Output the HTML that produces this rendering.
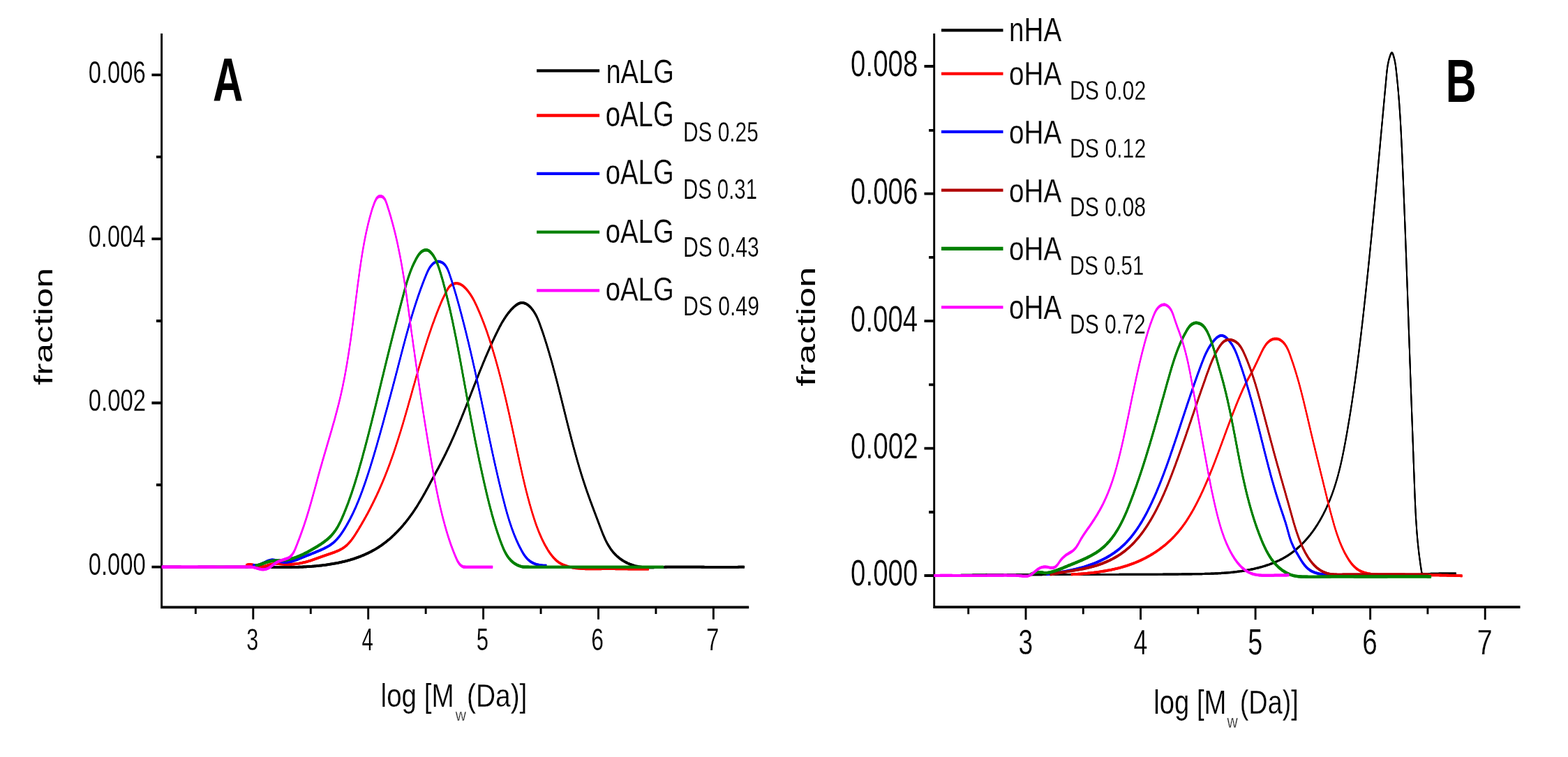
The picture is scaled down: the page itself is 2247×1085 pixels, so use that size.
<!DOCTYPE html>
<html lang="en">
<head>
<meta charset="utf-8">
<title>Molecular weight distributions</title>
<style>
html,body{margin:0;padding:0;background:#fff;}
body{width:2247px;height:1085px;overflow:hidden;font-family:"Liberation Sans",Arial,sans-serif;}
svg{display:block;}
</style>
</head>
<body>
<svg xmlns="http://www.w3.org/2000/svg" width="2247" height="1085" viewBox="0 0 2247 1085">
<rect width="2247" height="1085" fill="#ffffff"/>
<g id="fig">
<path d="M230.15 48.00h2.90v824.20h-2.90zM230.15 868.40h843.05v3.80h-843.05zM217.40 105.50h14.20v3.80h-14.20zM217.40 340.50h14.20v3.80h-14.20zM217.40 575.60h14.20v3.80h-14.20zM217.40 810.70h14.20v3.80h-14.20zM224.00 223.00h7.60v3.80h-7.60zM224.00 458.10h7.60v3.80h-7.60zM224.00 693.10h7.60v3.80h-7.60zM361.35 870.30h2.90v17.50h-2.90zM526.25 870.30h2.90v17.50h-2.90zM691.15 870.30h2.90v17.50h-2.90zM856.05 870.30h2.90v17.50h-2.90zM1020.95 870.30h2.90v17.50h-2.90zM278.90 870.30h2.90v9.60h-2.90zM443.80 870.30h2.90v9.60h-2.90zM608.70 870.30h2.90v9.60h-2.90zM773.60 870.30h2.90v9.60h-2.90zM938.50 870.30h2.90v9.60h-2.90z" fill="#000"/>
<path d="M1337.25 48.00h2.90v824.10h-2.90zM1337.25 868.30h841.25v3.80h-841.25zM1324.50 93.10h14.20v3.80h-14.20zM1324.50 275.70h14.20v3.80h-14.20zM1324.50 458.30h14.20v3.80h-14.20zM1324.50 640.70h14.20v3.80h-14.20zM1324.50 823.10h14.20v3.80h-14.20zM1331.10 184.90h7.60v3.80h-7.60zM1331.10 367.00h7.60v3.80h-7.60zM1331.10 549.50h7.60v3.80h-7.60zM1331.10 732.10h7.60v3.80h-7.60zM1468.55 870.20h2.90v18.00h-2.90zM1633.10 870.20h2.90v18.00h-2.90zM1797.65 870.20h2.90v18.00h-2.90zM1962.20 870.20h2.90v18.00h-2.90zM2126.75 870.20h2.90v18.00h-2.90zM1386.27 870.20h2.90v10.00h-2.90zM1550.82 870.20h2.90v10.00h-2.90zM1715.37 870.20h2.90v10.00h-2.90zM1879.92 870.20h2.90v10.00h-2.90zM2044.47 870.20h2.90v10.00h-2.90z" fill="#000"/>
<g fill="none" stroke="#000000" stroke-width="1.30" stroke-linejoin="round" stroke-linecap="butt">
<path id="c1" transform="translate(-0.40 -1.25)" d="M231.9 812.65 L233.5 812.51 L235.0 812.53 L236.5 812.56 L238.0 812.58 L239.4 812.60 L240.9 812.62 L242.4 812.64 L243.9 812.66 L245.4 812.67 L246.9 812.69 L248.4 812.70 L249.9 812.72 L251.4 812.73 L252.9 812.74 L254.3 812.75 L255.8 812.76 L257.3 812.76 L258.8 812.77 L260.3 812.78 L261.8 812.78 L263.3 812.79 L264.8 812.79 L266.3 812.79 L267.8 812.80 L269.3 812.80 L270.8 812.80 L272.3 812.80 L273.8 812.80 L275.3 812.79 L276.8 812.79 L278.3 812.79 L279.8 812.79 L281.3 812.78 L282.8 812.78 L284.3 812.77 L285.8 812.77 L287.3 812.76 L288.8 812.76 L290.4 812.75 L291.9 812.75 L293.4 812.74 L294.9 812.73 L296.4 812.73 L297.9 812.72 L299.4 812.71 L300.9 812.70 L302.4 812.70 L303.9 812.69 L305.4 812.68 L306.9 812.67 L308.4 812.67 L309.9 812.66 L311.4 812.65 L312.9 812.64 L314.4 812.64 L315.9 812.63 L317.5 812.62 L319.0 812.62 L320.5 812.61 L322.0 812.60 L323.5 812.60 L325.0 812.59 L326.5 812.59 L328.0 812.58 L329.5 812.58 L331.0 812.57 L332.5 812.57 L334.0 812.57 L335.5 812.56 L337.0 812.56 L338.5 812.56 L340.0 812.56 L341.5 812.56 L343.0 812.56 L344.5 812.56 L346.0 812.56 L347.5 812.57 L349.0 812.57 L350.5 812.57 L352.0 812.58 L353.5 812.58 L355.0 812.59 L356.5 812.60 L358.0 812.61 L359.5 812.62 L361.0 812.63 L362.5 812.64 L364.0 812.65 L365.5 812.67 L367.0 812.68 L368.5 812.70 L370.0 812.71 L371.5 812.73 L373.0 812.75 L374.5 812.77 L375.9 812.79 L377.4 812.81 L378.9 812.83 L380.4 812.85 L381.9 812.87 L383.4 812.89 L384.9 812.91 L386.4 812.93 L387.9 812.95 L389.4 812.97 L390.8 812.98 L392.3 813.00 L393.8 813.02 L395.3 813.03 L396.8 813.04 L398.3 813.05 L399.8 813.06 L401.3 813.07 L402.8 813.07 L404.2 813.08 L405.7 813.08 L407.2 813.08 L408.7 813.07 L410.2 813.07 L411.7 813.06 L413.2 813.05 L414.7 813.03 L416.2 813.01 L417.7 812.99 L419.2 812.97 L420.7 812.94 L422.2 812.91 L423.7 812.87 L425.2 812.83 L426.7 812.79 L428.2 812.74 L429.7 812.69 L431.2 812.63 L432.7 812.57 L434.2 812.51 L435.7 812.44 L437.2 812.36 L438.7 812.28 L440.2 812.20 L441.7 812.10 L443.2 812.01 L444.7 811.91 L446.2 811.80 L447.8 811.68 L449.3 811.56 L450.8 811.44 L452.3 811.30 L453.8 811.17 L455.3 811.02 L456.8 810.87 L458.3 810.71 L459.8 810.54 L461.4 810.37 L462.9 810.19 L464.4 810.00 L465.9 809.81 L467.4 809.61 L468.9 809.40 L470.4 809.18 L471.9 808.95 L473.4 808.72 L474.9 808.48 L476.4 808.23 L477.9 807.97 L479.4 807.70 L480.9 807.42 L482.3 807.14 L483.8 806.85 L485.3 806.54 L486.8 806.23 L488.3 805.91 L489.7 805.58 L491.2 805.24 L492.7 804.88 L494.1 804.52 L495.6 804.15 L497.0 803.77 L498.5 803.38 L499.9 802.98 L501.4 802.57 L502.8 802.15 L504.2 801.71 L505.7 801.27 L507.1 800.81 L508.5 800.34 L509.9 799.87 L511.3 799.38 L512.7 798.88 L514.1 798.36 L515.5 797.84 L516.9 797.30 L518.3 796.75 L519.6 796.19 L521.0 795.62 L522.4 795.03 L523.7 794.43 L525.1 793.82 L526.4 793.20 L527.7 792.56 L529.1 791.91 L530.4 791.25 L531.7 790.57 L533.0 789.88 L534.3 789.18 L535.6 788.46 L536.9 787.73 L538.2 786.98 L539.4 786.22 L540.7 785.45 L542.0 784.66 L543.2 783.85 L544.4 783.03 L545.7 782.20 L546.9 781.36 L548.1 780.50 L549.3 779.62 L550.5 778.73 L551.7 777.83 L552.9 776.92 L554.0 775.99 L555.2 775.05 L556.3 774.10 L557.5 773.14 L558.6 772.16 L559.8 771.17 L560.9 770.17 L562.0 769.16 L563.1 768.14 L564.2 767.11 L565.3 766.07 L566.3 765.02 L567.4 763.95 L568.5 762.88 L569.5 761.80 L570.6 760.71 L571.6 759.61 L572.6 758.50 L573.7 757.38 L574.7 756.25 L575.7 755.12 L576.7 753.98 L577.7 752.83 L578.6 751.67 L579.6 750.50 L580.6 749.33 L581.5 748.15 L582.5 746.97 L583.4 745.78 L584.3 744.58 L585.3 743.38 L586.2 742.17 L587.1 740.95 L588.0 739.74 L588.8 738.51 L589.7 737.28 L590.6 736.05 L591.5 734.81 L592.3 733.57 L593.2 732.32 L594.0 731.08 L594.8 729.82 L595.6 728.57 L596.5 727.31 L597.3 726.05 L598.1 724.78 L598.9 723.51 L599.6 722.24 L600.4 720.97 L601.2 719.69 L602.0 718.41 L602.7 717.13 L603.5 715.84 L604.2 714.56 L605.0 713.27 L605.7 711.98 L606.5 710.68 L607.2 709.39 L607.9 708.09 L608.7 706.79 L609.4 705.49 L610.1 704.18 L610.8 702.88 L611.5 701.57 L612.3 700.26 L613.0 698.95 L613.7 697.64 L614.4 696.33 L615.1 695.02 L615.8 693.70 L616.5 692.39 L617.2 691.07 L617.9 689.75 L618.6 688.44 L619.3 687.12 L620.1 685.80 L620.8 684.48 L621.5 683.16 L622.2 681.84 L622.9 680.52 L623.6 679.19 L624.3 677.87 L625.0 676.55 L625.7 675.22 L626.4 673.89 L627.2 672.57 L627.9 671.24 L628.6 669.91 L629.3 668.58 L630.0 667.25 L630.7 665.92 L631.4 664.58 L632.1 663.25 L632.8 661.91 L633.4 660.58 L634.1 659.24 L634.8 657.90 L635.5 656.56 L636.2 655.21 L636.8 653.87 L637.5 652.52 L638.2 651.18 L638.8 649.83 L639.5 648.48 L640.1 647.13 L640.8 645.77 L641.4 644.42 L642.1 643.06 L642.7 641.71 L643.4 640.35 L644.0 638.99 L644.6 637.63 L645.3 636.27 L645.9 634.90 L646.5 633.54 L647.1 632.17 L647.7 630.81 L648.3 629.44 L649.0 628.07 L649.6 626.70 L650.2 625.33 L650.8 623.95 L651.4 622.58 L652.0 621.21 L652.6 619.83 L653.1 618.46 L653.7 617.08 L654.3 615.70 L654.9 614.32 L655.5 612.94 L656.1 611.56 L656.7 610.18 L657.2 608.80 L657.8 607.41 L658.4 606.03 L658.9 604.65 L659.5 603.26 L660.1 601.88 L660.7 600.49 L661.2 599.10 L661.8 597.71 L662.3 596.33 L662.9 594.94 L663.5 593.55 L664.0 592.16 L664.6 590.77 L665.1 589.38 L665.7 587.98 L666.2 586.59 L666.8 585.20 L667.3 583.81 L667.9 582.41 L668.4 581.02 L669.0 579.63 L669.5 578.23 L670.1 576.84 L670.6 575.45 L671.2 574.05 L671.7 572.66 L672.3 571.26 L672.8 569.86 L673.4 568.47 L673.9 567.07 L674.5 565.68 L675.0 564.28 L675.5 562.89 L676.1 561.49 L676.6 560.10 L677.2 558.70 L677.7 557.30 L678.3 555.91 L678.8 554.51 L679.4 553.12 L679.9 551.72 L680.5 550.33 L681.0 548.93 L681.6 547.54 L682.1 546.14 L682.6 544.75 L683.2 543.35 L683.8 541.96 L684.3 540.57 L684.9 539.17 L685.4 537.78 L686.0 536.39 L686.5 535.00 L687.1 533.60 L687.6 532.21 L688.2 530.82 L688.8 529.43 L689.3 528.04 L689.9 526.65 L690.5 525.26 L691.0 523.88 L691.6 522.49 L692.2 521.10 L692.7 519.72 L693.3 518.33 L693.9 516.95 L694.5 515.56 L695.0 514.18 L695.6 512.79 L696.2 511.41 L696.8 510.03 L697.4 508.65 L698.0 507.27 L698.6 505.89 L699.2 504.52 L699.8 503.14 L700.4 501.76 L701.0 500.39 L701.6 499.01 L702.2 497.64 L702.8 496.27 L703.4 494.90 L704.0 493.53 L704.7 492.16 L705.3 490.79 L705.9 489.43 L706.5 488.06 L707.2 486.70 L707.8 485.34 L708.4 483.97 L709.1 482.61 L709.7 481.25 L710.4 479.90 L711.0 478.54 L711.7 477.19 L712.4 475.83 L713.0 474.48 L713.7 473.13 L714.4 471.78 L715.1 470.44 L715.7 469.10 L716.4 467.77 L717.2 466.44 L717.9 465.11 L718.6 463.80 L719.3 462.49 L720.1 461.18 L720.9 459.89 L721.7 458.60 L722.4 457.32 L723.3 456.05 L724.1 454.80 L724.9 453.55 L725.8 452.31 L726.7 451.09 L727.6 449.87 L728.5 448.68 L729.5 447.49 L730.4 446.32 L731.4 445.16 L732.4 444.02 L733.5 442.89 L734.6 441.78 L735.7 440.69 L736.8 439.64 L737.9 438.64 L739.1 437.71 L740.3 436.85 L741.5 436.08 L742.7 435.42 L743.9 434.88 L745.2 434.47 L746.5 434.19 L747.7 434.06 L749.0 434.07 L750.3 434.22 L751.6 434.52 L752.8 434.96 L754.0 435.53 L755.2 436.22 L756.4 437.03 L757.6 437.93 L758.7 438.93 L759.8 440.00 L760.9 441.15 L761.9 442.36 L762.9 443.62 L763.9 444.92 L764.8 446.26 L765.7 447.61 L766.5 448.98 L767.3 450.35 L768.1 451.73 L768.8 453.12 L769.5 454.51 L770.1 455.90 L770.7 457.30 L771.3 458.71 L771.9 460.12 L772.4 461.53 L773.0 462.94 L773.5 464.35 L774.0 465.77 L774.5 467.18 L775.0 468.60 L775.5 470.01 L776.0 471.43 L776.5 472.84 L777.0 474.26 L777.5 475.68 L778.0 477.10 L778.5 478.52 L778.9 479.94 L779.4 481.36 L779.9 482.78 L780.3 484.20 L780.8 485.62 L781.2 487.04 L781.7 488.46 L782.1 489.89 L782.6 491.31 L783.0 492.74 L783.5 494.16 L783.9 495.59 L784.3 497.02 L784.8 498.45 L785.2 499.87 L785.6 501.30 L786.0 502.74 L786.5 504.17 L786.9 505.60 L787.3 507.03 L787.7 508.47 L788.1 509.90 L788.5 511.34 L789.0 512.78 L789.4 514.22 L789.8 515.66 L790.2 517.10 L790.6 518.54 L791.0 519.98 L791.4 521.42 L791.8 522.86 L792.2 524.31 L792.6 525.75 L793.0 527.20 L793.3 528.64 L793.7 530.09 L794.1 531.53 L794.5 532.98 L794.9 534.43 L795.3 535.88 L795.7 537.33 L796.0 538.78 L796.4 540.23 L796.8 541.68 L797.2 543.13 L797.6 544.58 L797.9 546.04 L798.3 547.49 L798.7 548.94 L799.1 550.40 L799.4 551.85 L799.8 553.30 L800.2 554.76 L800.5 556.22 L800.9 557.67 L801.3 559.13 L801.6 560.58 L802.0 562.04 L802.4 563.50 L802.7 564.95 L803.1 566.41 L803.5 567.87 L803.8 569.33 L804.2 570.79 L804.6 572.24 L804.9 573.70 L805.3 575.16 L805.6 576.62 L806.0 578.08 L806.4 579.54 L806.7 581.00 L807.1 582.45 L807.5 583.91 L807.8 585.37 L808.2 586.83 L808.5 588.29 L808.9 589.75 L809.3 591.21 L809.6 592.67 L810.0 594.13 L810.4 595.59 L810.7 597.05 L811.1 598.50 L811.4 599.96 L811.8 601.42 L812.2 602.88 L812.5 604.34 L812.9 605.80 L813.3 607.25 L813.6 608.71 L814.0 610.17 L814.4 611.62 L814.7 613.08 L815.1 614.54 L815.5 615.99 L815.8 617.45 L816.2 618.90 L816.6 620.36 L817.0 621.81 L817.3 623.27 L817.7 624.72 L818.1 626.18 L818.5 627.63 L818.8 629.08 L819.2 630.53 L819.6 631.98 L820.0 633.44 L820.4 634.89 L820.7 636.34 L821.1 637.79 L821.5 639.23 L821.9 640.68 L822.3 642.13 L822.7 643.58 L823.1 645.02 L823.5 646.47 L823.9 647.91 L824.3 649.36 L824.7 650.80 L825.1 652.25 L825.5 653.69 L825.9 655.13 L826.3 656.57 L826.7 658.01 L827.1 659.45 L827.5 660.89 L827.9 662.32 L828.3 663.76 L828.8 665.20 L829.2 666.63 L829.6 668.07 L830.0 669.50 L830.4 670.93 L830.9 672.36 L831.3 673.79 L831.7 675.22 L832.2 676.65 L832.6 678.08 L833.0 679.50 L833.5 680.93 L833.9 682.35 L834.4 683.77 L834.8 685.20 L835.3 686.62 L835.7 688.04 L836.2 689.45 L836.7 690.87 L837.1 692.29 L837.6 693.70 L838.1 695.12 L838.5 696.53 L839.0 697.94 L839.5 699.35 L840.0 700.76 L840.4 702.17 L840.9 703.57 L841.4 704.98 L841.9 706.38 L842.4 707.78 L842.9 709.19 L843.4 710.59 L843.9 711.99 L844.4 713.39 L844.9 714.79 L845.4 716.19 L845.9 717.59 L846.4 718.99 L847.0 720.39 L847.5 721.79 L848.0 723.19 L848.5 724.59 L849.0 725.99 L849.6 727.40 L850.1 728.80 L850.6 730.20 L851.1 731.60 L851.7 733.01 L852.2 734.41 L852.7 735.82 L853.3 737.23 L853.8 738.64 L854.3 740.05 L854.9 741.46 L855.4 742.88 L855.9 744.29 L856.5 745.71 L857.0 747.13 L857.5 748.55 L858.1 749.97 L858.6 751.40 L859.1 752.83 L859.7 754.26 L860.2 755.69 L860.8 757.12 L861.3 758.55 L861.9 759.98 L862.4 761.41 L863.0 762.83 L863.5 764.25 L864.1 765.66 L864.7 767.07 L865.3 768.47 L865.9 769.87 L866.5 771.25 L867.1 772.63 L867.8 774.00 L868.4 775.35 L869.1 776.70 L869.8 778.03 L870.5 779.34 L871.3 780.65 L872.0 781.93 L872.8 783.20 L873.6 784.46 L874.4 785.69 L875.2 786.91 L876.1 788.11 L877.0 789.28 L877.9 790.44 L878.8 791.57 L879.8 792.68 L880.8 793.76 L881.8 794.83 L882.9 795.86 L883.9 796.87 L885.0 797.86 L886.2 798.81 L887.3 799.75 L888.5 800.65 L889.7 801.53 L890.9 802.37 L892.2 803.19 L893.4 803.98 L894.7 804.74 L896.0 805.47 L897.3 806.17 L898.7 806.84 L900.0 807.48 L901.4 808.09 L902.7 808.66 L904.1 809.20 L905.5 809.70 L906.9 810.18 L908.4 810.61 L909.8 811.02 L911.2 811.39 L912.7 811.72 L914.1 812.01 L915.6 812.27 L917.1 812.50 L918.6 812.69 L920.0 812.86 L921.5 813.00 L923.0 813.11 L924.5 813.20 L926.0 813.26 L927.5 813.31 L929.0 813.33 L930.5 813.34 L932.0 813.34 L933.5 813.32 L935.0 813.29 L936.6 813.26 L938.1 813.22 L939.6 813.17 L941.1 813.12 L942.6 813.06 L944.1 813.01 L945.7 812.96 L947.2 812.92 L948.7 812.87 L950.2 812.83 L951.7 812.80 L953.2 812.76 L954.7 812.73 L956.2 812.70 L957.7 812.67 L959.2 812.65 L960.8 812.63 L962.3 812.61 L963.8 812.59 L965.3 812.58 L966.8 812.57 L968.3 812.55 L969.8 812.55 L971.3 812.54 L972.8 812.53 L974.3 812.53 L975.8 812.53 L977.3 812.53 L978.8 812.53 L980.3 812.53 L981.8 812.54 L983.3 812.54 L984.8 812.55 L986.3 812.56 L987.8 812.57 L989.3 812.58 L990.8 812.59 L992.3 812.60 L993.8 812.61 L995.2 812.63 L996.7 812.64 L998.2 812.65 L999.7 812.67 L1001.2 812.68 L1002.7 812.70 L1004.2 812.71 L1005.7 812.73 L1007.2 812.74 L1008.7 812.76 L1010.2 812.78 L1011.7 812.79 L1013.2 812.81 L1014.7 812.82 L1016.2 812.83 L1017.7 812.85 L1019.2 812.86 L1020.7 812.87 L1022.2 812.89 L1023.7 812.90 L1025.2 812.91 L1026.7 812.92 L1028.2 812.92 L1029.6 812.93 L1031.1 812.94 L1032.6 812.94 L1034.1 812.95 L1035.6 812.95 L1037.1 812.95 L1038.6 812.95 L1040.1 812.94 L1041.6 812.94 L1043.2 812.93 L1044.7 812.92 L1046.2 812.91 L1047.7 812.90 L1049.2 812.89 L1050.7 812.87 L1052.2 812.85 L1053.7 812.83 L1055.2 812.81 L1056.7 812.78 L1058.2 812.75 L1059.7 812.72 L1061.2 812.69 L1062.7 812.65 L1064.3 812.61 L1065.8 812.57 L1066.7 812.77"/>
<use href="#c1" x="0.00" y="0.83"/>
<use href="#c1" x="0.00" y="1.67"/>
<use href="#c1" x="0.00" y="2.50"/>
<use href="#c1" x="0.80" y="0.00"/>
<use href="#c1" x="0.80" y="0.83"/>
<use href="#c1" x="0.80" y="1.67"/>
<use href="#c1" x="0.80" y="2.50"/>
</g>
<g fill="none" stroke="#ff0000" stroke-width="1.30" stroke-linejoin="round" stroke-linecap="butt">
<path id="c2" transform="translate(-0.30 -1.25)" d="M352.5 810.25 L354.0 809.62 L355.4 809.22 L356.9 809.02 L358.4 808.99 L359.9 809.10 L361.4 809.32 L362.9 809.64 L364.5 810.02 L366.0 810.44 L367.5 810.86 L369.0 811.26 L370.5 811.62 L372.0 811.90 L373.5 812.09 L375.0 812.14 L376.5 812.05 L377.9 811.83 L379.4 811.51 L380.8 811.11 L382.3 810.66 L383.7 810.18 L385.1 809.70 L386.6 809.25 L388.0 808.86 L389.5 808.54 L390.9 808.30 L392.4 808.15 L393.8 808.06 L395.3 808.02 L396.8 808.04 L398.3 808.10 L399.8 808.18 L401.3 808.29 L402.7 808.41 L404.2 808.53 L405.7 808.64 L407.2 808.74 L408.7 808.81 L410.2 808.86 L411.7 808.89 L413.2 808.89 L414.7 808.86 L416.2 808.81 L417.7 808.74 L419.2 808.65 L420.7 808.53 L422.2 808.39 L423.7 808.22 L425.2 808.04 L426.7 807.83 L428.2 807.60 L429.6 807.35 L431.1 807.08 L432.6 806.79 L434.0 806.48 L435.5 806.15 L436.9 805.81 L438.4 805.44 L439.8 805.05 L441.3 804.65 L442.7 804.23 L444.1 803.79 L445.5 803.34 L446.9 802.87 L448.3 802.39 L449.7 801.90 L451.1 801.40 L452.5 800.89 L453.9 800.38 L455.3 799.86 L456.7 799.35 L458.1 798.83 L459.5 798.31 L460.9 797.79 L462.3 797.28 L463.7 796.78 L465.2 796.28 L466.6 795.79 L468.1 795.31 L469.5 794.83 L471.0 794.34 L472.5 793.86 L473.9 793.37 L475.4 792.87 L476.8 792.37 L478.3 791.85 L479.7 791.31 L481.1 790.76 L482.5 790.19 L483.9 789.60 L485.3 788.98 L486.6 788.33 L487.9 787.66 L489.2 786.95 L490.5 786.21 L491.8 785.43 L493.0 784.61 L494.1 783.75 L495.3 782.85 L496.4 781.90 L497.5 780.92 L498.5 779.91 L499.5 778.86 L500.5 777.78 L501.5 776.67 L502.4 775.53 L503.4 774.37 L504.3 773.18 L505.2 771.98 L506.0 770.76 L506.9 769.52 L507.7 768.26 L508.6 767.00 L509.4 765.72 L510.2 764.44 L511.0 763.15 L511.8 761.86 L512.6 760.57 L513.4 759.27 L514.2 757.97 L514.9 756.67 L515.7 755.37 L516.5 754.07 L517.3 752.77 L518.0 751.46 L518.8 750.16 L519.5 748.85 L520.3 747.54 L521.0 746.23 L521.8 744.91 L522.5 743.60 L523.3 742.28 L524.0 740.97 L524.7 739.65 L525.4 738.32 L526.2 737.00 L526.9 735.68 L527.6 734.35 L528.3 733.02 L529.0 731.69 L529.7 730.36 L530.4 729.03 L531.1 727.69 L531.7 726.36 L532.4 725.02 L533.1 723.68 L533.8 722.34 L534.4 721.00 L535.1 719.65 L535.8 718.31 L536.4 716.96 L537.1 715.61 L537.7 714.26 L538.4 712.91 L539.0 711.55 L539.7 710.20 L540.3 708.84 L540.9 707.48 L541.5 706.12 L542.2 704.76 L542.8 703.40 L543.4 702.03 L544.0 700.67 L544.6 699.30 L545.2 697.93 L545.8 696.56 L546.4 695.19 L547.0 693.81 L547.6 692.44 L548.2 691.06 L548.7 689.68 L549.3 688.30 L549.9 686.92 L550.5 685.54 L551.0 684.15 L551.6 682.77 L552.1 681.38 L552.7 679.99 L553.2 678.60 L553.8 677.21 L554.3 675.81 L554.9 674.42 L555.4 673.02 L555.9 671.63 L556.5 670.23 L557.0 668.83 L557.5 667.43 L558.1 666.03 L558.6 664.62 L559.1 663.22 L559.6 661.81 L560.1 660.40 L560.6 659.00 L561.1 657.59 L561.6 656.18 L562.1 654.76 L562.6 653.35 L563.1 651.94 L563.6 650.52 L564.1 649.11 L564.6 647.69 L565.0 646.27 L565.5 644.85 L566.0 643.43 L566.5 642.01 L566.9 640.59 L567.4 639.17 L567.9 637.75 L568.3 636.32 L568.8 634.90 L569.3 633.47 L569.7 632.04 L570.2 630.62 L570.6 629.19 L571.1 627.76 L571.5 626.33 L572.0 624.90 L572.4 623.47 L572.9 622.03 L573.3 620.60 L573.8 619.17 L574.2 617.73 L574.7 616.30 L575.1 614.86 L575.5 613.43 L576.0 611.99 L576.4 610.55 L576.8 609.12 L577.3 607.68 L577.7 606.24 L578.1 604.80 L578.5 603.36 L579.0 601.92 L579.4 600.48 L579.8 599.04 L580.2 597.60 L580.6 596.15 L581.1 594.71 L581.5 593.27 L581.9 591.83 L582.3 590.38 L582.7 588.94 L583.1 587.50 L583.6 586.05 L584.0 584.61 L584.4 583.16 L584.8 581.72 L585.2 580.27 L585.6 578.83 L586.0 577.38 L586.4 575.94 L586.8 574.49 L587.3 573.05 L587.7 571.60 L588.1 570.15 L588.5 568.71 L588.9 567.26 L589.3 565.82 L589.7 564.37 L590.1 562.93 L590.5 561.48 L590.9 560.03 L591.3 558.59 L591.7 557.14 L592.1 555.70 L592.5 554.25 L593.0 552.81 L593.4 551.36 L593.8 549.92 L594.2 548.47 L594.6 547.03 L595.0 545.58 L595.4 544.14 L595.8 542.69 L596.2 541.25 L596.6 539.81 L597.0 538.36 L597.5 536.92 L597.9 535.48 L598.3 534.04 L598.7 532.59 L599.1 531.15 L599.5 529.71 L599.9 528.27 L600.4 526.83 L600.8 525.39 L601.2 523.95 L601.6 522.52 L602.0 521.08 L602.5 519.64 L602.9 518.20 L603.3 516.77 L603.7 515.33 L604.2 513.89 L604.6 512.46 L605.0 511.03 L605.5 509.59 L605.9 508.16 L606.3 506.73 L606.8 505.29 L607.2 503.86 L607.6 502.43 L608.1 501.00 L608.5 499.57 L609.0 498.14 L609.4 496.71 L609.9 495.29 L610.3 493.86 L610.8 492.43 L611.2 491.01 L611.7 489.58 L612.1 488.16 L612.6 486.73 L613.1 485.31 L613.5 483.89 L614.0 482.47 L614.5 481.05 L614.9 479.63 L615.4 478.21 L615.9 476.79 L616.4 475.37 L616.9 473.96 L617.4 472.54 L617.8 471.13 L618.3 469.71 L618.8 468.30 L619.3 466.88 L619.8 465.47 L620.3 464.06 L620.8 462.65 L621.4 461.24 L621.9 459.83 L622.4 458.43 L622.9 457.02 L623.4 455.62 L623.9 454.21 L624.5 452.81 L625.0 451.40 L625.5 450.00 L626.1 448.60 L626.6 447.20 L627.2 445.80 L627.7 444.40 L628.3 443.01 L628.8 441.61 L629.4 440.22 L630.0 438.83 L630.6 437.44 L631.1 436.05 L631.7 434.67 L632.3 433.29 L632.9 431.91 L633.5 430.54 L634.1 429.16 L634.8 427.80 L635.4 426.43 L636.1 425.07 L636.7 423.72 L637.4 422.36 L638.0 421.02 L638.7 419.67 L639.4 418.34 L640.1 417.01 L640.8 415.68 L641.6 414.37 L642.4 413.09 L643.2 411.86 L644.1 410.71 L645.1 409.64 L646.3 408.68 L647.5 407.85 L649.0 407.15 L650.4 406.62 L652.0 406.27 L653.5 406.11 L654.9 406.13 L656.3 406.32 L657.7 406.67 L659.0 407.15 L660.3 407.77 L661.6 408.50 L662.8 409.33 L664.0 410.25 L665.1 411.25 L666.2 412.30 L667.3 413.41 L668.4 414.55 L669.4 415.72 L670.4 416.90 L671.3 418.09 L672.2 419.31 L673.1 420.54 L674.0 421.78 L674.8 423.04 L675.6 424.31 L676.4 425.59 L677.1 426.88 L677.9 428.19 L678.6 429.50 L679.3 430.82 L680.0 432.15 L680.6 433.49 L681.3 434.83 L681.9 436.19 L682.6 437.54 L683.2 438.90 L683.8 440.27 L684.4 441.63 L685.0 443.00 L685.6 444.38 L686.2 445.75 L686.8 447.13 L687.4 448.51 L688.0 449.89 L688.5 451.27 L689.1 452.66 L689.7 454.05 L690.2 455.44 L690.8 456.83 L691.3 458.22 L691.9 459.62 L692.4 461.02 L693.0 462.42 L693.5 463.82 L694.0 465.22 L694.5 466.63 L695.1 468.03 L695.6 469.44 L696.1 470.85 L696.6 472.27 L697.1 473.68 L697.6 475.09 L698.1 476.51 L698.6 477.93 L699.0 479.35 L699.5 480.77 L700.0 482.19 L700.5 483.61 L701.0 485.04 L701.4 486.46 L701.9 487.89 L702.4 489.32 L702.8 490.75 L703.3 492.18 L703.7 493.61 L704.2 495.04 L704.6 496.47 L705.1 497.91 L705.5 499.34 L705.9 500.78 L706.4 502.21 L706.8 503.65 L707.2 505.09 L707.7 506.52 L708.1 507.96 L708.5 509.40 L708.9 510.84 L709.4 512.28 L709.8 513.73 L710.2 515.17 L710.6 516.61 L711.0 518.05 L711.4 519.50 L711.8 520.94 L712.2 522.39 L712.6 523.83 L713.0 525.28 L713.4 526.72 L713.8 528.17 L714.2 529.62 L714.6 531.07 L715.0 532.52 L715.3 533.97 L715.7 535.42 L716.1 536.87 L716.5 538.32 L716.9 539.77 L717.2 541.22 L717.6 542.67 L718.0 544.13 L718.3 545.58 L718.7 547.03 L719.1 548.49 L719.4 549.94 L719.8 551.40 L720.2 552.85 L720.5 554.31 L720.9 555.76 L721.2 557.22 L721.6 558.68 L721.9 560.13 L722.3 561.59 L722.6 563.05 L723.0 564.51 L723.3 565.97 L723.7 567.43 L724.0 568.89 L724.4 570.35 L724.7 571.81 L725.1 573.27 L725.4 574.73 L725.7 576.19 L726.1 577.65 L726.4 579.11 L726.7 580.57 L727.1 582.04 L727.4 583.50 L727.7 584.96 L728.1 586.42 L728.4 587.89 L728.7 589.35 L729.1 590.81 L729.4 592.28 L729.7 593.74 L730.0 595.20 L730.4 596.67 L730.7 598.13 L731.0 599.60 L731.3 601.06 L731.6 602.53 L732.0 603.99 L732.3 605.46 L732.6 606.92 L732.9 608.39 L733.3 609.85 L733.6 611.32 L733.9 612.78 L734.2 614.25 L734.5 615.71 L734.8 617.18 L735.2 618.64 L735.5 620.11 L735.8 621.58 L736.1 623.04 L736.4 624.51 L736.7 625.97 L737.1 627.44 L737.4 628.91 L737.7 630.37 L738.0 631.84 L738.3 633.30 L738.6 634.77 L738.9 636.23 L739.3 637.70 L739.6 639.17 L739.9 640.63 L740.2 642.10 L740.5 643.56 L740.8 645.03 L741.1 646.49 L741.5 647.96 L741.8 649.42 L742.1 650.89 L742.4 652.35 L742.7 653.82 L743.0 655.28 L743.4 656.74 L743.7 658.21 L744.0 659.67 L744.3 661.13 L744.6 662.60 L745.0 664.06 L745.3 665.52 L745.6 666.99 L745.9 668.45 L746.3 669.91 L746.6 671.37 L746.9 672.84 L747.2 674.30 L747.6 675.76 L747.9 677.22 L748.2 678.68 L748.5 680.14 L748.9 681.60 L749.2 683.06 L749.5 684.52 L749.9 685.97 L750.2 687.43 L750.6 688.89 L750.9 690.35 L751.3 691.80 L751.6 693.26 L751.9 694.71 L752.3 696.17 L752.6 697.62 L753.0 699.08 L753.4 700.53 L753.7 701.98 L754.1 703.43 L754.4 704.88 L754.8 706.33 L755.2 707.78 L755.6 709.23 L755.9 710.68 L756.3 712.13 L756.7 713.57 L757.1 715.02 L757.5 716.46 L757.9 717.91 L758.3 719.35 L758.6 720.79 L759.0 722.24 L759.5 723.68 L759.9 725.12 L760.3 726.56 L760.7 727.99 L761.1 729.43 L761.5 730.87 L762.0 732.30 L762.4 733.74 L762.8 735.17 L763.3 736.60 L763.7 738.03 L764.2 739.46 L764.6 740.89 L765.1 742.32 L765.5 743.74 L766.0 745.17 L766.5 746.59 L766.9 748.01 L767.4 749.43 L767.9 750.85 L768.4 752.26 L768.9 753.68 L769.4 755.09 L770.0 756.49 L770.5 757.90 L771.0 759.30 L771.6 760.70 L772.1 762.09 L772.7 763.48 L773.3 764.87 L773.9 766.25 L774.5 767.63 L775.1 769.01 L775.7 770.38 L776.3 771.75 L776.9 773.11 L777.6 774.47 L778.3 775.82 L778.9 777.17 L779.6 778.51 L780.3 779.85 L781.0 781.18 L781.8 782.50 L782.5 783.82 L783.3 785.14 L784.1 786.45 L784.8 787.75 L785.6 789.04 L786.5 790.32 L787.3 791.58 L788.2 792.83 L789.1 794.06 L790.0 795.27 L790.9 796.45 L791.8 797.61 L792.8 798.74 L793.8 799.84 L794.8 800.91 L795.9 801.94 L796.9 802.94 L798.0 803.90 L799.2 804.81 L800.3 805.68 L801.5 806.51 L802.8 807.28 L804.0 808.01 L805.3 808.69 L806.6 809.32 L808.0 809.92 L809.4 810.47 L810.7 810.98 L812.2 811.45 L813.6 811.88 L815.0 812.28 L816.5 812.65 L818.0 812.98 L819.5 813.28 L821.0 813.56 L822.5 813.81 L824.0 814.04 L825.5 814.24 L827.0 814.42 L828.5 814.58 L830.0 814.72 L831.5 814.85 L833.0 814.96 L834.5 815.06 L836.1 815.14 L837.5 815.21 L839.0 815.27 L840.5 815.31 L842.0 815.35 L843.5 815.37 L845.0 815.39 L846.5 815.40 L848.0 815.40 L849.5 815.39 L851.0 815.38 L852.5 815.37 L853.9 815.35 L855.4 815.33 L856.9 815.31 L858.4 815.29 L859.9 815.27 L861.4 815.24 L862.9 815.22 L864.4 815.20 L865.8 815.19 L867.3 815.18 L868.8 815.17 L870.3 815.17 L871.8 815.17 L873.3 815.17 L874.8 815.17 L876.3 815.18 L877.8 815.19 L879.3 815.20 L880.8 815.21 L882.3 815.23 L883.8 815.24 L885.3 815.26 L886.8 815.28 L888.3 815.30 L889.8 815.32 L891.3 815.34 L892.8 815.37 L894.3 815.39 L895.8 815.41 L897.3 815.44 L898.8 815.46 L900.3 815.48 L901.8 815.51 L903.4 815.53 L904.9 815.55 L906.4 815.57 L907.9 815.59 L909.4 815.61 L910.9 815.63 L912.4 815.64 L913.9 815.65 L915.4 815.67 L916.9 815.67 L918.4 815.68 L919.9 815.69 L921.3 815.69 L922.8 815.69 L924.3 815.68 L925.8 815.67 L927.3 815.66 L928.8 815.65 L929.7 815.64"/>
<use href="#c2" x="0.00" y="0.83"/>
<use href="#c2" x="0.00" y="1.67"/>
<use href="#c2" x="0.00" y="2.50"/>
<use href="#c2" x="0.60" y="0.00"/>
<use href="#c2" x="0.60" y="0.83"/>
<use href="#c2" x="0.60" y="1.67"/>
<use href="#c2" x="0.60" y="2.50"/>
</g>
<g fill="none" stroke="#0000ff" stroke-width="1.30" stroke-linejoin="round" stroke-linecap="butt">
<path id="c3" transform="translate(-0.35 -1.25)" d="M362.5 809.88 L364.0 810.22 L365.6 810.31 L367.1 810.25 L368.6 810.06 L370.1 809.75 L371.5 809.34 L372.9 808.85 L374.3 808.29 L375.7 807.68 L377.1 807.04 L378.5 806.38 L379.8 805.72 L381.2 805.08 L382.6 804.47 L383.9 803.91 L385.3 803.42 L386.6 803.02 L388.0 802.71 L389.3 802.52 L390.7 802.46 L392.1 802.55 L393.5 802.76 L394.9 803.08 L396.3 803.46 L397.8 803.89 L399.2 804.33 L400.7 804.76 L402.1 805.14 L403.6 805.45 L405.1 805.69 L406.5 805.84 L408.0 805.92 L409.5 805.92 L411.0 805.84 L412.4 805.69 L413.9 805.48 L415.4 805.21 L416.9 804.89 L418.3 804.51 L419.8 804.09 L421.2 803.64 L422.7 803.15 L424.1 802.63 L425.6 802.09 L427.0 801.53 L428.4 800.96 L429.8 800.38 L431.3 799.81 L432.7 799.23 L434.1 798.67 L435.5 798.10 L436.8 797.55 L438.2 797.00 L439.6 796.45 L441.0 795.91 L442.3 795.36 L443.7 794.82 L445.1 794.28 L446.5 793.73 L447.8 793.19 L449.2 792.64 L450.6 792.09 L451.9 791.53 L453.3 790.97 L454.7 790.40 L456.1 789.82 L457.5 789.23 L458.9 788.64 L460.3 788.03 L461.7 787.40 L463.1 786.76 L464.5 786.10 L465.8 785.42 L467.2 784.72 L468.5 784.00 L469.8 783.25 L471.2 782.48 L472.4 781.68 L473.7 780.85 L474.9 779.99 L476.1 779.10 L477.3 778.17 L478.4 777.21 L479.5 776.22 L480.6 775.20 L481.6 774.15 L482.6 773.07 L483.6 771.97 L484.6 770.85 L485.6 769.70 L486.5 768.53 L487.4 767.35 L488.3 766.15 L489.2 764.93 L490.0 763.69 L490.9 762.45 L491.7 761.19 L492.5 759.92 L493.3 758.65 L494.1 757.37 L494.9 756.08 L495.6 754.79 L496.4 753.49 L497.1 752.19 L497.9 750.88 L498.6 749.57 L499.3 748.26 L500.0 746.94 L500.8 745.62 L501.5 744.29 L502.1 742.96 L502.8 741.62 L503.5 740.28 L504.2 738.94 L504.8 737.60 L505.5 736.25 L506.1 734.89 L506.8 733.54 L507.4 732.18 L508.0 730.81 L508.6 729.45 L509.3 728.08 L509.9 726.71 L510.5 725.33 L511.0 723.95 L511.6 722.57 L512.2 721.19 L512.8 719.80 L513.4 718.41 L513.9 717.02 L514.5 715.63 L515.0 714.23 L515.6 712.84 L516.1 711.44 L516.7 710.03 L517.2 708.63 L517.7 707.22 L518.2 705.82 L518.8 704.41 L519.3 703.00 L519.8 701.59 L520.3 700.17 L520.8 698.76 L521.3 697.34 L521.8 695.93 L522.3 694.51 L522.8 693.09 L523.3 691.67 L523.8 690.25 L524.3 688.83 L524.7 687.41 L525.2 685.98 L525.7 684.56 L526.2 683.14 L526.6 681.71 L527.1 680.29 L527.6 678.86 L528.0 677.43 L528.5 676.01 L528.9 674.58 L529.4 673.15 L529.9 671.72 L530.3 670.29 L530.8 668.86 L531.2 667.43 L531.6 666.00 L532.1 664.57 L532.5 663.13 L533.0 661.70 L533.4 660.27 L533.8 658.83 L534.3 657.40 L534.7 655.96 L535.1 654.53 L535.6 653.09 L536.0 651.66 L536.4 650.22 L536.8 648.78 L537.3 647.34 L537.7 645.91 L538.1 644.47 L538.5 643.03 L538.9 641.59 L539.4 640.15 L539.8 638.71 L540.2 637.27 L540.6 635.83 L541.0 634.39 L541.4 632.95 L541.8 631.51 L542.2 630.06 L542.6 628.62 L543.0 627.18 L543.5 625.74 L543.9 624.29 L544.3 622.85 L544.7 621.41 L545.1 619.96 L545.5 618.52 L545.9 617.07 L546.3 615.63 L546.7 614.19 L547.1 612.74 L547.5 611.30 L547.9 609.85 L548.3 608.41 L548.7 606.96 L549.1 605.52 L549.5 604.07 L549.9 602.62 L550.3 601.18 L550.6 599.73 L551.0 598.29 L551.4 596.84 L551.8 595.39 L552.2 593.95 L552.6 592.50 L553.0 591.05 L553.4 589.61 L553.8 588.16 L554.2 586.71 L554.6 585.27 L555.0 583.82 L555.4 582.37 L555.8 580.92 L556.2 579.48 L556.6 578.03 L556.9 576.58 L557.3 575.13 L557.7 573.68 L558.1 572.24 L558.5 570.79 L558.9 569.34 L559.3 567.89 L559.7 566.44 L560.1 564.99 L560.4 563.54 L560.8 562.09 L561.2 560.64 L561.6 559.19 L562.0 557.75 L562.4 556.30 L562.8 554.85 L563.1 553.40 L563.5 551.95 L563.9 550.50 L564.3 549.04 L564.7 547.59 L565.1 546.14 L565.4 544.69 L565.8 543.24 L566.2 541.79 L566.6 540.34 L567.0 538.89 L567.3 537.44 L567.7 535.99 L568.1 534.53 L568.5 533.08 L568.9 531.63 L569.2 530.18 L569.6 528.73 L570.0 527.27 L570.4 525.82 L570.7 524.37 L571.1 522.92 L571.5 521.46 L571.9 520.01 L572.2 518.56 L572.6 517.11 L573.0 515.65 L573.4 514.20 L573.8 512.75 L574.1 511.30 L574.5 509.85 L574.9 508.40 L575.3 506.94 L575.6 505.49 L576.0 504.04 L576.4 502.59 L576.8 501.14 L577.2 499.69 L577.5 498.24 L577.9 496.79 L578.3 495.34 L578.7 493.89 L579.1 492.44 L579.5 490.99 L579.9 489.54 L580.2 488.09 L580.6 486.64 L581.0 485.20 L581.4 483.75 L581.8 482.30 L582.2 480.86 L582.6 479.41 L583.0 477.96 L583.4 476.52 L583.8 475.07 L584.2 473.63 L584.6 472.19 L585.0 470.74 L585.4 469.30 L585.8 467.86 L586.2 466.42 L586.6 464.97 L587.0 463.53 L587.5 462.09 L587.9 460.65 L588.3 459.22 L588.7 457.78 L589.1 456.34 L589.6 454.90 L590.0 453.47 L590.4 452.03 L590.9 450.60 L591.3 449.16 L591.7 447.73 L592.2 446.30 L592.6 444.87 L593.1 443.44 L593.5 442.01 L594.0 440.58 L594.4 439.15 L594.9 437.72 L595.3 436.30 L595.8 434.87 L596.3 433.45 L596.7 432.02 L597.2 430.60 L597.7 429.18 L598.2 427.76 L598.6 426.34 L599.1 424.92 L599.6 423.50 L600.1 422.08 L600.6 420.67 L601.1 419.25 L601.6 417.84 L602.1 416.42 L602.6 415.01 L603.1 413.60 L603.6 412.19 L604.2 410.78 L604.7 409.38 L605.2 407.97 L605.7 406.57 L606.3 405.16 L606.8 403.76 L607.3 402.36 L607.9 400.96 L608.4 399.56 L609.0 398.16 L609.6 396.77 L610.1 395.37 L610.7 393.98 L611.3 392.59 L611.9 391.20 L612.5 389.83 L613.1 388.46 L613.8 387.11 L614.5 385.78 L615.3 384.46 L616.1 383.17 L617.0 381.90 L618.0 380.66 L619.0 379.47 L620.2 378.35 L621.3 377.34 L622.5 376.45 L623.8 375.72 L625.1 375.17 L626.5 374.83 L627.9 374.72 L629.2 374.81 L630.6 375.08 L631.9 375.52 L633.2 376.10 L634.4 376.80 L635.5 377.62 L636.5 378.54 L637.5 379.56 L638.4 380.66 L639.2 381.84 L640.0 383.09 L640.7 384.40 L641.4 385.77 L642.0 387.18 L642.6 388.63 L643.2 390.10 L643.7 391.60 L644.2 393.10 L644.7 394.61 L645.2 396.12 L645.7 397.62 L646.2 399.11 L646.7 400.59 L647.2 402.07 L647.7 403.55 L648.1 405.01 L648.6 406.48 L649.1 407.94 L649.5 409.39 L649.9 410.85 L650.4 412.29 L650.8 413.74 L651.3 415.18 L651.7 416.62 L652.1 418.06 L652.5 419.49 L653.0 420.92 L653.4 422.35 L653.8 423.78 L654.2 425.21 L654.6 426.64 L655.0 428.07 L655.4 429.50 L655.8 430.93 L656.2 432.35 L656.6 433.78 L657.0 435.21 L657.4 436.65 L657.8 438.08 L658.2 439.51 L658.6 440.94 L659.0 442.38 L659.3 443.81 L659.7 445.25 L660.1 446.69 L660.5 448.13 L660.9 449.56 L661.3 451.00 L661.6 452.44 L662.0 453.89 L662.4 455.33 L662.8 456.77 L663.1 458.21 L663.5 459.66 L663.9 461.10 L664.3 462.55 L664.6 463.99 L665.0 465.44 L665.4 466.89 L665.7 468.34 L666.1 469.78 L666.5 471.23 L666.8 472.68 L667.2 474.13 L667.6 475.59 L667.9 477.04 L668.3 478.49 L668.6 479.94 L669.0 481.40 L669.3 482.85 L669.7 484.30 L670.0 485.76 L670.4 487.22 L670.8 488.67 L671.1 490.13 L671.5 491.59 L671.8 493.04 L672.1 494.50 L672.5 495.96 L672.8 497.42 L673.2 498.88 L673.5 500.34 L673.9 501.80 L674.2 503.26 L674.6 504.72 L674.9 506.18 L675.2 507.65 L675.6 509.11 L675.9 510.57 L676.2 512.03 L676.6 513.50 L676.9 514.96 L677.3 516.43 L677.6 517.89 L677.9 519.35 L678.2 520.82 L678.6 522.29 L678.9 523.75 L679.2 525.22 L679.6 526.68 L679.9 528.15 L680.2 529.62 L680.6 531.08 L680.9 532.55 L681.2 534.02 L681.5 535.49 L681.9 536.95 L682.2 538.42 L682.5 539.89 L682.8 541.36 L683.1 542.83 L683.5 544.29 L683.8 545.76 L684.1 547.23 L684.4 548.70 L684.7 550.17 L685.1 551.64 L685.4 553.11 L685.7 554.58 L686.0 556.05 L686.3 557.52 L686.6 558.99 L687.0 560.45 L687.3 561.92 L687.6 563.39 L687.9 564.86 L688.2 566.33 L688.5 567.80 L688.8 569.27 L689.2 570.74 L689.5 572.21 L689.8 573.68 L690.1 575.15 L690.4 576.62 L690.7 578.09 L691.0 579.56 L691.3 581.02 L691.6 582.49 L691.9 583.96 L692.3 585.43 L692.6 586.90 L692.9 588.37 L693.2 589.83 L693.5 591.30 L693.8 592.77 L694.1 594.24 L694.4 595.71 L694.7 597.17 L695.0 598.64 L695.3 600.11 L695.6 601.58 L696.0 603.04 L696.3 604.51 L696.6 605.98 L696.9 607.44 L697.2 608.91 L697.5 610.38 L697.8 611.84 L698.1 613.31 L698.4 614.78 L698.7 616.24 L699.0 617.71 L699.3 619.17 L699.7 620.64 L700.0 622.10 L700.3 623.57 L700.6 625.03 L700.9 626.50 L701.2 627.96 L701.5 629.43 L701.8 630.89 L702.1 632.36 L702.4 633.82 L702.8 635.29 L703.1 636.75 L703.4 638.22 L703.7 639.68 L704.0 641.14 L704.3 642.61 L704.6 644.07 L705.0 645.53 L705.3 647.00 L705.6 648.46 L705.9 649.92 L706.2 651.39 L706.6 652.85 L706.9 654.31 L707.2 655.77 L707.5 657.24 L707.8 658.70 L708.2 660.16 L708.5 661.62 L708.8 663.08 L709.1 664.54 L709.5 666.01 L709.8 667.47 L710.1 668.93 L710.5 670.39 L710.8 671.85 L711.1 673.31 L711.5 674.77 L711.8 676.23 L712.1 677.69 L712.5 679.15 L712.8 680.61 L713.1 682.07 L713.5 683.53 L713.8 684.99 L714.2 686.45 L714.5 687.91 L714.8 689.37 L715.2 690.82 L715.5 692.28 L715.9 693.74 L716.2 695.20 L716.6 696.66 L716.9 698.12 L717.3 699.57 L717.6 701.03 L718.0 702.49 L718.4 703.95 L718.7 705.40 L719.1 706.86 L719.4 708.32 L719.8 709.77 L720.2 711.23 L720.5 712.69 L720.9 714.14 L721.3 715.60 L721.7 717.05 L722.0 718.51 L722.4 719.96 L722.8 721.42 L723.2 722.87 L723.5 724.33 L723.9 725.78 L724.3 727.23 L724.7 728.68 L725.1 730.13 L725.5 731.58 L725.9 733.03 L726.3 734.47 L726.7 735.92 L727.1 737.36 L727.6 738.80 L728.0 740.24 L728.4 741.68 L728.9 743.12 L729.3 744.56 L729.7 745.99 L730.2 747.42 L730.7 748.85 L731.1 750.28 L731.6 751.70 L732.1 753.12 L732.6 754.54 L733.0 755.96 L733.5 757.37 L734.0 758.79 L734.6 760.20 L735.1 761.60 L735.6 763.00 L736.1 764.40 L736.7 765.80 L737.2 767.19 L737.8 768.58 L738.4 769.97 L739.0 771.36 L739.5 772.73 L740.1 774.11 L740.7 775.48 L741.4 776.85 L742.0 778.22 L742.6 779.58 L743.3 780.93 L743.9 782.28 L744.6 783.63 L745.3 784.98 L746.0 786.32 L746.7 787.65 L747.4 788.98 L748.1 790.30 L748.9 791.60 L749.6 792.89 L750.4 794.16 L751.2 795.40 L752.1 796.61 L753.0 797.80 L753.9 798.95 L754.8 800.06 L755.8 801.13 L756.9 802.15 L758.0 803.12 L759.1 804.04 L760.3 804.91 L761.6 805.71 L762.9 806.45 L764.2 807.12 L765.6 807.73 L767.1 808.27 L768.6 808.76 L770.1 809.18 L771.7 809.54 L773.2 809.85 L774.8 810.10 L776.3 810.31 L777.8 810.46 L779.3 810.56 L780.7 810.62 L782.1 810.63 L783.2 810.62"/>
<use href="#c3" x="0.00" y="0.83"/>
<use href="#c3" x="0.00" y="1.67"/>
<use href="#c3" x="0.00" y="2.50"/>
<use href="#c3" x="0.70" y="0.00"/>
<use href="#c3" x="0.70" y="0.83"/>
<use href="#c3" x="0.70" y="1.67"/>
<use href="#c3" x="0.70" y="2.50"/>
</g>
<g fill="none" stroke="#008000" stroke-width="1.30" stroke-linejoin="round" stroke-linecap="butt">
<path id="c4" transform="translate(-0.50 -1.45)" d="M366.2 810.25 L367.7 810.25 L369.2 809.98 L370.7 809.64 L372.1 809.25 L373.5 808.82 L374.9 808.36 L376.3 807.87 L377.7 807.38 L379.1 806.88 L380.5 806.39 L381.9 805.92 L383.3 805.47 L384.7 805.06 L386.1 804.70 L387.5 804.38 L389.0 804.13 L390.4 803.94 L391.9 803.79 L393.4 803.68 L394.9 803.59 L396.4 803.53 L397.9 803.48 L399.4 803.44 L400.9 803.38 L402.4 803.32 L403.9 803.23 L405.4 803.11 L406.9 802.96 L408.4 802.78 L409.9 802.56 L411.4 802.30 L412.8 802.02 L414.3 801.71 L415.7 801.36 L417.2 800.99 L418.6 800.59 L420.0 800.17 L421.4 799.71 L422.8 799.24 L424.2 798.74 L425.6 798.22 L427.0 797.67 L428.4 797.11 L429.8 796.52 L431.2 795.92 L432.6 795.30 L433.9 794.66 L435.3 794.00 L436.6 793.33 L438.0 792.65 L439.3 791.95 L440.7 791.24 L442.0 790.52 L443.3 789.79 L444.7 789.05 L446.0 788.31 L447.3 787.55 L448.6 786.79 L449.9 786.02 L451.2 785.25 L452.5 784.47 L453.8 783.69 L455.1 782.90 L456.4 782.10 L457.7 781.29 L458.9 780.47 L460.2 779.64 L461.4 778.80 L462.7 777.95 L463.9 777.08 L465.1 776.20 L466.2 775.30 L467.4 774.38 L468.5 773.45 L469.7 772.49 L470.8 771.52 L471.9 770.53 L472.9 769.52 L474.0 768.48 L475.0 767.42 L475.9 766.34 L476.9 765.23 L477.8 764.10 L478.7 762.94 L479.6 761.76 L480.5 760.55 L481.3 759.32 L482.1 758.08 L482.9 756.81 L483.7 755.52 L484.4 754.22 L485.1 752.91 L485.8 751.58 L486.5 750.23 L487.2 748.88 L487.9 747.51 L488.5 746.14 L489.2 744.76 L489.8 743.37 L490.4 741.97 L491.0 740.58 L491.6 739.18 L492.2 737.77 L492.8 736.37 L493.4 734.97 L493.9 733.56 L494.5 732.16 L495.1 730.75 L495.6 729.34 L496.2 727.93 L496.7 726.53 L497.3 725.12 L497.8 723.70 L498.4 722.29 L498.9 720.88 L499.4 719.47 L499.9 718.05 L500.4 716.64 L500.9 715.22 L501.4 713.80 L501.9 712.39 L502.4 710.97 L502.9 709.55 L503.4 708.13 L503.9 706.71 L504.4 705.29 L504.8 703.86 L505.3 702.44 L505.8 701.02 L506.2 699.59 L506.7 698.17 L507.2 696.74 L507.6 695.32 L508.1 693.89 L508.5 692.46 L509.0 691.03 L509.4 689.60 L509.8 688.17 L510.3 686.74 L510.7 685.31 L511.1 683.88 L511.6 682.45 L512.0 681.02 L512.4 679.58 L512.8 678.15 L513.3 676.71 L513.7 675.28 L514.1 673.84 L514.5 672.41 L514.9 670.97 L515.3 669.53 L515.7 668.10 L516.1 666.66 L516.5 665.22 L517.0 663.78 L517.4 662.34 L517.8 660.90 L518.2 659.46 L518.6 658.02 L519.0 656.58 L519.4 655.13 L519.8 653.69 L520.1 652.25 L520.5 650.81 L520.9 649.36 L521.3 647.92 L521.7 646.47 L522.1 645.03 L522.5 643.58 L522.9 642.14 L523.3 640.69 L523.6 639.24 L524.0 637.80 L524.4 636.35 L524.8 634.90 L525.2 633.45 L525.6 632.00 L525.9 630.55 L526.3 629.10 L526.7 627.65 L527.1 626.20 L527.4 624.75 L527.8 623.30 L528.2 621.85 L528.6 620.40 L528.9 618.95 L529.3 617.50 L529.7 616.04 L530.0 614.59 L530.4 613.14 L530.8 611.69 L531.1 610.23 L531.5 608.78 L531.9 607.32 L532.2 605.87 L532.6 604.42 L533.0 602.96 L533.3 601.51 L533.7 600.05 L534.0 598.60 L534.4 597.14 L534.8 595.68 L535.1 594.23 L535.5 592.77 L535.8 591.31 L536.2 589.86 L536.6 588.40 L536.9 586.94 L537.3 585.49 L537.6 584.03 L538.0 582.57 L538.3 581.11 L538.7 579.65 L539.1 578.20 L539.4 576.74 L539.8 575.28 L540.1 573.82 L540.5 572.36 L540.8 570.90 L541.2 569.44 L541.5 567.99 L541.9 566.53 L542.2 565.07 L542.6 563.61 L543.0 562.15 L543.3 560.69 L543.7 559.23 L544.0 557.77 L544.4 556.31 L544.7 554.85 L545.1 553.39 L545.4 551.93 L545.8 550.47 L546.1 549.01 L546.5 547.55 L546.8 546.09 L547.2 544.63 L547.5 543.17 L547.9 541.71 L548.2 540.25 L548.6 538.79 L549.0 537.33 L549.3 535.87 L549.7 534.41 L550.0 532.95 L550.4 531.49 L550.7 530.03 L551.1 528.57 L551.4 527.11 L551.8 525.65 L552.1 524.19 L552.5 522.73 L552.9 521.27 L553.2 519.81 L553.6 518.35 L553.9 516.89 L554.3 515.43 L554.6 513.97 L555.0 512.51 L555.4 511.06 L555.7 509.60 L556.1 508.14 L556.5 506.68 L556.8 505.22 L557.2 503.76 L557.5 502.30 L557.9 500.85 L558.3 499.39 L558.6 497.93 L559.0 496.47 L559.4 495.02 L559.7 493.56 L560.1 492.10 L560.5 490.65 L560.8 489.19 L561.2 487.73 L561.6 486.28 L561.9 484.82 L562.3 483.37 L562.7 481.91 L563.0 480.46 L563.4 479.00 L563.8 477.55 L564.1 476.09 L564.5 474.64 L564.9 473.18 L565.3 471.73 L565.6 470.28 L566.0 468.83 L566.4 467.37 L566.8 465.92 L567.1 464.47 L567.5 463.02 L567.9 461.57 L568.2 460.11 L568.6 458.66 L569.0 457.21 L569.4 455.76 L569.7 454.31 L570.1 452.86 L570.5 451.42 L570.9 449.97 L571.3 448.52 L571.6 447.07 L572.0 445.62 L572.4 444.18 L572.8 442.73 L573.1 441.28 L573.5 439.84 L573.9 438.39 L574.3 436.95 L574.7 435.50 L575.0 434.06 L575.4 432.62 L575.8 431.17 L576.2 429.73 L576.6 428.29 L576.9 426.85 L577.3 425.41 L577.7 423.96 L578.1 422.52 L578.5 421.08 L578.8 419.65 L579.2 418.21 L579.6 416.77 L580.0 415.33 L580.4 413.90 L580.8 412.46 L581.2 411.02 L581.6 409.59 L582.0 408.16 L582.4 406.72 L582.8 405.29 L583.2 403.86 L583.7 402.43 L584.1 401.01 L584.6 399.58 L585.0 398.15 L585.5 396.73 L586.0 395.30 L586.5 393.88 L587.0 392.46 L587.5 391.04 L588.0 389.63 L588.5 388.21 L589.1 386.79 L589.7 385.38 L590.2 383.97 L590.8 382.56 L591.4 381.15 L592.1 379.75 L592.7 378.34 L593.4 376.94 L594.1 375.54 L594.8 374.14 L595.5 372.74 L596.2 371.35 L597.0 369.96 L597.8 368.59 L598.6 367.25 L599.4 365.96 L600.3 364.72 L601.3 363.54 L602.3 362.44 L603.3 361.44 L604.4 360.53 L605.6 359.74 L606.9 359.09 L608.1 358.61 L609.4 358.31 L610.7 358.23 L611.9 358.40 L613.1 358.78 L614.3 359.36 L615.4 360.11 L616.5 361.01 L617.5 362.04 L618.5 363.17 L619.5 364.37 L620.4 365.62 L621.3 366.90 L622.1 368.20 L622.8 369.53 L623.6 370.87 L624.3 372.23 L624.9 373.61 L625.6 375.00 L626.2 376.41 L626.7 377.82 L627.3 379.25 L627.8 380.68 L628.3 382.12 L628.8 383.56 L629.3 385.01 L629.8 386.45 L630.2 387.90 L630.7 389.35 L631.1 390.79 L631.6 392.23 L632.0 393.68 L632.4 395.12 L632.8 396.56 L633.3 398.00 L633.7 399.45 L634.1 400.89 L634.5 402.33 L634.9 403.77 L635.3 405.21 L635.7 406.65 L636.0 408.10 L636.4 409.54 L636.8 410.98 L637.2 412.43 L637.6 413.87 L637.9 415.32 L638.3 416.76 L638.7 418.21 L639.0 419.66 L639.4 421.11 L639.8 422.56 L640.1 424.01 L640.5 425.46 L640.8 426.91 L641.2 428.36 L641.6 429.81 L641.9 431.27 L642.2 432.72 L642.6 434.17 L642.9 435.63 L643.3 437.08 L643.6 438.54 L644.0 440.00 L644.3 441.45 L644.6 442.91 L645.0 444.37 L645.3 445.83 L645.6 447.29 L645.9 448.75 L646.3 450.21 L646.6 451.67 L646.9 453.13 L647.2 454.60 L647.5 456.06 L647.9 457.52 L648.2 458.99 L648.5 460.45 L648.8 461.92 L649.1 463.38 L649.4 464.85 L649.7 466.31 L650.0 467.78 L650.3 469.25 L650.6 470.71 L650.9 472.18 L651.2 473.65 L651.5 475.12 L651.8 476.59 L652.1 478.06 L652.4 479.53 L652.7 481.00 L653.0 482.47 L653.3 483.94 L653.6 485.41 L653.9 486.88 L654.2 488.35 L654.5 489.82 L654.8 491.29 L655.0 492.77 L655.3 494.24 L655.6 495.71 L655.9 497.19 L656.2 498.66 L656.5 500.13 L656.7 501.61 L657.0 503.08 L657.3 504.56 L657.6 506.03 L657.9 507.51 L658.1 508.98 L658.4 510.46 L658.7 511.93 L659.0 513.41 L659.2 514.88 L659.5 516.36 L659.8 517.84 L660.1 519.31 L660.3 520.79 L660.6 522.27 L660.9 523.74 L661.1 525.22 L661.4 526.70 L661.7 528.17 L662.0 529.65 L662.2 531.13 L662.5 532.61 L662.8 534.08 L663.0 535.56 L663.3 537.04 L663.6 538.52 L663.8 539.99 L664.1 541.47 L664.4 542.95 L664.7 544.43 L664.9 545.90 L665.2 547.38 L665.5 548.86 L665.7 550.34 L666.0 551.81 L666.3 553.29 L666.5 554.77 L666.8 556.25 L667.1 557.72 L667.3 559.20 L667.6 560.68 L667.9 562.15 L668.2 563.63 L668.4 565.11 L668.7 566.58 L669.0 568.06 L669.2 569.54 L669.5 571.01 L669.8 572.49 L670.1 573.97 L670.3 575.44 L670.6 576.92 L670.9 578.40 L671.1 579.87 L671.4 581.35 L671.7 582.82 L672.0 584.30 L672.2 585.77 L672.5 587.25 L672.8 588.72 L673.1 590.20 L673.3 591.67 L673.6 593.15 L673.9 594.62 L674.2 596.10 L674.5 597.57 L674.7 599.05 L675.0 600.52 L675.3 601.99 L675.6 603.47 L675.9 604.94 L676.1 606.42 L676.4 607.89 L676.7 609.36 L677.0 610.83 L677.3 612.31 L677.6 613.78 L677.8 615.25 L678.1 616.72 L678.4 618.20 L678.7 619.67 L679.0 621.14 L679.3 622.61 L679.6 624.08 L679.9 625.55 L680.1 627.03 L680.4 628.50 L680.7 629.97 L681.0 631.44 L681.3 632.91 L681.6 634.38 L681.9 635.85 L682.2 637.32 L682.5 638.79 L682.8 640.26 L683.1 641.72 L683.4 643.19 L683.7 644.66 L684.0 646.13 L684.3 647.60 L684.6 649.07 L684.9 650.53 L685.2 652.00 L685.5 653.47 L685.8 654.93 L686.1 656.40 L686.4 657.87 L686.7 659.33 L687.0 660.80 L687.4 662.27 L687.7 663.73 L688.0 665.20 L688.3 666.66 L688.6 668.13 L688.9 669.59 L689.2 671.05 L689.6 672.52 L689.9 673.98 L690.2 675.44 L690.5 676.91 L690.8 678.37 L691.2 679.83 L691.5 681.29 L691.8 682.75 L692.1 684.22 L692.5 685.68 L692.8 687.14 L693.1 688.60 L693.4 690.06 L693.8 691.52 L694.1 692.98 L694.4 694.44 L694.8 695.90 L695.1 697.36 L695.4 698.81 L695.8 700.27 L696.1 701.73 L696.5 703.19 L696.8 704.64 L697.1 706.10 L697.5 707.56 L697.8 709.01 L698.2 710.47 L698.5 711.92 L698.9 713.38 L699.2 714.83 L699.6 716.29 L700.0 717.74 L700.3 719.19 L700.7 720.64 L701.0 722.10 L701.4 723.55 L701.8 725.00 L702.2 726.45 L702.5 727.90 L702.9 729.35 L703.3 730.80 L703.7 732.25 L704.1 733.69 L704.5 735.14 L704.8 736.59 L705.2 738.04 L705.6 739.48 L706.1 740.93 L706.5 742.37 L706.9 743.81 L707.3 745.26 L707.7 746.70 L708.1 748.14 L708.6 749.58 L709.0 751.02 L709.4 752.46 L709.9 753.90 L710.3 755.34 L710.8 756.78 L711.2 758.22 L711.7 759.65 L712.2 761.09 L712.6 762.52 L713.1 763.96 L713.6 765.39 L714.1 766.82 L714.6 768.26 L715.1 769.69 L715.6 771.12 L716.1 772.55 L716.6 773.97 L717.1 775.40 L717.7 776.83 L718.2 778.25 L718.7 779.68 L719.3 781.10 L719.9 782.51 L720.4 783.92 L721.0 785.31 L721.6 786.70 L722.2 788.07 L722.9 789.43 L723.5 790.77 L724.2 792.09 L724.9 793.38 L725.7 794.66 L726.4 795.91 L727.2 797.13 L728.1 798.33 L728.9 799.49 L729.8 800.62 L730.8 801.72 L731.7 802.78 L732.7 803.80 L733.8 804.79 L734.9 805.73 L736.0 806.62 L737.2 807.47 L738.5 808.28 L739.7 809.03 L741.1 809.73 L742.5 810.38 L743.9 810.97 L745.5 811.51 L747.0 811.98 L748.7 812.40 L749.8 812.70 L751.3 812.72 L752.8 812.72 L754.3 812.72 L755.8 812.72 L757.3 812.72 L758.8 812.73 L760.3 812.73 L761.8 812.73 L763.3 812.73 L764.8 812.73 L766.3 812.73 L767.8 812.73 L769.3 812.74 L770.8 812.74 L772.3 812.74 L773.8 812.74 L775.3 812.74 L776.8 812.74 L778.3 812.74 L779.8 812.74 L781.3 812.75 L782.8 812.75 L784.3 812.75 L785.8 812.75 L787.3 812.75 L788.8 812.75 L790.3 812.75 L791.8 812.75 L793.3 812.75 L794.8 812.75 L796.3 812.75 L797.8 812.76 L799.3 812.76 L800.8 812.76 L802.3 812.76 L803.8 812.76 L805.3 812.76 L806.8 812.76 L808.3 812.76 L809.8 812.76 L811.3 812.76 L812.8 812.76 L814.3 812.76 L815.8 812.76 L817.3 812.76 L818.8 812.76 L820.3 812.77 L821.8 812.77 L823.3 812.77 L824.8 812.77 L826.3 812.77 L827.8 812.77 L829.3 812.77 L830.8 812.77 L832.3 812.77 L833.8 812.77 L835.3 812.77 L836.8 812.77 L838.3 812.77 L839.8 812.77 L841.3 812.77 L842.8 812.77 L844.3 812.77 L845.8 812.77 L847.3 812.77 L848.8 812.77 L850.3 812.77 L851.8 812.77 L853.3 812.77 L854.8 812.77 L856.3 812.77 L857.8 812.77 L859.3 812.77 L860.8 812.77 L862.3 812.77 L863.8 812.77 L865.3 812.77 L866.8 812.77 L868.3 812.77 L869.8 812.77 L871.3 812.77 L872.8 812.77 L874.3 812.77 L875.8 812.77 L877.3 812.77 L878.8 812.77 L880.3 812.77 L881.8 812.77 L883.3 812.77 L884.8 812.77 L886.3 812.77 L887.8 812.77 L889.3 812.77 L890.8 812.77 L892.3 812.77 L893.8 812.77 L895.3 812.77 L896.8 812.77 L898.3 812.77 L899.8 812.77 L901.3 812.77 L902.8 812.77 L904.3 812.77 L905.8 812.77 L907.3 812.77 L908.8 812.77 L910.3 812.77 L911.8 812.77 L913.3 812.77 L914.8 812.77 L916.3 812.77 L917.8 812.77 L919.3 812.77 L920.8 812.77 L922.3 812.77 L923.8 812.77 L925.3 812.77 L926.8 812.77 L928.3 812.77 L929.8 812.77 L931.3 812.77 L932.8 812.77 L934.3 812.77 L935.8 812.77 L937.3 812.77 L938.8 812.77 L940.3 812.77 L941.8 812.77 L943.3 812.77 L944.8 812.77 L946.3 812.77 L947.8 812.77 L949.3 812.77 L950.8 812.77 L950.8 812.77"/>
<use href="#c4" x="0.00" y="0.97"/>
<use href="#c4" x="0.00" y="1.93"/>
<use href="#c4" x="0.00" y="2.90"/>
<use href="#c4" x="1.00" y="0.00"/>
<use href="#c4" x="1.00" y="0.97"/>
<use href="#c4" x="1.00" y="1.93"/>
<use href="#c4" x="1.00" y="2.90"/>
</g>
<g fill="none" stroke="#ff00ff" stroke-width="1.30" stroke-linejoin="round" stroke-linecap="butt">
<path id="c5" transform="translate(-0.25 -1.45)" d="M231.9 812.65 L233.4 812.69 L234.9 812.68 L236.4 812.67 L237.9 812.66 L239.4 812.65 L240.9 812.64 L242.4 812.64 L243.9 812.63 L245.4 812.62 L246.9 812.62 L248.4 812.61 L249.9 812.61 L251.4 812.61 L252.9 812.61 L254.4 812.60 L255.9 812.60 L257.4 812.60 L258.9 812.60 L260.4 812.60 L261.9 812.60 L263.4 812.60 L264.9 812.61 L266.4 812.61 L267.9 812.61 L269.4 812.61 L270.9 812.62 L272.4 812.62 L273.9 812.63 L275.4 812.63 L276.9 812.63 L278.4 812.64 L279.9 812.64 L281.4 812.65 L282.9 812.65 L284.4 812.66 L285.9 812.66 L287.4 812.67 L288.9 812.67 L290.4 812.68 L291.9 812.68 L293.4 812.69 L294.9 812.69 L296.4 812.70 L297.9 812.70 L299.4 812.70 L300.9 812.71 L302.4 812.71 L303.9 812.72 L305.4 812.72 L306.9 812.72 L308.4 812.72 L309.9 812.73 L311.4 812.73 L312.9 812.73 L314.4 812.73 L315.9 812.73 L317.4 812.73 L318.9 812.73 L320.4 812.73 L321.9 812.72 L323.4 812.72 L324.9 812.72 L326.4 812.71 L327.9 812.71 L329.4 812.70 L330.9 812.69 L332.4 812.69 L333.9 812.68 L335.4 812.67 L336.9 812.66 L338.4 812.65 L339.9 812.64 L341.4 812.62 L342.9 812.61 L344.4 812.60 L345.9 812.58 L347.4 812.56 L348.9 812.54 L350.4 812.53 L351.9 812.51 L353.4 812.50 L354.9 812.50 L356.4 812.53 L357.9 812.59 L359.3 812.69 L360.8 812.83 L362.3 813.03 L363.8 813.28 L365.2 813.61 L366.7 813.99 L368.1 814.41 L369.6 814.84 L371.0 815.26 L372.5 815.62 L373.9 815.91 L375.3 816.10 L376.8 816.16 L378.2 816.11 L379.6 815.93 L381.0 815.62 L382.4 815.20 L383.8 814.67 L385.1 814.01 L386.4 813.25 L387.6 812.40 L388.9 811.50 L390.1 810.55 L391.3 809.60 L392.6 808.65 L393.8 807.74 L395.1 806.89 L396.4 806.12 L397.7 805.42 L399.0 804.78 L400.4 804.20 L401.8 803.66 L403.2 803.17 L404.6 802.70 L406.0 802.27 L407.4 801.84 L408.8 801.40 L410.2 800.94 L411.6 800.42 L412.9 799.83 L414.1 799.16 L415.3 798.38 L416.3 797.49 L417.3 796.50 L418.2 795.43 L419.1 794.27 L419.9 793.05 L420.7 791.76 L421.4 790.43 L422.1 789.05 L422.7 787.64 L423.3 786.20 L423.9 784.75 L424.5 783.29 L425.1 781.83 L425.6 780.38 L426.2 778.93 L426.7 777.50 L427.3 776.07 L427.8 774.64 L428.4 773.22 L428.9 771.81 L429.4 770.39 L430.0 768.98 L430.5 767.57 L431.0 766.17 L431.5 764.76 L432.0 763.36 L432.5 761.96 L433.0 760.55 L433.5 759.15 L434.0 757.74 L434.5 756.33 L435.0 754.92 L435.5 753.50 L435.9 752.09 L436.4 750.68 L436.9 749.26 L437.3 747.84 L437.8 746.42 L438.3 745.00 L438.7 743.58 L439.2 742.15 L439.6 740.73 L440.1 739.30 L440.5 737.87 L440.9 736.45 L441.4 735.02 L441.8 733.58 L442.2 732.15 L442.7 730.72 L443.1 729.29 L443.5 727.85 L443.9 726.42 L444.3 724.98 L444.8 723.54 L445.2 722.10 L445.6 720.66 L446.0 719.22 L446.4 717.78 L446.8 716.34 L447.2 714.90 L447.6 713.46 L448.0 712.02 L448.4 710.57 L448.8 709.13 L449.2 707.68 L449.6 706.24 L450.0 704.79 L450.4 703.35 L450.8 701.90 L451.2 700.45 L451.6 699.01 L452.0 697.56 L452.4 696.11 L452.8 694.66 L453.2 693.22 L453.6 691.77 L454.0 690.32 L454.4 688.87 L454.7 687.42 L455.1 685.97 L455.5 684.53 L455.9 683.08 L456.3 681.63 L456.7 680.18 L457.1 678.74 L457.5 677.29 L457.9 675.84 L458.3 674.39 L458.7 672.95 L459.1 671.50 L459.5 670.06 L460.0 668.61 L460.4 667.16 L460.8 665.72 L461.2 664.28 L461.6 662.83 L462.0 661.39 L462.4 659.95 L462.8 658.50 L463.3 657.06 L463.7 655.62 L464.1 654.17 L464.5 652.73 L464.9 651.29 L465.4 649.85 L465.8 648.41 L466.2 646.97 L466.6 645.53 L467.1 644.08 L467.5 642.64 L467.9 641.20 L468.3 639.76 L468.7 638.32 L469.2 636.88 L469.6 635.44 L470.0 634.00 L470.4 632.56 L470.9 631.12 L471.3 629.68 L471.7 628.24 L472.1 626.80 L472.6 625.36 L473.0 623.92 L473.4 622.47 L473.8 621.03 L474.2 619.59 L474.7 618.15 L475.1 616.71 L475.5 615.27 L475.9 613.82 L476.3 612.38 L476.7 610.94 L477.1 609.50 L477.5 608.05 L477.9 606.61 L478.4 605.17 L478.8 603.72 L479.2 602.28 L479.6 600.83 L480.0 599.39 L480.4 597.94 L480.7 596.50 L481.1 595.05 L481.5 593.60 L481.9 592.15 L482.3 590.71 L482.7 589.26 L483.1 587.81 L483.4 586.36 L483.8 584.91 L484.2 583.46 L484.6 582.01 L484.9 580.56 L485.3 579.10 L485.7 577.65 L486.0 576.20 L486.4 574.74 L486.7 573.29 L487.1 571.83 L487.4 570.37 L487.8 568.92 L488.1 567.46 L488.4 566.00 L488.8 564.54 L489.1 563.08 L489.4 561.62 L489.7 560.16 L490.1 558.70 L490.4 557.23 L490.7 555.77 L491.0 554.30 L491.3 552.84 L491.6 551.37 L491.9 549.91 L492.2 548.44 L492.5 546.97 L492.8 545.50 L493.1 544.04 L493.4 542.57 L493.7 541.10 L493.9 539.63 L494.2 538.15 L494.5 536.68 L494.8 535.21 L495.0 533.74 L495.3 532.26 L495.6 530.79 L495.8 529.32 L496.1 527.84 L496.3 526.37 L496.6 524.89 L496.9 523.41 L497.1 521.94 L497.4 520.46 L497.6 518.98 L497.8 517.50 L498.1 516.02 L498.3 514.54 L498.6 513.06 L498.8 511.58 L499.0 510.10 L499.3 508.62 L499.5 507.14 L499.7 505.66 L500.0 504.18 L500.2 502.69 L500.4 501.21 L500.6 499.73 L500.9 498.25 L501.1 496.76 L501.3 495.28 L501.5 493.79 L501.7 492.31 L501.9 490.82 L502.2 489.34 L502.4 487.85 L502.6 486.36 L502.8 484.88 L503.0 483.39 L503.2 481.90 L503.4 480.42 L503.6 478.93 L503.8 477.44 L504.0 475.95 L504.2 474.47 L504.4 472.98 L504.6 471.49 L504.8 470.00 L505.0 468.51 L505.2 467.02 L505.4 465.53 L505.6 464.04 L505.8 462.56 L506.0 461.07 L506.2 459.58 L506.4 458.09 L506.6 456.60 L506.7 455.11 L506.9 453.62 L507.1 452.13 L507.3 450.63 L507.5 449.14 L507.7 447.65 L507.9 446.16 L508.1 444.67 L508.3 443.18 L508.4 441.69 L508.6 440.20 L508.8 438.71 L509.0 437.22 L509.2 435.73 L509.4 434.24 L509.6 432.75 L509.8 431.26 L509.9 429.77 L510.1 428.27 L510.3 426.78 L510.5 425.29 L510.7 423.80 L510.9 422.31 L511.1 420.82 L511.3 419.33 L511.5 417.84 L511.7 416.35 L511.8 414.86 L512.0 413.37 L512.2 411.88 L512.4 410.39 L512.6 408.90 L512.8 407.42 L513.0 405.93 L513.2 404.44 L513.4 402.95 L513.6 401.46 L513.8 399.97 L514.0 398.48 L514.2 397.00 L514.4 395.51 L514.6 394.02 L514.8 392.53 L515.0 391.05 L515.2 389.56 L515.4 388.07 L515.6 386.59 L515.8 385.10 L516.1 383.62 L516.3 382.13 L516.5 380.65 L516.7 379.17 L516.9 377.68 L517.1 376.20 L517.4 374.72 L517.6 373.23 L517.8 371.75 L518.1 370.27 L518.3 368.79 L518.5 367.31 L518.8 365.83 L519.0 364.36 L519.2 362.88 L519.5 361.40 L519.7 359.93 L520.0 358.45 L520.2 356.98 L520.5 355.50 L520.7 354.03 L521.0 352.56 L521.3 351.09 L521.5 349.62 L521.8 348.15 L522.1 346.68 L522.4 345.21 L522.6 343.75 L522.9 342.28 L523.2 340.82 L523.5 339.36 L523.8 337.90 L524.1 336.44 L524.4 334.98 L524.7 333.52 L525.0 332.06 L525.3 330.61 L525.7 329.15 L526.0 327.70 L526.3 326.25 L526.7 324.80 L527.0 323.35 L527.3 321.90 L527.7 320.46 L528.0 319.01 L528.4 317.57 L528.8 316.13 L529.1 314.69 L529.5 313.25 L529.9 311.81 L530.3 310.38 L530.7 308.94 L531.1 307.50 L531.5 306.05 L531.9 304.60 L532.3 303.14 L532.8 301.67 L533.2 300.18 L533.7 298.68 L534.2 297.17 L534.8 295.64 L535.3 294.08 L535.9 292.51 L536.5 290.93 L537.1 289.37 L537.8 287.86 L538.5 286.43 L539.2 285.11 L540.1 283.94 L541.0 282.94 L542.0 282.14 L543.0 281.58 L544.2 281.29 L545.4 281.26 L546.6 281.46 L547.7 281.89 L548.8 282.51 L549.7 283.31 L550.5 284.26 L551.3 285.34 L552.0 286.54 L552.6 287.84 L553.1 289.20 L553.7 290.62 L554.2 292.07 L554.7 293.54 L555.1 295.00 L555.6 296.47 L556.1 297.93 L556.5 299.40 L557.0 300.87 L557.5 302.33 L557.9 303.80 L558.3 305.27 L558.8 306.73 L559.2 308.20 L559.7 309.67 L560.1 311.13 L560.5 312.60 L560.9 314.07 L561.3 315.54 L561.7 317.01 L562.1 318.47 L562.5 319.94 L562.9 321.41 L563.3 322.88 L563.7 324.35 L564.1 325.82 L564.5 327.29 L564.8 328.76 L565.2 330.23 L565.6 331.70 L565.9 333.17 L566.3 334.64 L566.7 336.11 L567.0 337.58 L567.4 339.05 L567.7 340.52 L568.0 341.99 L568.4 343.47 L568.7 344.94 L569.0 346.41 L569.4 347.88 L569.7 349.35 L570.0 350.83 L570.3 352.30 L570.6 353.77 L570.9 355.25 L571.2 356.72 L571.5 358.19 L571.8 359.67 L572.1 361.14 L572.4 362.61 L572.7 364.09 L573.0 365.56 L573.3 367.04 L573.6 368.51 L573.8 369.99 L574.1 371.46 L574.4 372.94 L574.7 374.41 L574.9 375.89 L575.2 377.36 L575.5 378.84 L575.7 380.31 L576.0 381.79 L576.2 383.26 L576.5 384.74 L576.7 386.22 L577.0 387.69 L577.2 389.17 L577.5 390.65 L577.7 392.13 L578.0 393.60 L578.2 395.08 L578.5 396.56 L578.7 398.03 L578.9 399.51 L579.2 400.99 L579.4 402.47 L579.6 403.95 L579.8 405.43 L580.1 406.90 L580.3 408.38 L580.5 409.86 L580.7 411.34 L581.0 412.82 L581.2 414.30 L581.4 415.78 L581.6 417.26 L581.8 418.74 L582.0 420.22 L582.3 421.70 L582.5 423.18 L582.7 424.66 L582.9 426.14 L583.1 427.62 L583.3 429.10 L583.5 430.58 L583.7 432.06 L583.9 433.54 L584.1 435.02 L584.3 436.50 L584.5 437.98 L584.8 439.47 L585.0 440.95 L585.2 442.43 L585.4 443.91 L585.6 445.39 L585.8 446.88 L586.0 448.36 L586.2 449.84 L586.4 451.32 L586.6 452.80 L586.8 454.29 L587.0 455.77 L587.2 457.25 L587.4 458.74 L587.6 460.22 L587.8 461.70 L588.0 463.19 L588.2 464.67 L588.4 466.15 L588.6 467.64 L588.8 469.12 L589.0 470.60 L589.2 472.09 L589.4 473.57 L589.6 475.06 L589.8 476.54 L590.0 478.02 L590.2 479.51 L590.4 480.99 L590.7 482.48 L590.9 483.96 L591.1 485.45 L591.3 486.93 L591.5 488.42 L591.7 489.90 L591.9 491.38 L592.1 492.87 L592.3 494.35 L592.5 495.84 L592.7 497.32 L592.9 498.81 L593.1 500.29 L593.4 501.78 L593.6 503.27 L593.8 504.75 L594.0 506.24 L594.2 507.72 L594.4 509.21 L594.6 510.69 L594.8 512.18 L595.0 513.66 L595.3 515.15 L595.5 516.63 L595.7 518.12 L595.9 519.60 L596.1 521.09 L596.3 522.58 L596.5 524.06 L596.8 525.55 L597.0 527.03 L597.2 528.52 L597.4 530.00 L597.6 531.49 L597.8 532.97 L598.0 534.46 L598.3 535.95 L598.5 537.43 L598.7 538.92 L598.9 540.40 L599.1 541.89 L599.3 543.37 L599.6 544.86 L599.8 546.34 L600.0 547.83 L600.2 549.31 L600.4 550.80 L600.7 552.28 L600.9 553.77 L601.1 555.25 L601.3 556.74 L601.6 558.22 L601.8 559.71 L602.0 561.19 L602.2 562.68 L602.4 564.16 L602.7 565.65 L602.9 567.13 L603.1 568.62 L603.3 570.10 L603.6 571.59 L603.8 573.07 L604.0 574.56 L604.3 576.04 L604.5 577.52 L604.7 579.01 L604.9 580.49 L605.2 581.98 L605.4 583.46 L605.6 584.94 L605.8 586.43 L606.1 587.91 L606.3 589.39 L606.5 590.88 L606.8 592.36 L607.0 593.84 L607.2 595.33 L607.5 596.81 L607.7 598.29 L607.9 599.77 L608.2 601.26 L608.4 602.74 L608.6 604.22 L608.9 605.70 L609.1 607.19 L609.3 608.67 L609.6 610.15 L609.8 611.63 L610.1 613.11 L610.3 614.59 L610.5 616.07 L610.8 617.56 L611.0 619.04 L611.3 620.52 L611.5 622.00 L611.7 623.48 L612.0 624.96 L612.2 626.44 L612.5 627.92 L612.7 629.40 L612.9 630.88 L613.2 632.36 L613.4 633.84 L613.7 635.31 L613.9 636.79 L614.2 638.27 L614.4 639.75 L614.7 641.23 L614.9 642.71 L615.2 644.18 L615.4 645.66 L615.7 647.14 L615.9 648.62 L616.2 650.09 L616.4 651.57 L616.7 653.05 L616.9 654.52 L617.2 656.00 L617.4 657.48 L617.7 658.95 L617.9 660.43 L618.2 661.90 L618.4 663.38 L618.7 664.85 L618.9 666.33 L619.2 667.80 L619.5 669.28 L619.7 670.75 L620.0 672.22 L620.2 673.70 L620.5 675.17 L620.8 676.64 L621.0 678.12 L621.3 679.59 L621.6 681.06 L621.8 682.53 L622.1 684.00 L622.4 685.47 L622.7 686.94 L622.9 688.41 L623.2 689.88 L623.5 691.35 L623.8 692.82 L624.0 694.29 L624.3 695.76 L624.6 697.22 L624.9 698.69 L625.2 700.16 L625.5 701.63 L625.8 703.09 L626.1 704.56 L626.4 706.02 L626.7 707.49 L627.0 708.95 L627.3 710.42 L627.6 711.88 L627.9 713.34 L628.2 714.80 L628.5 716.27 L628.9 717.73 L629.2 719.19 L629.5 720.65 L629.8 722.11 L630.2 723.57 L630.5 725.03 L630.8 726.49 L631.2 727.94 L631.5 729.40 L631.9 730.86 L632.2 732.31 L632.6 733.77 L632.9 735.23 L633.3 736.68 L633.6 738.13 L634.0 739.59 L634.4 741.04 L634.7 742.49 L635.1 743.94 L635.5 745.39 L635.9 746.84 L636.3 748.29 L636.7 749.74 L637.1 751.19 L637.4 752.64 L637.9 754.09 L638.3 755.53 L638.7 756.98 L639.1 758.42 L639.5 759.87 L639.9 761.31 L640.4 762.75 L640.8 764.19 L641.2 765.63 L641.7 767.07 L642.1 768.50 L642.6 769.94 L643.0 771.37 L643.5 772.80 L644.0 774.23 L644.5 775.66 L644.9 777.08 L645.4 778.50 L645.9 779.93 L646.4 781.35 L646.9 782.76 L647.5 784.18 L648.0 785.59 L648.5 787.00 L649.1 788.41 L649.6 789.81 L650.1 791.21 L650.7 792.61 L651.3 794.01 L651.8 795.40 L652.4 796.79 L653.0 798.18 L653.6 799.56 L654.2 800.94 L654.8 802.30 L655.5 803.65 L656.2 804.96 L657.0 806.22 L657.8 807.43 L658.7 808.57 L659.7 809.64 L660.8 810.61 L662.0 811.49 L663.4 812.26 L664.6 812.70 L666.1 812.72 L667.6 812.73 L669.1 812.73 L670.6 812.74 L672.1 812.74 L673.6 812.74 L675.1 812.74 L676.6 812.75 L678.1 812.75 L679.6 812.75 L681.1 812.75 L682.6 812.75 L684.1 812.75 L685.6 812.74 L687.1 812.74 L688.6 812.74 L690.1 812.74 L691.6 812.74 L693.1 812.74 L694.6 812.74 L696.1 812.74 L697.6 812.74 L699.1 812.74 L700.6 812.74 L702.1 812.74 L703.6 812.74 L705.1 812.74 L706.0 812.74"/>
<use href="#c5" x="0.00" y="0.97"/>
<use href="#c5" x="0.00" y="1.93"/>
<use href="#c5" x="0.00" y="2.90"/>
<use href="#c5" x="0.50" y="0.00"/>
<use href="#c5" x="0.50" y="0.97"/>
<use href="#c5" x="0.50" y="1.93"/>
<use href="#c5" x="0.50" y="2.90"/>
</g>
<g fill="none" stroke="#000000" stroke-width="1.30" stroke-linejoin="round" stroke-linecap="butt">
<path id="c6" transform="translate(-0.30 -0.95)" d="M1338.6 824.92 L1340.2 825.25 L1341.7 825.21 L1343.2 825.18 L1344.7 825.14 L1346.2 825.11 L1347.7 825.07 L1349.2 825.04 L1350.7 825.00 L1352.2 824.97 L1353.7 824.93 L1355.2 824.90 L1356.7 824.87 L1358.2 824.84 L1359.7 824.81 L1361.2 824.77 L1362.7 824.74 L1364.1 824.71 L1365.6 824.69 L1367.1 824.66 L1368.6 824.63 L1370.1 824.60 L1371.6 824.57 L1373.1 824.55 L1374.6 824.52 L1376.1 824.49 L1377.6 824.47 L1379.1 824.44 L1380.6 824.42 L1382.1 824.39 L1383.6 824.37 L1385.1 824.34 L1386.6 824.32 L1388.1 824.30 L1389.6 824.28 L1391.1 824.25 L1392.6 824.23 L1394.1 824.21 L1395.6 824.19 L1397.1 824.17 L1398.6 824.15 L1400.1 824.13 L1401.6 824.11 L1403.1 824.09 L1404.6 824.08 L1406.1 824.06 L1407.6 824.04 L1409.1 824.02 L1410.6 824.01 L1412.1 823.99 L1413.6 823.97 L1415.1 823.96 L1416.6 823.94 L1418.1 823.93 L1419.6 823.91 L1421.1 823.90 L1422.6 823.88 L1424.1 823.87 L1425.6 823.86 L1427.1 823.84 L1428.6 823.83 L1430.1 823.82 L1431.6 823.81 L1433.1 823.79 L1434.6 823.78 L1436.1 823.77 L1437.6 823.76 L1439.1 823.75 L1440.6 823.74 L1442.1 823.73 L1443.6 823.72 L1445.1 823.71 L1446.6 823.70 L1448.1 823.69 L1449.6 823.68 L1451.1 823.67 L1452.6 823.67 L1454.1 823.66 L1455.6 823.65 L1457.1 823.64 L1458.6 823.64 L1460.1 823.63 L1461.6 823.62 L1463.1 823.62 L1464.6 823.61 L1466.1 823.60 L1467.6 823.60 L1469.1 823.59 L1470.6 823.59 L1472.1 823.58 L1473.6 823.58 L1475.1 823.57 L1476.6 823.57 L1478.1 823.56 L1479.6 823.56 L1481.1 823.55 L1482.6 823.55 L1484.1 823.55 L1485.6 823.54 L1487.1 823.54 L1488.6 823.53 L1490.1 823.53 L1491.6 823.53 L1493.1 823.53 L1494.6 823.52 L1496.1 823.52 L1497.6 823.52 L1499.1 823.52 L1500.6 823.51 L1502.1 823.51 L1503.6 823.51 L1505.1 823.51 L1506.6 823.51 L1508.1 823.51 L1509.6 823.50 L1511.1 823.50 L1512.6 823.50 L1514.1 823.50 L1515.6 823.50 L1517.1 823.50 L1518.6 823.50 L1520.1 823.50 L1521.6 823.50 L1523.1 823.50 L1524.6 823.50 L1526.1 823.50 L1527.6 823.50 L1529.2 823.50 L1530.7 823.49 L1532.2 823.49 L1533.7 823.49 L1535.2 823.49 L1536.7 823.49 L1538.2 823.49 L1539.7 823.49 L1541.2 823.49 L1542.7 823.49 L1544.2 823.49 L1545.7 823.49 L1547.2 823.50 L1548.7 823.50 L1550.2 823.50 L1551.7 823.50 L1553.2 823.50 L1554.7 823.50 L1556.2 823.50 L1557.7 823.50 L1559.2 823.50 L1560.7 823.50 L1562.2 823.50 L1563.7 823.50 L1565.2 823.50 L1566.7 823.50 L1568.2 823.50 L1569.7 823.50 L1571.2 823.50 L1572.7 823.50 L1574.2 823.50 L1575.7 823.50 L1577.2 823.50 L1578.7 823.50 L1580.2 823.49 L1581.7 823.49 L1583.2 823.49 L1584.7 823.49 L1586.2 823.49 L1587.7 823.49 L1589.2 823.49 L1590.7 823.49 L1592.2 823.49 L1593.7 823.49 L1595.2 823.49 L1596.7 823.48 L1598.2 823.48 L1599.7 823.48 L1601.2 823.48 L1602.7 823.48 L1604.2 823.47 L1605.7 823.47 L1607.2 823.47 L1608.7 823.47 L1610.2 823.46 L1611.7 823.46 L1613.2 823.46 L1614.7 823.46 L1616.2 823.45 L1617.7 823.45 L1619.2 823.45 L1620.7 823.44 L1622.2 823.44 L1623.7 823.43 L1625.2 823.43 L1626.7 823.42 L1628.2 823.42 L1629.7 823.41 L1631.2 823.41 L1632.7 823.40 L1634.2 823.40 L1635.7 823.39 L1637.2 823.39 L1638.7 823.38 L1640.2 823.37 L1641.7 823.37 L1643.2 823.36 L1644.7 823.35 L1646.2 823.35 L1647.7 823.34 L1649.2 823.33 L1650.7 823.32 L1652.2 823.31 L1653.7 823.31 L1655.2 823.30 L1656.7 823.29 L1658.2 823.28 L1659.7 823.27 L1661.1 823.26 L1662.6 823.25 L1664.1 823.24 L1665.6 823.23 L1667.1 823.22 L1668.6 823.21 L1670.1 823.19 L1671.6 823.18 L1673.1 823.17 L1674.6 823.16 L1676.1 823.14 L1677.6 823.13 L1679.1 823.12 L1680.6 823.10 L1682.1 823.09 L1683.6 823.07 L1685.1 823.06 L1686.6 823.04 L1688.1 823.03 L1689.6 823.01 L1691.1 823.00 L1692.5 822.98 L1694.0 822.96 L1695.5 822.95 L1697.0 822.93 L1698.5 822.91 L1700.0 822.89 L1701.5 822.87 L1703.0 822.85 L1704.5 822.83 L1706.0 822.81 L1707.5 822.79 L1709.0 822.77 L1710.5 822.75 L1712.0 822.73 L1713.5 822.71 L1714.9 822.69 L1716.4 822.66 L1717.9 822.64 L1719.4 822.61 L1720.9 822.58 L1722.4 822.55 L1723.9 822.52 L1725.4 822.49 L1726.9 822.46 L1728.4 822.42 L1729.9 822.38 L1731.4 822.34 L1732.8 822.29 L1734.3 822.24 L1735.8 822.19 L1737.3 822.14 L1738.8 822.08 L1740.3 822.02 L1741.8 821.95 L1743.3 821.88 L1744.8 821.81 L1746.3 821.73 L1747.8 821.65 L1749.3 821.56 L1750.8 821.47 L1752.3 821.37 L1753.7 821.27 L1755.2 821.16 L1756.7 821.04 L1758.2 820.92 L1759.7 820.80 L1761.2 820.67 L1762.7 820.53 L1764.2 820.39 L1765.7 820.24 L1767.2 820.08 L1768.7 819.91 L1770.2 819.74 L1771.7 819.56 L1773.2 819.38 L1774.7 819.18 L1776.2 818.98 L1777.7 818.77 L1779.2 818.55 L1780.7 818.32 L1782.2 818.09 L1783.7 817.85 L1785.2 817.59 L1786.7 817.33 L1788.2 817.06 L1789.7 816.78 L1791.2 816.49 L1792.7 816.19 L1794.2 815.88 L1795.7 815.56 L1797.2 815.23 L1798.7 814.89 L1800.2 814.54 L1801.7 814.18 L1803.2 813.81 L1804.6 813.42 L1806.1 813.03 L1807.6 812.62 L1809.0 812.21 L1810.5 811.78 L1812.0 811.34 L1813.4 810.88 L1814.8 810.42 L1816.3 809.94 L1817.7 809.45 L1819.1 808.95 L1820.6 808.43 L1822.0 807.90 L1823.4 807.36 L1824.8 806.80 L1826.2 806.23 L1827.6 805.65 L1828.9 805.05 L1830.3 804.44 L1831.6 803.82 L1833.0 803.18 L1834.3 802.52 L1835.7 801.85 L1837.0 801.17 L1838.3 800.47 L1839.6 799.76 L1840.9 799.03 L1842.2 798.28 L1843.4 797.52 L1844.7 796.74 L1845.9 795.95 L1847.1 795.14 L1848.4 794.32 L1849.6 793.48 L1850.8 792.62 L1852.0 791.76 L1853.1 790.87 L1854.3 789.98 L1855.4 789.06 L1856.6 788.14 L1857.7 787.20 L1858.8 786.25 L1859.9 785.28 L1861.0 784.30 L1862.1 783.31 L1863.2 782.31 L1864.3 781.29 L1865.3 780.26 L1866.4 779.22 L1867.4 778.17 L1868.4 777.10 L1869.4 776.02 L1870.4 774.93 L1871.4 773.84 L1872.4 772.72 L1873.4 771.60 L1874.4 770.47 L1875.3 769.33 L1876.2 768.18 L1877.2 767.01 L1878.1 765.84 L1879.0 764.66 L1879.9 763.47 L1880.8 762.27 L1881.7 761.06 L1882.5 759.84 L1883.4 758.61 L1884.3 757.38 L1885.1 756.13 L1885.9 754.88 L1886.7 753.62 L1887.6 752.35 L1888.4 751.08 L1889.1 749.80 L1889.9 748.51 L1890.7 747.21 L1891.5 745.91 L1892.2 744.60 L1893.0 743.28 L1893.7 741.96 L1894.4 740.63 L1895.1 739.30 L1895.9 737.96 L1896.6 736.62 L1897.2 735.27 L1897.9 733.91 L1898.6 732.55 L1899.3 731.19 L1899.9 729.82 L1900.6 728.45 L1901.2 727.07 L1901.8 725.69 L1902.4 724.31 L1903.1 722.92 L1903.7 721.53 L1904.2 720.14 L1904.8 718.74 L1905.4 717.34 L1906.0 715.94 L1906.5 714.54 L1907.1 713.13 L1907.6 711.72 L1908.2 710.31 L1908.7 708.90 L1909.2 707.49 L1909.7 706.08 L1910.2 704.66 L1910.7 703.24 L1911.2 701.83 L1911.7 700.41 L1912.1 698.98 L1912.6 697.56 L1913.1 696.14 L1913.5 694.71 L1914.0 693.28 L1914.4 691.85 L1914.8 690.42 L1915.2 688.99 L1915.7 687.56 L1916.1 686.13 L1916.5 684.69 L1916.9 683.25 L1917.3 681.82 L1917.7 680.38 L1918.0 678.94 L1918.4 677.49 L1918.8 676.05 L1919.2 674.61 L1919.5 673.16 L1919.9 671.71 L1920.2 670.27 L1920.6 668.82 L1920.9 667.37 L1921.3 665.92 L1921.6 664.46 L1921.9 663.01 L1922.2 661.56 L1922.6 660.10 L1922.9 658.65 L1923.2 657.19 L1923.5 655.73 L1923.8 654.27 L1924.1 652.81 L1924.4 651.35 L1924.7 649.89 L1925.0 648.43 L1925.3 646.97 L1925.6 645.50 L1925.9 644.04 L1926.2 642.57 L1926.4 641.11 L1926.7 639.64 L1927.0 638.17 L1927.3 636.70 L1927.6 635.23 L1927.8 633.76 L1928.1 632.29 L1928.4 630.82 L1928.6 629.35 L1928.9 627.88 L1929.2 626.41 L1929.4 624.93 L1929.7 623.46 L1930.0 621.99 L1930.2 620.51 L1930.5 619.04 L1930.7 617.56 L1931.0 616.09 L1931.2 614.61 L1931.5 613.13 L1931.7 611.65 L1932.0 610.18 L1932.2 608.70 L1932.5 607.22 L1932.7 605.74 L1933.0 604.26 L1933.2 602.78 L1933.5 601.30 L1933.7 599.82 L1934.0 598.34 L1934.2 596.85 L1934.4 595.37 L1934.7 593.89 L1934.9 592.41 L1935.2 590.93 L1935.4 589.44 L1935.6 587.96 L1935.9 586.48 L1936.1 584.99 L1936.3 583.51 L1936.5 582.02 L1936.8 580.54 L1937.0 579.05 L1937.2 577.57 L1937.5 576.08 L1937.7 574.60 L1937.9 573.11 L1938.1 571.63 L1938.3 570.14 L1938.6 568.66 L1938.8 567.17 L1939.0 565.68 L1939.2 564.20 L1939.4 562.71 L1939.7 561.22 L1939.9 559.74 L1940.1 558.25 L1940.3 556.77 L1940.5 555.28 L1940.7 553.79 L1940.9 552.31 L1941.1 550.82 L1941.3 549.33 L1941.6 547.85 L1941.8 546.36 L1942.0 544.87 L1942.2 543.39 L1942.4 541.90 L1942.6 540.41 L1942.8 538.93 L1943.0 537.44 L1943.2 535.95 L1943.4 534.47 L1943.6 532.98 L1943.8 531.49 L1944.0 530.00 L1944.2 528.52 L1944.4 527.03 L1944.6 525.54 L1944.8 524.06 L1945.0 522.57 L1945.2 521.08 L1945.4 519.59 L1945.6 518.11 L1945.8 516.62 L1945.9 515.13 L1946.1 513.65 L1946.3 512.16 L1946.5 510.67 L1946.7 509.18 L1946.9 507.70 L1947.1 506.21 L1947.3 504.72 L1947.5 503.23 L1947.6 501.75 L1947.8 500.26 L1948.0 498.77 L1948.2 497.28 L1948.4 495.79 L1948.6 494.31 L1948.7 492.82 L1948.9 491.33 L1949.1 489.84 L1949.3 488.36 L1949.5 486.87 L1949.6 485.38 L1949.8 483.89 L1950.0 482.40 L1950.2 480.91 L1950.4 479.43 L1950.5 477.94 L1950.7 476.45 L1950.9 474.96 L1951.1 473.47 L1951.2 471.98 L1951.4 470.50 L1951.6 469.01 L1951.8 467.52 L1951.9 466.03 L1952.1 464.54 L1952.3 463.05 L1952.4 461.56 L1952.6 460.08 L1952.8 458.59 L1953.0 457.10 L1953.1 455.61 L1953.3 454.12 L1953.5 452.63 L1953.6 451.14 L1953.8 449.65 L1954.0 448.16 L1954.1 446.67 L1954.3 445.18 L1954.5 443.70 L1954.6 442.21 L1954.8 440.72 L1955.0 439.23 L1955.1 437.74 L1955.3 436.25 L1955.4 434.76 L1955.6 433.27 L1955.8 431.78 L1955.9 430.29 L1956.1 428.80 L1956.3 427.31 L1956.4 425.82 L1956.6 424.33 L1956.7 422.84 L1956.9 421.35 L1957.1 419.86 L1957.2 418.37 L1957.4 416.88 L1957.5 415.39 L1957.7 413.90 L1957.9 412.41 L1958.0 410.92 L1958.2 409.43 L1958.3 407.93 L1958.5 406.44 L1958.6 404.95 L1958.8 403.46 L1959.0 401.97 L1959.1 400.48 L1959.3 398.99 L1959.4 397.50 L1959.6 396.01 L1959.7 394.52 L1959.9 393.03 L1960.0 391.53 L1960.2 390.04 L1960.4 388.55 L1960.5 387.06 L1960.7 385.57 L1960.8 384.08 L1961.0 382.59 L1961.1 381.09 L1961.3 379.60 L1961.4 378.11 L1961.6 376.62 L1961.7 375.13 L1961.9 373.64 L1962.0 372.14 L1962.2 370.65 L1962.3 369.16 L1962.5 367.67 L1962.6 366.18 L1962.8 364.68 L1962.9 363.19 L1963.1 361.70 L1963.2 360.21 L1963.4 358.72 L1963.5 357.22 L1963.7 355.73 L1963.8 354.24 L1964.0 352.75 L1964.1 351.25 L1964.3 349.76 L1964.4 348.27 L1964.6 346.78 L1964.7 345.28 L1964.9 343.79 L1965.0 342.30 L1965.2 340.81 L1965.3 339.31 L1965.5 337.82 L1965.6 336.33 L1965.8 334.84 L1965.9 333.34 L1966.0 331.85 L1966.2 330.36 L1966.3 328.86 L1966.5 327.37 L1966.6 325.88 L1966.8 324.39 L1966.9 322.89 L1967.1 321.40 L1967.2 319.91 L1967.4 318.41 L1967.5 316.92 L1967.6 315.43 L1967.8 313.93 L1967.9 312.44 L1968.1 310.95 L1968.2 309.45 L1968.4 307.96 L1968.5 306.47 L1968.6 304.97 L1968.8 303.48 L1968.9 301.99 L1969.1 300.49 L1969.2 299.00 L1969.4 297.51 L1969.5 296.01 L1969.6 294.52 L1969.8 293.03 L1969.9 291.53 L1970.1 290.04 L1970.2 288.55 L1970.3 287.05 L1970.5 285.56 L1970.6 284.07 L1970.8 282.57 L1970.9 281.08 L1971.1 279.59 L1971.2 278.09 L1971.3 276.60 L1971.5 275.11 L1971.6 273.61 L1971.8 272.12 L1971.9 270.63 L1972.0 269.13 L1972.2 267.64 L1972.3 266.14 L1972.5 264.65 L1972.6 263.16 L1972.7 261.66 L1972.9 260.17 L1973.0 258.68 L1973.1 257.18 L1973.3 255.69 L1973.4 254.20 L1973.6 252.70 L1973.7 251.21 L1973.8 249.71 L1974.0 248.22 L1974.1 246.73 L1974.3 245.23 L1974.4 243.74 L1974.5 242.25 L1974.7 240.75 L1974.8 239.26 L1974.9 237.77 L1975.1 236.27 L1975.2 234.78 L1975.4 233.28 L1975.5 231.79 L1975.6 230.30 L1975.8 228.80 L1975.9 227.31 L1976.1 225.82 L1976.2 224.32 L1976.3 222.83 L1976.5 221.33 L1976.6 219.84 L1976.7 218.35 L1976.9 216.85 L1977.0 215.36 L1977.2 213.87 L1977.3 212.37 L1977.4 210.88 L1977.6 209.39 L1977.7 207.89 L1977.8 206.40 L1978.0 204.91 L1978.1 203.41 L1978.2 201.92 L1978.4 200.42 L1978.5 198.93 L1978.7 197.44 L1978.8 195.94 L1978.9 194.45 L1979.1 192.96 L1979.2 191.46 L1979.3 189.97 L1979.5 188.48 L1979.6 186.98 L1979.8 185.49 L1979.9 184.00 L1980.0 182.50 L1980.2 181.01 L1980.3 179.52 L1980.4 178.02 L1980.6 176.53 L1980.7 175.04 L1980.9 173.55 L1981.0 172.05 L1981.1 170.56 L1981.3 169.07 L1981.4 167.57 L1981.5 166.08 L1981.7 164.59 L1981.8 163.09 L1981.9 161.60 L1982.1 160.11 L1982.2 158.61 L1982.4 157.12 L1982.5 155.63 L1982.6 154.14 L1982.8 152.64 L1982.9 151.15 L1983.0 149.66 L1983.2 148.17 L1983.3 146.67 L1983.5 145.18 L1983.6 143.69 L1983.7 142.19 L1983.9 140.70 L1984.0 139.21 L1984.1 137.72 L1984.3 136.23 L1984.4 134.73 L1984.6 133.24 L1984.7 131.75 L1984.8 130.26 L1985.0 128.76 L1985.1 127.27 L1985.3 125.78 L1985.4 124.29 L1985.5 122.79 L1985.7 121.30 L1985.8 119.81 L1986.0 118.32 L1986.1 116.83 L1986.2 115.33 L1986.4 113.84 L1986.5 112.35 L1986.6 110.86 L1986.8 109.37 L1986.9 107.88 L1987.1 106.38 L1987.2 104.89 L1987.4 103.40 L1987.5 101.91 L1987.7 100.41 L1987.9 98.92 L1988.1 97.42 L1988.3 95.93 L1988.5 94.43 L1988.8 92.93 L1989.1 91.43 L1989.4 89.93 L1989.7 88.42 L1990.0 86.92 L1990.4 85.41 L1990.8 83.90 L1991.3 82.38 L1991.8 80.87 L1992.3 79.37 L1992.8 77.98 L1993.4 76.83 L1994.0 76.04 L1994.5 75.74 L1995.1 76.00 L1995.7 76.76 L1996.2 77.89 L1996.7 79.27 L1997.2 80.76 L1997.6 82.28 L1998.0 83.79 L1998.4 85.30 L1998.7 86.81 L1999.0 88.32 L1999.3 89.83 L1999.5 91.33 L1999.8 92.84 L2000.0 94.34 L2000.2 95.84 L2000.4 97.35 L2000.6 98.85 L2000.7 100.35 L2000.9 101.85 L2001.1 103.35 L2001.2 104.85 L2001.4 106.35 L2001.6 107.85 L2001.7 109.35 L2001.9 110.85 L2002.0 112.34 L2002.2 113.84 L2002.3 115.34 L2002.5 116.83 L2002.6 118.33 L2002.8 119.83 L2002.9 121.32 L2003.1 122.82 L2003.2 124.31 L2003.3 125.81 L2003.5 127.30 L2003.6 128.80 L2003.7 130.29 L2003.9 131.78 L2004.0 133.28 L2004.1 134.77 L2004.2 136.27 L2004.4 137.76 L2004.5 139.25 L2004.6 140.74 L2004.7 142.24 L2004.8 143.73 L2005.0 145.22 L2005.1 146.72 L2005.2 148.21 L2005.3 149.70 L2005.4 151.20 L2005.5 152.69 L2005.6 154.18 L2005.7 155.68 L2005.8 157.17 L2005.9 158.66 L2006.0 160.16 L2006.1 161.65 L2006.2 163.15 L2006.3 164.64 L2006.4 166.13 L2006.5 167.63 L2006.6 169.12 L2006.7 170.62 L2006.8 172.11 L2006.9 173.61 L2006.9 175.11 L2007.0 176.60 L2007.1 178.10 L2007.2 179.59 L2007.3 181.09 L2007.4 182.59 L2007.4 184.08 L2007.5 185.58 L2007.6 187.08 L2007.7 188.57 L2007.8 190.07 L2007.8 191.57 L2007.9 193.06 L2008.0 194.56 L2008.1 196.06 L2008.1 197.56 L2008.2 199.05 L2008.3 200.55 L2008.4 202.05 L2008.4 203.55 L2008.5 205.05 L2008.6 206.54 L2008.6 208.04 L2008.7 209.54 L2008.8 211.04 L2008.9 212.54 L2008.9 214.04 L2009.0 215.53 L2009.1 217.03 L2009.1 218.53 L2009.2 220.03 L2009.3 221.53 L2009.3 223.03 L2009.4 224.53 L2009.5 226.02 L2009.5 227.52 L2009.6 229.02 L2009.7 230.52 L2009.7 232.02 L2009.8 233.52 L2009.8 235.02 L2009.9 236.52 L2010.0 238.02 L2010.0 239.51 L2010.1 241.01 L2010.2 242.51 L2010.2 244.01 L2010.3 245.51 L2010.4 247.01 L2010.4 248.51 L2010.5 250.01 L2010.5 251.51 L2010.6 253.00 L2010.7 254.50 L2010.7 256.00 L2010.8 257.50 L2010.9 259.00 L2010.9 260.50 L2011.0 262.00 L2011.0 263.50 L2011.1 265.00 L2011.2 266.49 L2011.2 267.99 L2011.3 269.49 L2011.4 270.99 L2011.4 272.49 L2011.5 273.99 L2011.5 275.49 L2011.6 276.99 L2011.7 278.49 L2011.7 279.98 L2011.8 281.48 L2011.8 282.98 L2011.9 284.48 L2012.0 285.98 L2012.0 287.48 L2012.1 288.98 L2012.1 290.48 L2012.2 291.98 L2012.3 293.47 L2012.3 294.97 L2012.4 296.47 L2012.4 297.97 L2012.5 299.47 L2012.6 300.97 L2012.6 302.47 L2012.7 303.97 L2012.7 305.47 L2012.8 306.96 L2012.8 308.46 L2012.9 309.96 L2013.0 311.46 L2013.0 312.96 L2013.1 314.46 L2013.1 315.96 L2013.2 317.46 L2013.3 318.96 L2013.3 320.46 L2013.4 321.95 L2013.4 323.45 L2013.5 324.95 L2013.5 326.45 L2013.6 327.95 L2013.7 329.45 L2013.7 330.95 L2013.8 332.45 L2013.8 333.95 L2013.9 335.44 L2013.9 336.94 L2014.0 338.44 L2014.1 339.94 L2014.1 341.44 L2014.2 342.94 L2014.2 344.44 L2014.3 345.94 L2014.3 347.44 L2014.4 348.93 L2014.4 350.43 L2014.5 351.93 L2014.6 353.43 L2014.6 354.93 L2014.7 356.43 L2014.7 357.93 L2014.8 359.43 L2014.8 360.93 L2014.9 362.42 L2015.0 363.92 L2015.0 365.42 L2015.1 366.92 L2015.1 368.42 L2015.2 369.92 L2015.2 371.42 L2015.3 372.92 L2015.3 374.42 L2015.4 375.92 L2015.4 377.41 L2015.5 378.91 L2015.6 380.41 L2015.6 381.91 L2015.7 383.41 L2015.7 384.91 L2015.8 386.41 L2015.8 387.91 L2015.9 389.41 L2015.9 390.90 L2016.0 392.40 L2016.0 393.90 L2016.1 395.40 L2016.2 396.90 L2016.2 398.40 L2016.3 399.90 L2016.3 401.40 L2016.4 402.89 L2016.4 404.39 L2016.5 405.89 L2016.5 407.39 L2016.6 408.89 L2016.6 410.39 L2016.7 411.89 L2016.8 413.39 L2016.8 414.89 L2016.9 416.38 L2016.9 417.88 L2017.0 419.38 L2017.0 420.88 L2017.1 422.38 L2017.1 423.88 L2017.2 425.38 L2017.2 426.88 L2017.3 428.38 L2017.3 429.87 L2017.4 431.37 L2017.5 432.87 L2017.5 434.37 L2017.6 435.87 L2017.6 437.37 L2017.7 438.87 L2017.7 440.37 L2017.8 441.87 L2017.8 443.36 L2017.9 444.86 L2017.9 446.36 L2018.0 447.86 L2018.0 449.36 L2018.1 450.86 L2018.1 452.36 L2018.2 453.86 L2018.3 455.35 L2018.3 456.85 L2018.4 458.35 L2018.4 459.85 L2018.5 461.35 L2018.5 462.85 L2018.6 464.35 L2018.6 465.85 L2018.7 467.34 L2018.7 468.84 L2018.8 470.34 L2018.8 471.84 L2018.9 473.34 L2018.9 474.84 L2019.0 476.34 L2019.1 477.84 L2019.1 479.33 L2019.2 480.83 L2019.2 482.33 L2019.3 483.83 L2019.3 485.33 L2019.4 486.83 L2019.4 488.33 L2019.5 489.83 L2019.5 491.32 L2019.6 492.82 L2019.6 494.32 L2019.7 495.82 L2019.7 497.32 L2019.8 498.82 L2019.9 500.32 L2019.9 501.82 L2020.0 503.31 L2020.0 504.81 L2020.1 506.31 L2020.1 507.81 L2020.2 509.31 L2020.2 510.81 L2020.3 512.31 L2020.3 513.80 L2020.4 515.30 L2020.4 516.80 L2020.5 518.30 L2020.5 519.80 L2020.6 521.30 L2020.7 522.80 L2020.7 524.29 L2020.8 525.79 L2020.8 527.29 L2020.9 528.79 L2020.9 530.29 L2021.0 531.79 L2021.0 533.29 L2021.1 534.79 L2021.1 536.28 L2021.2 537.78 L2021.2 539.28 L2021.3 540.78 L2021.4 542.28 L2021.4 543.78 L2021.5 545.28 L2021.5 546.77 L2021.6 548.27 L2021.6 549.77 L2021.7 551.27 L2021.7 552.77 L2021.8 554.27 L2021.8 555.77 L2021.9 557.26 L2022.0 558.76 L2022.0 560.26 L2022.1 561.76 L2022.1 563.26 L2022.2 564.76 L2022.2 566.26 L2022.3 567.75 L2022.3 569.25 L2022.4 570.75 L2022.4 572.25 L2022.5 573.75 L2022.6 575.25 L2022.6 576.75 L2022.7 578.24 L2022.7 579.74 L2022.8 581.24 L2022.8 582.74 L2022.9 584.24 L2022.9 585.74 L2023.0 587.24 L2023.0 588.73 L2023.1 590.23 L2023.2 591.73 L2023.2 593.23 L2023.3 594.73 L2023.3 596.23 L2023.4 597.73 L2023.4 599.22 L2023.5 600.72 L2023.5 602.22 L2023.6 603.72 L2023.7 605.22 L2023.7 606.72 L2023.8 608.22 L2023.8 609.72 L2023.9 611.21 L2023.9 612.71 L2024.0 614.21 L2024.0 615.71 L2024.1 617.21 L2024.2 618.71 L2024.2 620.21 L2024.3 621.71 L2024.3 623.21 L2024.4 624.70 L2024.4 626.20 L2024.5 627.70 L2024.5 629.20 L2024.6 630.70 L2024.6 632.20 L2024.7 633.70 L2024.8 635.20 L2024.8 636.70 L2024.9 638.19 L2024.9 639.69 L2025.0 641.19 L2025.0 642.69 L2025.1 644.19 L2025.1 645.69 L2025.2 647.19 L2025.3 648.69 L2025.3 650.19 L2025.4 651.69 L2025.4 653.19 L2025.5 654.69 L2025.5 656.19 L2025.6 657.68 L2025.6 659.18 L2025.7 660.68 L2025.7 662.18 L2025.8 663.68 L2025.9 665.18 L2025.9 666.68 L2026.0 668.18 L2026.0 669.68 L2026.1 671.18 L2026.1 672.68 L2026.2 674.18 L2026.2 675.68 L2026.3 677.18 L2026.4 678.68 L2026.4 680.18 L2026.5 681.68 L2026.5 683.18 L2026.6 684.68 L2026.6 686.18 L2026.7 687.68 L2026.7 689.18 L2026.8 690.68 L2026.8 692.18 L2026.9 693.68 L2027.0 695.18 L2027.0 696.68 L2027.1 698.18 L2027.1 699.68 L2027.2 701.18 L2027.2 702.68 L2027.3 704.18 L2027.3 705.68 L2027.4 707.18 L2027.5 708.68 L2027.5 710.17 L2027.6 711.67 L2027.6 713.17 L2027.7 714.67 L2027.8 716.17 L2027.8 717.67 L2027.9 719.17 L2028.0 720.67 L2028.0 722.17 L2028.1 723.67 L2028.2 725.17 L2028.2 726.67 L2028.3 728.16 L2028.4 729.66 L2028.5 731.16 L2028.5 732.66 L2028.6 734.16 L2028.7 735.65 L2028.8 737.15 L2028.8 738.65 L2028.9 740.15 L2029.0 741.64 L2029.1 743.14 L2029.2 744.64 L2029.3 746.13 L2029.4 747.63 L2029.5 749.12 L2029.6 750.62 L2029.7 752.12 L2029.8 753.61 L2029.9 755.11 L2030.0 756.60 L2030.1 758.09 L2030.2 759.59 L2030.3 761.08 L2030.4 762.58 L2030.5 764.07 L2030.7 765.56 L2030.8 767.05 L2030.9 768.55 L2031.0 770.04 L2031.2 771.53 L2031.3 773.02 L2031.4 774.51 L2031.6 776.00 L2031.7 777.50 L2031.9 778.99 L2032.0 780.47 L2032.2 781.96 L2032.3 783.45 L2032.5 784.94 L2032.7 786.43 L2032.8 787.92 L2033.0 789.41 L2033.2 790.89 L2033.3 792.38 L2033.5 793.87 L2033.7 795.35 L2033.9 796.84 L2034.1 798.32 L2034.3 799.81 L2034.5 801.29 L2034.7 802.77 L2034.9 804.26 L2035.1 805.74 L2035.3 807.22 L2035.5 808.70 L2035.7 810.19 L2035.9 811.67 L2036.2 813.15 L2036.4 814.63 L2036.6 816.11 L2036.9 817.58 L2037.1 819.06 L2037.4 820.54 L2037.6 822.02 L2038.6 822.60 L2040.1 822.70 L2041.6 822.67 L2043.1 822.63 L2044.6 822.59 L2046.1 822.56 L2047.6 822.52 L2049.1 822.49 L2050.6 822.45 L2052.1 822.42 L2053.6 822.39 L2055.1 822.35 L2056.6 822.32 L2058.1 822.29 L2059.6 822.26 L2061.1 822.23 L2062.6 822.21 L2064.1 822.18 L2065.6 822.16 L2067.1 822.13 L2068.6 822.11 L2070.1 822.09 L2071.6 822.07 L2073.1 822.06 L2074.6 822.04 L2076.1 822.03 L2077.6 822.02 L2079.1 822.01 L2080.6 822.00 L2082.1 822.00 L2083.6 822.00 L2085.1 822.00 L2086.6 822.00 L2086.7 821.98"/>
<use href="#c6" x="0.00" y="0.95"/>
<use href="#c6" x="0.00" y="1.90"/>
<use href="#c6" x="0.60" y="0.00"/>
<use href="#c6" x="0.60" y="0.95"/>
<use href="#c6" x="0.60" y="1.90"/>
</g>
<g fill="none" stroke="#ff0000" stroke-width="1.30" stroke-linejoin="round" stroke-linecap="butt">
<path id="c7" transform="translate(-0.25 -1.25)" d="M1534.9 823.35 L1536.4 823.26 L1537.9 823.19 L1539.4 823.10 L1540.9 823.02 L1542.4 822.93 L1543.8 822.83 L1545.3 822.74 L1546.8 822.63 L1548.3 822.53 L1549.8 822.41 L1551.3 822.30 L1552.8 822.18 L1554.3 822.05 L1555.8 821.92 L1557.3 821.78 L1558.8 821.64 L1560.3 821.49 L1561.8 821.34 L1563.3 821.18 L1564.8 821.01 L1566.3 820.84 L1567.8 820.66 L1569.3 820.48 L1570.8 820.29 L1572.3 820.09 L1573.8 819.89 L1575.2 819.67 L1576.7 819.46 L1578.2 819.23 L1579.7 819.00 L1581.2 818.76 L1582.7 818.51 L1584.1 818.25 L1585.6 817.99 L1587.1 817.72 L1588.6 817.43 L1590.0 817.15 L1591.5 816.85 L1593.0 816.54 L1594.4 816.23 L1595.9 815.91 L1597.4 815.57 L1598.8 815.23 L1600.3 814.88 L1601.7 814.52 L1603.2 814.15 L1604.6 813.77 L1606.1 813.38 L1607.5 812.98 L1608.9 812.57 L1610.4 812.15 L1611.8 811.72 L1613.2 811.28 L1614.7 810.83 L1616.1 810.37 L1617.5 809.89 L1618.9 809.41 L1620.3 808.91 L1621.7 808.41 L1623.1 807.89 L1624.5 807.36 L1625.9 806.81 L1627.3 806.26 L1628.7 805.69 L1630.0 805.12 L1631.4 804.53 L1632.8 803.92 L1634.1 803.31 L1635.5 802.68 L1636.9 802.04 L1638.2 801.38 L1639.5 800.72 L1640.9 800.04 L1642.2 799.34 L1643.5 798.64 L1644.9 797.92 L1646.2 797.18 L1647.5 796.44 L1648.8 795.68 L1650.1 794.91 L1651.4 794.13 L1652.7 793.33 L1653.9 792.52 L1655.2 791.70 L1656.5 790.87 L1657.7 790.02 L1658.9 789.17 L1660.2 788.30 L1661.4 787.42 L1662.6 786.53 L1663.8 785.63 L1665.0 784.71 L1666.2 783.79 L1667.4 782.85 L1668.6 781.90 L1669.8 780.94 L1670.9 779.97 L1672.1 778.99 L1673.2 778.00 L1674.3 776.99 L1675.4 775.98 L1676.5 774.96 L1677.6 773.92 L1678.7 772.88 L1679.8 771.82 L1680.8 770.76 L1681.9 769.68 L1682.9 768.60 L1683.9 767.50 L1684.9 766.40 L1685.9 765.29 L1686.9 764.16 L1687.9 763.03 L1688.8 761.89 L1689.8 760.74 L1690.7 759.58 L1691.7 758.41 L1692.6 757.24 L1693.5 756.05 L1694.4 754.86 L1695.3 753.66 L1696.2 752.46 L1697.0 751.24 L1697.9 750.02 L1698.7 748.80 L1699.6 747.56 L1700.4 746.32 L1701.2 745.07 L1702.0 743.82 L1702.8 742.56 L1703.6 741.29 L1704.4 740.02 L1705.2 738.75 L1706.0 737.46 L1706.7 736.18 L1707.5 734.88 L1708.3 733.59 L1709.0 732.28 L1709.7 730.98 L1710.5 729.67 L1711.2 728.35 L1711.9 727.03 L1712.6 725.71 L1713.3 724.39 L1714.0 723.06 L1714.7 721.73 L1715.4 720.39 L1716.1 719.05 L1716.7 717.71 L1717.4 716.37 L1718.1 715.02 L1718.7 713.68 L1719.4 712.33 L1720.1 710.98 L1720.7 709.62 L1721.3 708.27 L1722.0 706.91 L1722.6 705.55 L1723.2 704.19 L1723.9 702.83 L1724.5 701.46 L1725.1 700.10 L1725.7 698.73 L1726.3 697.36 L1726.9 695.99 L1727.5 694.62 L1728.1 693.24 L1728.7 691.87 L1729.3 690.49 L1729.9 689.11 L1730.5 687.73 L1731.1 686.35 L1731.7 684.97 L1732.2 683.58 L1732.8 682.20 L1733.4 680.81 L1734.0 679.42 L1734.5 678.03 L1735.1 676.64 L1735.6 675.25 L1736.2 673.86 L1736.8 672.47 L1737.3 671.07 L1737.9 669.68 L1738.4 668.28 L1739.0 666.88 L1739.5 665.48 L1740.0 664.08 L1740.6 662.68 L1741.1 661.28 L1741.7 659.88 L1742.2 658.48 L1742.7 657.08 L1743.2 655.67 L1743.8 654.27 L1744.3 652.87 L1744.8 651.46 L1745.4 650.05 L1745.9 648.65 L1746.4 647.24 L1746.9 645.83 L1747.5 644.43 L1748.0 643.02 L1748.5 641.61 L1749.0 640.20 L1749.5 638.80 L1750.1 637.39 L1750.6 635.98 L1751.1 634.57 L1751.6 633.16 L1752.1 631.75 L1752.6 630.34 L1753.2 628.93 L1753.7 627.52 L1754.2 626.11 L1754.7 624.71 L1755.2 623.30 L1755.7 621.89 L1756.3 620.48 L1756.8 619.07 L1757.3 617.66 L1757.8 616.26 L1758.3 614.85 L1758.9 613.44 L1759.4 612.04 L1759.9 610.63 L1760.4 609.22 L1761.0 607.82 L1761.5 606.41 L1762.0 605.01 L1762.5 603.61 L1763.1 602.21 L1763.6 600.80 L1764.1 599.40 L1764.7 598.00 L1765.2 596.60 L1765.7 595.20 L1766.3 593.81 L1766.8 592.41 L1767.4 591.01 L1767.9 589.62 L1768.5 588.22 L1769.0 586.83 L1769.6 585.44 L1770.1 584.05 L1770.7 582.66 L1771.2 581.27 L1771.8 579.88 L1772.4 578.50 L1772.9 577.11 L1773.5 575.73 L1774.1 574.34 L1774.6 572.96 L1775.2 571.58 L1775.8 570.21 L1776.4 568.83 L1777.0 567.45 L1777.6 566.08 L1778.2 564.71 L1778.8 563.34 L1779.4 561.97 L1780.0 560.60 L1780.6 559.24 L1781.2 557.88 L1781.8 556.52 L1782.5 555.16 L1783.1 553.81 L1783.8 552.46 L1784.4 551.11 L1785.1 549.77 L1785.8 548.43 L1786.5 547.09 L1787.2 545.75 L1787.9 544.42 L1788.6 543.10 L1789.3 541.77 L1790.1 540.46 L1790.8 539.14 L1791.5 537.83 L1792.2 536.52 L1792.9 535.22 L1793.7 533.92 L1794.3 532.63 L1795.0 531.34 L1795.7 530.05 L1796.4 528.77 L1797.0 527.48 L1797.6 526.20 L1798.3 524.91 L1798.9 523.62 L1799.5 522.32 L1800.1 521.02 L1800.8 519.71 L1801.4 518.40 L1802.0 517.07 L1802.6 515.73 L1803.3 514.38 L1803.9 513.02 L1804.6 511.65 L1805.2 510.25 L1805.9 508.84 L1806.6 507.42 L1807.2 505.97 L1808.0 504.52 L1808.7 503.06 L1809.4 501.61 L1810.2 500.18 L1811.0 498.76 L1811.8 497.38 L1812.7 496.03 L1813.6 494.73 L1814.5 493.48 L1815.4 492.30 L1816.4 491.18 L1817.5 490.15 L1818.6 489.19 L1819.7 488.33 L1820.9 487.58 L1822.1 486.93 L1823.4 486.40 L1824.7 485.99 L1826.1 485.71 L1827.4 485.55 L1828.8 485.54 L1830.1 485.67 L1831.5 485.94 L1832.8 486.36 L1834.0 486.93 L1835.2 487.63 L1836.4 488.45 L1837.6 489.37 L1838.7 490.39 L1839.7 491.48 L1840.7 492.64 L1841.6 493.85 L1842.4 495.12 L1843.3 496.42 L1844.0 497.76 L1844.7 499.14 L1845.4 500.54 L1846.1 501.97 L1846.7 503.41 L1847.3 504.87 L1847.8 506.33 L1848.4 507.80 L1848.9 509.27 L1849.4 510.74 L1849.9 512.19 L1850.4 513.64 L1850.9 515.09 L1851.4 516.53 L1851.9 517.96 L1852.4 519.39 L1852.9 520.82 L1853.4 522.24 L1853.8 523.66 L1854.3 525.07 L1854.7 526.49 L1855.2 527.90 L1855.6 529.31 L1856.1 530.72 L1856.5 532.14 L1856.9 533.55 L1857.4 534.96 L1857.8 536.38 L1858.2 537.79 L1858.6 539.21 L1859.1 540.63 L1859.5 542.06 L1859.9 543.48 L1860.3 544.91 L1860.7 546.34 L1861.1 547.77 L1861.5 549.21 L1861.9 550.64 L1862.3 552.08 L1862.7 553.52 L1863.0 554.96 L1863.4 556.40 L1863.8 557.85 L1864.2 559.30 L1864.6 560.74 L1864.9 562.19 L1865.3 563.64 L1865.7 565.10 L1866.0 566.55 L1866.4 568.00 L1866.8 569.46 L1867.1 570.92 L1867.5 572.37 L1867.9 573.83 L1868.2 575.29 L1868.6 576.75 L1868.9 578.22 L1869.3 579.68 L1869.6 581.14 L1870.0 582.61 L1870.3 584.07 L1870.7 585.54 L1871.0 587.00 L1871.4 588.47 L1871.7 589.93 L1872.1 591.40 L1872.4 592.87 L1872.8 594.34 L1873.1 595.80 L1873.5 597.27 L1873.8 598.74 L1874.1 600.21 L1874.5 601.67 L1874.8 603.14 L1875.2 604.61 L1875.5 606.08 L1875.9 607.54 L1876.2 609.01 L1876.5 610.48 L1876.9 611.94 L1877.2 613.41 L1877.6 614.87 L1877.9 616.34 L1878.2 617.80 L1878.6 619.26 L1878.9 620.72 L1879.3 622.18 L1879.6 623.64 L1880.0 625.10 L1880.3 626.56 L1880.7 628.02 L1881.0 629.48 L1881.4 630.93 L1881.7 632.39 L1882.1 633.85 L1882.4 635.30 L1882.8 636.76 L1883.1 638.21 L1883.5 639.66 L1883.8 641.12 L1884.2 642.57 L1884.5 644.02 L1884.9 645.47 L1885.2 646.93 L1885.6 648.38 L1885.9 649.83 L1886.3 651.28 L1886.6 652.73 L1887.0 654.18 L1887.3 655.63 L1887.7 657.08 L1888.1 658.53 L1888.4 659.98 L1888.8 661.43 L1889.1 662.88 L1889.5 664.33 L1889.8 665.78 L1890.2 667.23 L1890.5 668.68 L1890.9 670.13 L1891.3 671.59 L1891.6 673.04 L1892.0 674.49 L1892.3 675.94 L1892.7 677.39 L1893.0 678.84 L1893.4 680.30 L1893.8 681.75 L1894.1 683.20 L1894.5 684.66 L1894.8 686.11 L1895.2 687.57 L1895.6 689.02 L1895.9 690.48 L1896.3 691.93 L1896.6 693.39 L1897.0 694.85 L1897.3 696.31 L1897.7 697.77 L1898.1 699.23 L1898.4 700.69 L1898.8 702.15 L1899.1 703.61 L1899.5 705.07 L1899.8 706.53 L1900.2 708.00 L1900.6 709.46 L1900.9 710.93 L1901.3 712.39 L1901.6 713.85 L1902.0 715.32 L1902.4 716.78 L1902.7 718.24 L1903.1 719.70 L1903.4 721.17 L1903.8 722.63 L1904.2 724.09 L1904.5 725.55 L1904.9 727.01 L1905.3 728.47 L1905.7 729.92 L1906.0 731.38 L1906.4 732.83 L1906.8 734.29 L1907.2 735.74 L1907.6 737.19 L1908.0 738.64 L1908.4 740.08 L1908.8 741.53 L1909.2 742.97 L1909.6 744.41 L1910.0 745.85 L1910.4 747.29 L1910.8 748.72 L1911.2 750.15 L1911.6 751.58 L1912.0 753.01 L1912.4 754.43 L1912.9 755.85 L1913.3 757.27 L1913.7 758.68 L1914.2 760.10 L1914.6 761.51 L1915.1 762.91 L1915.5 764.32 L1916.0 765.72 L1916.5 767.12 L1917.0 768.52 L1917.5 769.91 L1918.0 771.31 L1918.5 772.70 L1919.0 774.08 L1919.5 775.47 L1920.1 776.85 L1920.6 778.24 L1921.2 779.62 L1921.8 781.00 L1922.3 782.37 L1923.0 783.75 L1923.6 785.12 L1924.2 786.49 L1924.9 787.86 L1925.5 789.23 L1926.2 790.60 L1926.9 791.97 L1927.6 793.33 L1928.4 794.70 L1929.1 796.06 L1929.9 797.42 L1930.7 798.78 L1931.5 800.12 L1932.3 801.46 L1933.2 802.78 L1934.1 804.07 L1935.0 805.35 L1935.9 806.60 L1936.8 807.81 L1937.8 808.99 L1938.8 810.14 L1939.8 811.24 L1940.9 812.29 L1942.0 813.30 L1943.1 814.25 L1944.2 815.15 L1945.4 815.99 L1946.6 816.77 L1947.8 817.50 L1949.0 818.17 L1950.3 818.80 L1951.6 819.37 L1952.9 819.90 L1954.2 820.38 L1955.6 820.82 L1957.0 821.22 L1958.4 821.58 L1959.8 821.91 L1961.2 822.20 L1962.7 822.45 L1964.1 822.68 L1965.6 822.87 L1967.1 823.04 L1968.6 823.19 L1970.1 823.31 L1971.6 823.41 L1973.1 823.49 L1974.6 823.56 L1976.2 823.60 L1977.7 823.64 L1979.2 823.66 L1980.8 823.68 L1982.3 823.69 L1983.9 823.69 L1985.4 823.69 L1986.9 823.69 L1988.5 823.69 L1990.0 823.69 L1991.5 823.69 L1993.1 823.69 L1994.6 823.69 L1996.1 823.69 L1997.6 823.70 L1999.2 823.70 L2000.7 823.71 L2002.2 823.71 L2003.7 823.72 L2005.2 823.72 L2006.7 823.73 L2008.2 823.74 L2009.7 823.75 L2011.2 823.76 L2012.7 823.77 L2014.2 823.78 L2015.7 823.79 L2017.2 823.80 L2018.7 823.81 L2020.2 823.83 L2021.7 823.84 L2023.2 823.85 L2024.7 823.87 L2026.2 823.89 L2027.6 823.90 L2029.1 823.92 L2030.6 823.94 L2032.1 823.96 L2033.6 823.98 L2035.1 824.00 L2036.6 824.02 L2038.0 824.04 L2039.5 824.06 L2041.0 824.08 L2042.5 824.10 L2044.0 824.13 L2045.5 824.15 L2047.0 824.18 L2048.4 824.20 L2049.9 824.23 L2051.4 824.26 L2052.9 824.28 L2054.4 824.31 L2055.9 824.34 L2057.4 824.37 L2058.9 824.40 L2060.3 824.43 L2061.8 824.46 L2063.3 824.49 L2064.8 824.52 L2066.3 824.56 L2067.8 824.59 L2069.3 824.62 L2070.8 824.66 L2072.3 824.69 L2073.8 824.73 L2075.3 824.76 L2076.8 824.80 L2078.4 824.84 L2079.9 824.88 L2081.4 824.92 L2082.9 824.95 L2084.4 824.99 L2086.0 825.03 L2087.5 825.07 L2089.0 825.12 L2090.5 825.16 L2092.1 825.20 L2093.6 825.24 L2095.2 825.29 L2095.5 825.09"/>
<use href="#c7" x="0.00" y="0.83"/>
<use href="#c7" x="0.00" y="1.67"/>
<use href="#c7" x="0.00" y="2.50"/>
<use href="#c7" x="0.50" y="0.00"/>
<use href="#c7" x="0.50" y="0.83"/>
<use href="#c7" x="0.50" y="1.67"/>
<use href="#c7" x="0.50" y="2.50"/>
</g>
<g fill="none" stroke="#0000ff" stroke-width="1.30" stroke-linejoin="round" stroke-linecap="butt">
<path id="c8" transform="translate(-0.45 -1.25)" d="M1500.0 823.35 L1501.5 823.22 L1503.0 822.96 L1504.5 822.70 L1505.9 822.44 L1507.4 822.19 L1508.9 821.93 L1510.4 821.68 L1511.9 821.43 L1513.4 821.18 L1514.9 820.93 L1516.3 820.67 L1517.8 820.42 L1519.3 820.16 L1520.8 819.90 L1522.2 819.64 L1523.7 819.38 L1525.2 819.11 L1526.6 818.84 L1528.1 818.56 L1529.6 818.28 L1531.0 818.00 L1532.5 817.70 L1534.0 817.41 L1535.4 817.10 L1536.9 816.79 L1538.3 816.47 L1539.8 816.14 L1541.2 815.81 L1542.7 815.46 L1544.1 815.11 L1545.6 814.74 L1547.0 814.37 L1548.5 813.98 L1549.9 813.59 L1551.4 813.18 L1552.8 812.76 L1554.2 812.33 L1555.7 811.88 L1557.1 811.43 L1558.6 810.96 L1560.0 810.48 L1561.4 809.98 L1562.8 809.47 L1564.3 808.95 L1565.7 808.42 L1567.1 807.88 L1568.5 807.32 L1569.9 806.75 L1571.3 806.16 L1572.7 805.56 L1574.1 804.95 L1575.4 804.33 L1576.8 803.69 L1578.2 803.04 L1579.5 802.38 L1580.9 801.70 L1582.2 801.01 L1583.5 800.30 L1584.9 799.58 L1586.2 798.85 L1587.5 798.11 L1588.8 797.35 L1590.1 796.57 L1591.4 795.79 L1592.6 794.98 L1593.9 794.17 L1595.1 793.34 L1596.4 792.50 L1597.6 791.64 L1598.8 790.77 L1600.0 789.88 L1601.2 788.98 L1602.4 788.06 L1603.5 787.13 L1604.7 786.19 L1605.8 785.23 L1606.9 784.26 L1608.0 783.27 L1609.1 782.27 L1610.2 781.25 L1611.3 780.23 L1612.3 779.18 L1613.4 778.13 L1614.4 777.06 L1615.4 775.98 L1616.4 774.89 L1617.4 773.79 L1618.4 772.67 L1619.4 771.55 L1620.3 770.41 L1621.3 769.26 L1622.2 768.10 L1623.1 766.94 L1624.0 765.76 L1624.9 764.57 L1625.8 763.37 L1626.7 762.16 L1627.6 760.95 L1628.5 759.72 L1629.3 758.49 L1630.1 757.25 L1631.0 756.00 L1631.8 754.74 L1632.6 753.48 L1633.4 752.21 L1634.2 750.93 L1635.0 749.65 L1635.8 748.36 L1636.6 747.06 L1637.3 745.76 L1638.1 744.45 L1638.8 743.13 L1639.6 741.82 L1640.3 740.49 L1641.0 739.16 L1641.8 737.83 L1642.5 736.50 L1643.2 735.16 L1643.9 733.81 L1644.6 732.47 L1645.2 731.12 L1645.9 729.77 L1646.6 728.41 L1647.3 727.05 L1647.9 725.70 L1648.6 724.34 L1649.2 722.97 L1649.9 721.61 L1650.5 720.25 L1651.2 718.88 L1651.8 717.51 L1652.4 716.14 L1653.0 714.77 L1653.7 713.40 L1654.3 712.03 L1654.9 710.65 L1655.5 709.28 L1656.1 707.90 L1656.7 706.52 L1657.3 705.15 L1657.8 703.77 L1658.4 702.38 L1659.0 701.00 L1659.6 699.62 L1660.1 698.23 L1660.7 696.85 L1661.3 695.46 L1661.8 694.07 L1662.4 692.68 L1662.9 691.29 L1663.5 689.90 L1664.0 688.50 L1664.6 687.11 L1665.1 685.72 L1665.6 684.32 L1666.2 682.92 L1666.7 681.53 L1667.2 680.13 L1667.8 678.73 L1668.3 677.33 L1668.8 675.93 L1669.3 674.53 L1669.8 673.12 L1670.3 671.72 L1670.9 670.31 L1671.4 668.91 L1671.9 667.50 L1672.4 666.10 L1672.9 664.69 L1673.4 663.28 L1673.9 661.87 L1674.4 660.46 L1674.9 659.05 L1675.4 657.64 L1675.9 656.23 L1676.4 654.82 L1676.9 653.41 L1677.3 651.99 L1677.8 650.58 L1678.3 649.16 L1678.8 647.75 L1679.3 646.33 L1679.8 644.92 L1680.3 643.50 L1680.7 642.09 L1681.2 640.67 L1681.7 639.25 L1682.2 637.83 L1682.7 636.41 L1683.1 634.99 L1683.6 633.57 L1684.1 632.15 L1684.6 630.73 L1685.0 629.31 L1685.5 627.89 L1686.0 626.47 L1686.5 625.05 L1686.9 623.63 L1687.4 622.21 L1687.9 620.78 L1688.3 619.36 L1688.8 617.94 L1689.3 616.51 L1689.8 615.09 L1690.2 613.67 L1690.7 612.24 L1691.2 610.82 L1691.6 609.40 L1692.1 607.97 L1692.6 606.55 L1693.0 605.12 L1693.5 603.70 L1694.0 602.27 L1694.4 600.85 L1694.9 599.42 L1695.4 598.00 L1695.9 596.58 L1696.3 595.15 L1696.8 593.73 L1697.3 592.30 L1697.7 590.88 L1698.2 589.45 L1698.7 588.03 L1699.1 586.60 L1699.6 585.18 L1700.1 583.75 L1700.6 582.33 L1701.0 580.90 L1701.5 579.48 L1702.0 578.06 L1702.5 576.63 L1702.9 575.21 L1703.4 573.79 L1703.9 572.36 L1704.4 570.94 L1704.9 569.52 L1705.3 568.09 L1705.8 566.67 L1706.3 565.25 L1706.8 563.83 L1707.3 562.41 L1707.8 560.99 L1708.2 559.57 L1708.7 558.15 L1709.2 556.73 L1709.7 555.31 L1710.2 553.89 L1710.7 552.47 L1711.2 551.05 L1711.7 549.63 L1712.2 548.22 L1712.7 546.80 L1713.2 545.38 L1713.7 543.97 L1714.2 542.55 L1714.7 541.14 L1715.2 539.72 L1715.7 538.31 L1716.2 536.90 L1716.7 535.48 L1717.2 534.07 L1717.8 532.66 L1718.3 531.25 L1718.8 529.84 L1719.3 528.43 L1719.8 527.02 L1720.4 525.61 L1720.9 524.21 L1721.4 522.80 L1721.9 521.39 L1722.5 519.99 L1723.0 518.59 L1723.6 517.19 L1724.1 515.79 L1724.7 514.39 L1725.2 513.00 L1725.8 511.62 L1726.4 510.24 L1727.0 508.86 L1727.6 507.49 L1728.3 506.13 L1728.9 504.78 L1729.6 503.44 L1730.3 502.10 L1731.0 500.77 L1731.7 499.46 L1732.5 498.15 L1733.3 496.86 L1734.1 495.58 L1734.9 494.31 L1735.8 493.05 L1736.7 491.81 L1737.6 490.59 L1738.6 489.37 L1739.6 488.18 L1740.6 487.01 L1741.7 485.88 L1742.8 484.82 L1743.9 483.84 L1745.0 482.97 L1746.2 482.23 L1747.4 481.64 L1748.6 481.21 L1749.8 480.97 L1751.0 480.95 L1752.2 481.14 L1753.4 481.53 L1754.6 482.11 L1755.8 482.85 L1757.0 483.74 L1758.1 484.74 L1759.2 485.84 L1760.3 487.01 L1761.4 488.24 L1762.4 489.51 L1763.3 490.79 L1764.3 492.08 L1765.1 493.39 L1766.0 494.70 L1766.7 496.03 L1767.5 497.37 L1768.2 498.72 L1768.9 500.07 L1769.6 501.44 L1770.2 502.81 L1770.8 504.19 L1771.4 505.57 L1772.0 506.96 L1772.5 508.36 L1773.0 509.76 L1773.6 511.16 L1774.1 512.57 L1774.6 513.98 L1775.1 515.39 L1775.6 516.80 L1776.1 518.21 L1776.6 519.62 L1777.0 521.04 L1777.5 522.45 L1778.0 523.87 L1778.5 525.29 L1779.0 526.70 L1779.5 528.12 L1779.9 529.54 L1780.4 530.96 L1780.9 532.39 L1781.3 533.81 L1781.8 535.23 L1782.2 536.66 L1782.7 538.09 L1783.2 539.51 L1783.6 540.94 L1784.1 542.37 L1784.5 543.80 L1784.9 545.23 L1785.4 546.66 L1785.8 548.09 L1786.3 549.52 L1786.7 550.96 L1787.1 552.39 L1787.6 553.83 L1788.0 555.26 L1788.4 556.70 L1788.8 558.14 L1789.3 559.57 L1789.7 561.01 L1790.1 562.45 L1790.5 563.89 L1790.9 565.33 L1791.3 566.77 L1791.7 568.22 L1792.1 569.66 L1792.6 571.10 L1793.0 572.55 L1793.4 573.99 L1793.8 575.43 L1794.2 576.88 L1794.6 578.33 L1794.9 579.77 L1795.3 581.22 L1795.7 582.67 L1796.1 584.11 L1796.5 585.56 L1796.9 587.01 L1797.3 588.46 L1797.7 589.91 L1798.1 591.36 L1798.4 592.81 L1798.8 594.26 L1799.2 595.71 L1799.6 597.16 L1800.0 598.61 L1800.3 600.06 L1800.7 601.52 L1801.1 602.97 L1801.4 604.42 L1801.8 605.87 L1802.2 607.33 L1802.6 608.78 L1802.9 610.23 L1803.3 611.69 L1803.7 613.14 L1804.0 614.59 L1804.4 616.05 L1804.8 617.50 L1805.1 618.96 L1805.5 620.41 L1805.9 621.87 L1806.2 623.32 L1806.6 624.78 L1806.9 626.23 L1807.3 627.69 L1807.7 629.14 L1808.0 630.60 L1808.4 632.05 L1808.8 633.51 L1809.1 634.96 L1809.5 636.42 L1809.9 637.87 L1810.2 639.33 L1810.6 640.78 L1810.9 642.24 L1811.3 643.69 L1811.7 645.15 L1812.0 646.60 L1812.4 648.06 L1812.8 649.51 L1813.1 650.96 L1813.5 652.42 L1813.9 653.87 L1814.3 655.33 L1814.6 656.78 L1815.0 658.23 L1815.4 659.69 L1815.8 661.14 L1816.1 662.59 L1816.5 664.04 L1816.9 665.50 L1817.3 666.95 L1817.6 668.40 L1818.0 669.85 L1818.4 671.30 L1818.8 672.75 L1819.2 674.20 L1819.6 675.65 L1820.0 677.10 L1820.3 678.55 L1820.7 680.00 L1821.1 681.45 L1821.5 682.90 L1821.9 684.34 L1822.3 685.79 L1822.7 687.24 L1823.1 688.68 L1823.5 690.13 L1824.0 691.57 L1824.4 693.01 L1824.8 694.46 L1825.2 695.90 L1825.6 697.34 L1826.0 698.78 L1826.5 700.22 L1826.9 701.66 L1827.3 703.10 L1827.7 704.53 L1828.2 705.97 L1828.6 707.40 L1829.0 708.84 L1829.5 710.27 L1829.9 711.70 L1830.4 713.13 L1830.8 714.56 L1831.3 715.99 L1831.7 717.42 L1832.2 718.84 L1832.6 720.26 L1833.1 721.69 L1833.6 723.11 L1834.0 724.53 L1834.5 725.95 L1835.0 727.36 L1835.4 728.78 L1835.9 730.19 L1836.4 731.60 L1836.9 733.02 L1837.4 734.43 L1837.8 735.84 L1838.3 737.25 L1838.8 738.67 L1839.3 740.08 L1839.7 741.50 L1840.2 742.92 L1840.7 744.34 L1841.1 745.76 L1841.6 747.19 L1842.1 748.62 L1842.5 750.05 L1842.9 751.48 L1843.4 752.93 L1843.8 754.37 L1844.2 755.82 L1844.6 757.27 L1845.0 758.73 L1845.4 760.19 L1845.8 761.65 L1846.2 763.10 L1846.6 764.56 L1847.0 766.01 L1847.4 767.46 L1847.8 768.90 L1848.3 770.33 L1848.7 771.75 L1849.2 773.17 L1849.7 774.57 L1850.2 775.96 L1850.7 777.33 L1851.3 778.70 L1851.9 780.04 L1852.5 781.38 L1853.1 782.70 L1853.7 784.02 L1854.4 785.33 L1855.1 786.64 L1855.8 787.94 L1856.5 789.24 L1857.2 790.54 L1858.0 791.84 L1858.7 793.15 L1859.5 794.46 L1860.3 795.78 L1861.0 797.11 L1861.8 798.45 L1862.6 799.78 L1863.4 801.12 L1864.2 802.45 L1865.1 803.76 L1865.9 805.06 L1866.8 806.34 L1867.7 807.60 L1868.6 808.83 L1869.5 810.03 L1870.5 811.18 L1871.5 812.30 L1872.6 813.37 L1873.6 814.39 L1874.7 815.35 L1875.9 816.26 L1877.0 817.10 L1878.3 817.87 L1879.5 818.58 L1880.8 819.22 L1882.2 819.81 L1883.5 820.34 L1884.9 820.82 L1886.4 821.26 L1887.8 821.65 L1889.3 822.01 L1890.7 822.34 L1892.2 822.64 L1893.7 822.92 L1895.2 823.17 L1896.7 823.42 L1898.2 823.65 L1899.7 823.86 L1901.2 824.06 L1902.7 824.25 L1904.2 824.42 L1905.6 824.59 L1907.1 824.73 L1908.6 824.87 L1910.1 825.00 L1911.6 825.12 L1913.1 825.22 L1914.6 825.32 L1916.1 825.40 L1917.6 825.48 L1919.1 825.55 L1920.6 825.61 L1922.1 825.66 L1923.6 825.71 L1925.1 825.75 L1926.6 825.78 L1928.1 825.81 L1929.6 825.83 L1931.1 825.85 L1932.6 825.86 L1934.1 825.86 L1935.6 825.87 L1937.1 825.87 L1938.6 825.87 L1940.1 825.86 L1941.6 825.85 L1943.1 825.84 L1944.6 825.84 L1946.1 825.82 L1947.6 825.81 L1949.1 825.80 L1950.6 825.79 L1952.1 825.79 L1953.6 825.78 L1955.1 825.77 L1956.6 825.77 L1958.1 825.76 L1959.6 825.76 L1961.1 825.76 L1962.6 825.76 L1964.1 825.77 L1965.6 825.77 L1967.1 825.77 L1968.6 825.78 L1970.1 825.78 L1971.6 825.79 L1973.1 825.80 L1974.6 825.80 L1976.1 825.81 L1977.6 825.82 L1979.1 825.83 L1980.6 825.84 L1982.1 825.85 L1983.6 825.86 L1985.1 825.88 L1986.6 825.89 L1988.1 825.90 L1989.6 825.91 L1991.1 825.92 L1992.6 825.94 L1994.1 825.95 L1995.6 825.96 L1997.1 825.97 L1998.6 825.98 L2000.1 825.99 L2001.6 826.00 L2003.1 826.01 L2004.6 826.02 L2006.1 826.03 L2007.6 826.04 L2009.1 826.05 L2010.6 826.06 L2012.1 826.07 L2013.6 826.07 L2015.1 826.08 L2016.6 826.08 L2018.1 826.08 L2019.6 826.09 L2021.1 826.09 L2022.6 826.09 L2024.1 826.09 L2025.6 826.08 L2027.1 826.08 L2028.6 826.07 L2030.1 826.07 L2031.6 826.06 L2033.1 826.05 L2034.6 826.04 L2036.1 826.02 L2037.6 826.01 L2039.1 825.99 L2040.6 825.97 L2042.1 825.95 L2043.6 825.93 L2045.1 825.90 L2046.6 825.88 L2048.1 825.85 L2049.3 825.97"/>
<use href="#c8" x="0.00" y="0.83"/>
<use href="#c8" x="0.00" y="1.67"/>
<use href="#c8" x="0.00" y="2.50"/>
<use href="#c8" x="0.90" y="0.00"/>
<use href="#c8" x="0.90" y="0.83"/>
<use href="#c8" x="0.90" y="1.67"/>
<use href="#c8" x="0.90" y="2.50"/>
</g>
<g fill="none" stroke="#b00000" stroke-width="1.30" stroke-linejoin="round" stroke-linecap="butt">
<path id="c9" transform="translate(-0.40 -1.25)" d="M1505.0 823.35 L1506.5 823.27 L1508.0 822.96 L1509.4 822.65 L1510.9 822.36 L1512.4 822.07 L1513.9 821.79 L1515.3 821.52 L1516.8 821.26 L1518.3 821.00 L1519.8 820.74 L1521.3 820.49 L1522.7 820.25 L1524.2 820.01 L1525.7 819.77 L1527.2 819.53 L1528.7 819.30 L1530.1 819.07 L1531.6 818.84 L1533.1 818.60 L1534.6 818.37 L1536.0 818.13 L1537.5 817.90 L1539.0 817.66 L1540.5 817.42 L1541.9 817.17 L1543.4 816.92 L1544.9 816.66 L1546.4 816.40 L1547.8 816.13 L1549.3 815.86 L1550.8 815.58 L1552.2 815.29 L1553.7 814.99 L1555.2 814.68 L1556.6 814.36 L1558.1 814.03 L1559.6 813.69 L1561.0 813.34 L1562.5 812.98 L1563.9 812.60 L1565.4 812.21 L1566.8 811.81 L1568.3 811.39 L1569.7 810.96 L1571.2 810.51 L1572.6 810.06 L1574.0 809.58 L1575.5 809.10 L1576.9 808.60 L1578.3 808.09 L1579.7 807.56 L1581.1 807.02 L1582.5 806.46 L1583.9 805.89 L1585.3 805.30 L1586.7 804.70 L1588.1 804.09 L1589.4 803.46 L1590.8 802.81 L1592.1 802.15 L1593.5 801.48 L1594.8 800.79 L1596.1 800.08 L1597.4 799.36 L1598.7 798.62 L1600.0 797.87 L1601.3 797.10 L1602.6 796.31 L1603.8 795.51 L1605.1 794.70 L1606.3 793.86 L1607.5 793.01 L1608.7 792.14 L1609.9 791.26 L1611.1 790.36 L1612.3 789.45 L1613.4 788.52 L1614.6 787.57 L1615.7 786.61 L1616.8 785.64 L1617.9 784.65 L1619.0 783.65 L1620.1 782.63 L1621.2 781.60 L1622.3 780.56 L1623.3 779.50 L1624.4 778.44 L1625.4 777.36 L1626.4 776.26 L1627.4 775.16 L1628.4 774.05 L1629.4 772.92 L1630.4 771.78 L1631.3 770.64 L1632.3 769.48 L1633.2 768.31 L1634.2 767.13 L1635.1 765.95 L1636.0 764.75 L1636.9 763.55 L1637.8 762.33 L1638.7 761.11 L1639.5 759.88 L1640.4 758.65 L1641.3 757.40 L1642.1 756.15 L1643.0 754.89 L1643.8 753.63 L1644.6 752.36 L1645.4 751.08 L1646.2 749.80 L1647.0 748.51 L1647.8 747.21 L1648.6 745.91 L1649.4 744.61 L1650.1 743.30 L1650.9 741.99 L1651.6 740.68 L1652.4 739.36 L1653.1 738.04 L1653.8 736.71 L1654.6 735.38 L1655.3 734.05 L1656.0 732.72 L1656.7 731.39 L1657.4 730.05 L1658.1 728.71 L1658.7 727.37 L1659.4 726.03 L1660.1 724.69 L1660.7 723.34 L1661.4 721.99 L1662.0 720.64 L1662.7 719.29 L1663.3 717.93 L1664.0 716.58 L1664.6 715.22 L1665.2 713.86 L1665.8 712.50 L1666.4 711.14 L1667.0 709.77 L1667.7 708.41 L1668.3 707.04 L1668.8 705.67 L1669.4 704.30 L1670.0 702.92 L1670.6 701.55 L1671.2 700.17 L1671.8 698.80 L1672.3 697.42 L1672.9 696.04 L1673.5 694.66 L1674.0 693.27 L1674.6 691.89 L1675.1 690.50 L1675.7 689.11 L1676.2 687.73 L1676.8 686.34 L1677.3 684.95 L1677.8 683.55 L1678.4 682.16 L1678.9 680.77 L1679.5 679.37 L1680.0 677.98 L1680.5 676.58 L1681.0 675.18 L1681.6 673.78 L1682.1 672.38 L1682.6 670.98 L1683.1 669.58 L1683.7 668.17 L1684.2 666.77 L1684.7 665.36 L1685.2 663.96 L1685.7 662.55 L1686.2 661.15 L1686.7 659.74 L1687.3 658.33 L1687.8 656.92 L1688.3 655.51 L1688.8 654.10 L1689.3 652.69 L1689.8 651.27 L1690.3 649.86 L1690.8 648.45 L1691.3 647.03 L1691.8 645.62 L1692.3 644.20 L1692.8 642.79 L1693.3 641.37 L1693.8 639.95 L1694.3 638.54 L1694.8 637.12 L1695.3 635.70 L1695.8 634.28 L1696.3 632.86 L1696.8 631.44 L1697.3 630.02 L1697.8 628.60 L1698.3 627.18 L1698.8 625.76 L1699.3 624.34 L1699.8 622.92 L1700.2 621.50 L1700.7 620.08 L1701.2 618.66 L1701.7 617.23 L1702.2 615.81 L1702.7 614.39 L1703.2 612.97 L1703.7 611.54 L1704.1 610.12 L1704.6 608.70 L1705.1 607.27 L1705.6 605.85 L1706.1 604.43 L1706.6 603.01 L1707.1 601.58 L1707.5 600.16 L1708.0 598.74 L1708.5 597.32 L1709.0 595.89 L1709.5 594.47 L1710.0 593.05 L1710.5 591.63 L1710.9 590.20 L1711.4 588.78 L1711.9 587.36 L1712.4 585.94 L1712.9 584.52 L1713.4 583.10 L1713.8 581.68 L1714.3 580.26 L1714.8 578.84 L1715.3 577.42 L1715.8 576.00 L1716.3 574.58 L1716.8 573.16 L1717.2 571.74 L1717.7 570.33 L1718.2 568.91 L1718.7 567.49 L1719.2 566.08 L1719.7 564.66 L1720.2 563.25 L1720.6 561.83 L1721.1 560.42 L1721.6 559.01 L1722.1 557.60 L1722.6 556.18 L1723.1 554.77 L1723.6 553.36 L1724.1 551.95 L1724.6 550.54 L1725.1 549.14 L1725.6 547.73 L1726.1 546.32 L1726.6 544.92 L1727.1 543.51 L1727.5 542.11 L1728.0 540.71 L1728.5 539.30 L1729.0 537.90 L1729.5 536.50 L1730.0 535.10 L1730.5 533.70 L1731.1 532.31 L1731.6 530.91 L1732.1 529.51 L1732.6 528.12 L1733.1 526.73 L1733.6 525.33 L1734.2 523.94 L1734.7 522.55 L1735.3 521.16 L1735.8 519.77 L1736.4 518.38 L1737.0 516.99 L1737.6 515.60 L1738.2 514.22 L1738.9 512.83 L1739.5 511.45 L1740.2 510.06 L1740.8 508.68 L1741.5 507.29 L1742.2 505.91 L1743.0 504.53 L1743.7 503.15 L1744.5 501.77 L1745.3 500.39 L1746.1 499.01 L1747.0 497.65 L1747.8 496.32 L1748.7 495.03 L1749.7 493.79 L1750.6 492.62 L1751.7 491.52 L1752.7 490.51 L1753.8 489.59 L1754.9 488.79 L1756.1 488.11 L1757.3 487.56 L1758.6 487.16 L1759.9 486.92 L1761.3 486.83 L1762.7 486.88 L1764.1 487.06 L1765.4 487.38 L1766.8 487.80 L1768.2 488.34 L1769.4 488.97 L1770.7 489.70 L1771.8 490.51 L1772.9 491.39 L1774.0 492.36 L1775.0 493.39 L1775.9 494.48 L1776.8 495.63 L1777.7 496.83 L1778.5 498.08 L1779.3 499.38 L1780.0 500.71 L1780.8 502.07 L1781.5 503.45 L1782.1 504.86 L1782.8 506.29 L1783.4 507.72 L1784.1 509.16 L1784.7 510.60 L1785.3 512.04 L1785.9 513.47 L1786.5 514.91 L1787.1 516.34 L1787.7 517.78 L1788.2 519.21 L1788.8 520.64 L1789.3 522.08 L1789.9 523.51 L1790.4 524.94 L1790.9 526.37 L1791.5 527.80 L1792.0 529.22 L1792.5 530.65 L1793.0 532.08 L1793.5 533.51 L1794.0 534.93 L1794.5 536.36 L1795.0 537.78 L1795.4 539.21 L1795.9 540.63 L1796.4 542.06 L1796.8 543.48 L1797.3 544.91 L1797.7 546.33 L1798.2 547.76 L1798.6 549.18 L1799.1 550.61 L1799.5 552.03 L1799.9 553.46 L1800.3 554.88 L1800.8 556.31 L1801.2 557.73 L1801.6 559.16 L1802.0 560.58 L1802.4 562.01 L1802.8 563.44 L1803.2 564.86 L1803.6 566.29 L1804.0 567.72 L1804.4 569.15 L1804.8 570.58 L1805.2 572.01 L1805.6 573.44 L1806.0 574.87 L1806.4 576.30 L1806.8 577.74 L1807.1 579.17 L1807.5 580.60 L1807.9 582.04 L1808.3 583.48 L1808.7 584.92 L1809.1 586.35 L1809.5 587.79 L1809.8 589.24 L1810.2 590.68 L1810.6 592.12 L1811.0 593.56 L1811.4 595.01 L1811.8 596.45 L1812.2 597.90 L1812.5 599.34 L1812.9 600.79 L1813.3 602.24 L1813.7 603.69 L1814.1 605.14 L1814.5 606.59 L1814.8 608.04 L1815.2 609.49 L1815.6 610.94 L1816.0 612.39 L1816.4 613.84 L1816.8 615.29 L1817.2 616.75 L1817.5 618.20 L1817.9 619.65 L1818.3 621.11 L1818.7 622.56 L1819.1 624.01 L1819.5 625.47 L1819.9 626.92 L1820.3 628.38 L1820.6 629.83 L1821.0 631.29 L1821.4 632.74 L1821.8 634.20 L1822.2 635.65 L1822.6 637.11 L1823.0 638.56 L1823.4 640.02 L1823.8 641.47 L1824.2 642.93 L1824.5 644.38 L1824.9 645.84 L1825.3 647.29 L1825.7 648.74 L1826.1 650.20 L1826.5 651.65 L1826.9 653.10 L1827.3 654.56 L1827.7 656.01 L1828.1 657.46 L1828.5 658.91 L1828.9 660.36 L1829.3 661.81 L1829.7 663.26 L1830.1 664.71 L1830.5 666.16 L1830.9 667.61 L1831.3 669.06 L1831.8 670.51 L1832.2 671.96 L1832.6 673.40 L1833.0 674.85 L1833.4 676.30 L1833.8 677.74 L1834.2 679.19 L1834.6 680.64 L1835.0 682.08 L1835.4 683.53 L1835.8 684.97 L1836.2 686.42 L1836.7 687.86 L1837.1 689.30 L1837.5 690.75 L1837.9 692.19 L1838.3 693.63 L1838.7 695.07 L1839.1 696.52 L1839.5 697.96 L1839.9 699.40 L1840.4 700.84 L1840.8 702.28 L1841.2 703.72 L1841.6 705.16 L1842.0 706.60 L1842.4 708.04 L1842.8 709.48 L1843.2 710.92 L1843.6 712.36 L1844.0 713.79 L1844.4 715.23 L1844.9 716.67 L1845.3 718.11 L1845.7 719.55 L1846.1 720.98 L1846.5 722.42 L1846.9 723.86 L1847.3 725.29 L1847.7 726.73 L1848.1 728.16 L1848.5 729.60 L1848.9 731.04 L1849.3 732.47 L1849.7 733.91 L1850.1 735.34 L1850.5 736.78 L1850.9 738.21 L1851.3 739.64 L1851.7 741.08 L1852.1 742.51 L1852.5 743.94 L1852.9 745.37 L1853.3 746.80 L1853.7 748.23 L1854.1 749.66 L1854.6 751.09 L1855.0 752.52 L1855.4 753.95 L1855.9 755.37 L1856.3 756.80 L1856.7 758.22 L1857.2 759.64 L1857.7 761.06 L1858.1 762.48 L1858.6 763.90 L1859.1 765.32 L1859.6 766.74 L1860.1 768.15 L1860.6 769.56 L1861.1 770.97 L1861.6 772.38 L1862.2 773.79 L1862.7 775.19 L1863.3 776.60 L1863.9 778.00 L1864.5 779.40 L1865.1 780.80 L1865.7 782.19 L1866.3 783.59 L1867.0 784.98 L1867.6 786.37 L1868.3 787.75 L1869.0 789.13 L1869.7 790.50 L1870.4 791.86 L1871.2 793.21 L1871.9 794.55 L1872.7 795.87 L1873.5 797.18 L1874.3 798.48 L1875.1 799.76 L1876.0 801.01 L1876.8 802.25 L1877.7 803.47 L1878.6 804.67 L1879.6 805.84 L1880.5 806.98 L1881.5 808.10 L1882.5 809.19 L1883.5 810.25 L1884.5 811.28 L1885.6 812.27 L1886.6 813.23 L1887.7 814.16 L1888.9 815.05 L1890.0 815.90 L1891.2 816.71 L1892.4 817.48 L1893.6 818.21 L1894.9 818.90 L1896.1 819.53 L1897.4 820.13 L1898.8 820.67 L1900.1 821.17 L1901.5 821.61 L1902.9 822.00 L1904.3 822.34 L1905.8 822.63 L1907.3 822.87 L1908.8 823.07 L1910.3 823.23 L1911.8 823.36 L1913.4 823.45 L1915.0 823.52 L1916.5 823.56 L1918.1 823.58 L1919.7 823.58 L1921.2 823.57 L1922.8 823.54 L1924.4 823.51 L1926.0 823.48 L1927.5 823.45 L1929.1 823.42 L1930.6 823.40 L1932.1 823.38 L1933.6 823.37 L1935.1 823.35 L1936.6 823.34 L1938.1 823.33 L1939.6 823.33 L1941.1 823.32 L1942.6 823.32 L1944.0 823.32 L1945.5 823.32 L1947.0 823.32 L1948.5 823.33 L1949.9 823.33 L1951.4 823.33 L1952.9 823.33 L1954.4 823.33 L1955.8 823.34 L1957.3 823.34 L1958.8 823.34 L1960.3 823.34 L1961.8 823.34 L1963.3 823.34 L1964.7 823.34 L1966.2 823.35 L1967.7 823.35 L1969.2 823.35 L1970.7 823.35 L1972.2 823.35 L1973.7 823.35 L1975.2 823.35 L1976.7 823.35 L1978.2 823.35 L1979.7 823.35 L1981.2 823.35 L1982.7 823.35 L1984.2 823.35 L1985.7 823.35 L1987.2 823.35 L1988.8 823.35 L1990.3 823.35 L1991.8 823.35 L1993.3 823.35 L1994.8 823.35 L1996.3 823.35 L1997.8 823.35 L1999.3 823.35 L2000.8 823.35 L2002.3 823.35 L2003.8 823.35 L2005.3 823.35 L2006.8 823.35 L2008.4 823.35 L2009.9 823.35 L2011.4 823.35 L2012.9 823.35 L2014.4 823.35 L2015.9 823.35 L2017.4 823.35 L2018.9 823.35 L2020.4 823.35 L2021.9 823.35 L2023.4 823.35 L2024.9 823.35 L2026.4 823.35 L2027.9 823.35 L2029.4 823.35 L2030.9 823.35 L2032.4 823.35 L2033.9 823.35 L2035.4 823.35 L2036.9 823.35 L2038.3 823.35 L2039.8 823.35 L2041.3 823.35 L2042.8 823.35 L2044.3 823.35 L2045.8 823.35 L2046.9 823.35"/>
<use href="#c9" x="0.00" y="0.83"/>
<use href="#c9" x="0.00" y="1.67"/>
<use href="#c9" x="0.00" y="2.50"/>
<use href="#c9" x="0.80" y="0.00"/>
<use href="#c9" x="0.80" y="0.83"/>
<use href="#c9" x="0.80" y="1.67"/>
<use href="#c9" x="0.80" y="2.50"/>
</g>
<g fill="none" stroke="#008000" stroke-width="1.30" stroke-linejoin="round" stroke-linecap="butt">
<path id="c10" transform="translate(-0.50 -1.50)" d="M1474.5 824.42 L1475.9 823.79 L1477.4 823.09 L1478.8 822.44 L1480.2 821.87 L1481.6 821.37 L1483.0 820.95 L1484.4 820.61 L1485.7 820.36 L1487.1 820.20 L1488.5 820.14 L1489.9 820.17 L1491.3 820.30 L1492.7 820.48 L1494.1 820.69 L1495.6 820.90 L1497.0 821.06 L1498.5 821.15 L1499.9 821.14 L1501.4 821.01 L1502.9 820.76 L1504.4 820.43 L1505.9 820.05 L1507.3 819.64 L1508.8 819.22 L1510.2 818.78 L1511.6 818.33 L1513.0 817.86 L1514.4 817.38 L1515.8 816.88 L1517.1 816.38 L1518.5 815.87 L1519.8 815.35 L1521.2 814.82 L1522.5 814.28 L1523.9 813.73 L1525.2 813.19 L1526.6 812.63 L1527.9 812.08 L1529.3 811.52 L1530.6 810.96 L1532.0 810.40 L1533.4 809.83 L1534.8 809.27 L1536.2 808.70 L1537.6 808.13 L1539.0 807.56 L1540.4 806.98 L1541.8 806.40 L1543.2 805.82 L1544.6 805.23 L1546.1 804.63 L1547.5 804.02 L1548.9 803.41 L1550.3 802.79 L1551.7 802.17 L1553.1 801.53 L1554.5 800.88 L1555.9 800.23 L1557.3 799.56 L1558.7 798.88 L1560.1 798.19 L1561.4 797.49 L1562.8 796.78 L1564.1 796.05 L1565.5 795.30 L1566.8 794.55 L1568.1 793.78 L1569.4 792.99 L1570.7 792.19 L1571.9 791.37 L1573.2 790.53 L1574.4 789.67 L1575.6 788.80 L1576.8 787.90 L1577.9 786.99 L1579.1 786.06 L1580.2 785.12 L1581.3 784.15 L1582.4 783.17 L1583.5 782.17 L1584.5 781.15 L1585.6 780.12 L1586.6 779.07 L1587.6 778.01 L1588.6 776.93 L1589.6 775.83 L1590.5 774.72 L1591.4 773.60 L1592.4 772.46 L1593.3 771.31 L1594.2 770.15 L1595.0 768.97 L1595.9 767.78 L1596.8 766.58 L1597.6 765.36 L1598.4 764.14 L1599.2 762.90 L1600.0 761.65 L1600.8 760.40 L1601.6 759.13 L1602.3 757.85 L1603.1 756.56 L1603.8 755.26 L1604.5 753.96 L1605.2 752.64 L1606.0 751.32 L1606.6 749.99 L1607.3 748.65 L1608.0 747.31 L1608.7 745.96 L1609.3 744.60 L1610.0 743.23 L1610.6 741.86 L1611.2 740.49 L1611.9 739.11 L1612.5 737.72 L1613.1 736.33 L1613.7 734.93 L1614.3 733.54 L1614.9 732.13 L1615.5 730.73 L1616.0 729.32 L1616.6 727.91 L1617.2 726.50 L1617.7 725.08 L1618.3 723.67 L1618.8 722.25 L1619.4 720.83 L1619.9 719.42 L1620.5 718.00 L1621.0 716.58 L1621.5 715.16 L1622.1 713.75 L1622.6 712.33 L1623.1 710.91 L1623.7 709.50 L1624.2 708.08 L1624.7 706.67 L1625.2 705.25 L1625.7 703.84 L1626.2 702.42 L1626.7 701.01 L1627.3 699.59 L1627.8 698.18 L1628.3 696.76 L1628.8 695.35 L1629.3 693.94 L1629.7 692.52 L1630.2 691.11 L1630.7 689.69 L1631.2 688.28 L1631.7 686.86 L1632.2 685.45 L1632.7 684.04 L1633.1 682.62 L1633.6 681.21 L1634.1 679.79 L1634.6 678.38 L1635.0 676.96 L1635.5 675.54 L1636.0 674.13 L1636.4 672.71 L1636.9 671.30 L1637.4 669.88 L1637.8 668.46 L1638.3 667.04 L1638.7 665.63 L1639.2 664.21 L1639.6 662.79 L1640.1 661.37 L1640.5 659.95 L1641.0 658.53 L1641.4 657.11 L1641.9 655.69 L1642.3 654.26 L1642.8 652.84 L1643.2 651.42 L1643.6 649.99 L1644.1 648.57 L1644.5 647.14 L1644.9 645.72 L1645.4 644.29 L1645.8 642.86 L1646.2 641.43 L1646.7 640.00 L1647.1 638.57 L1647.5 637.14 L1648.0 635.71 L1648.4 634.28 L1648.8 632.84 L1649.2 631.41 L1649.7 629.97 L1650.1 628.53 L1650.5 627.10 L1650.9 625.66 L1651.4 624.22 L1651.8 622.78 L1652.2 621.34 L1652.6 619.90 L1653.0 618.46 L1653.5 617.01 L1653.9 615.57 L1654.3 614.13 L1654.7 612.68 L1655.1 611.24 L1655.5 609.79 L1655.9 608.35 L1656.4 606.90 L1656.8 605.45 L1657.2 604.01 L1657.6 602.56 L1658.0 601.11 L1658.4 599.66 L1658.8 598.21 L1659.2 596.76 L1659.6 595.32 L1660.1 593.87 L1660.5 592.42 L1660.9 590.97 L1661.3 589.52 L1661.7 588.07 L1662.1 586.62 L1662.5 585.17 L1662.9 583.72 L1663.3 582.27 L1663.7 580.82 L1664.1 579.37 L1664.5 577.92 L1664.9 576.47 L1665.3 575.02 L1665.7 573.57 L1666.1 572.12 L1666.6 570.67 L1667.0 569.22 L1667.4 567.78 L1667.8 566.33 L1668.2 564.88 L1668.6 563.43 L1669.0 561.98 L1669.4 560.54 L1669.8 559.09 L1670.2 557.65 L1670.6 556.20 L1671.0 554.76 L1671.4 553.31 L1671.8 551.87 L1672.2 550.42 L1672.6 548.98 L1673.0 547.54 L1673.4 546.10 L1673.8 544.66 L1674.3 543.22 L1674.7 541.78 L1675.1 540.34 L1675.5 538.90 L1675.9 537.46 L1676.3 536.03 L1676.7 534.59 L1677.1 533.16 L1677.5 531.73 L1678.0 530.30 L1678.4 528.87 L1678.8 527.44 L1679.2 526.01 L1679.7 524.58 L1680.1 523.16 L1680.6 521.73 L1681.0 520.31 L1681.5 518.89 L1681.9 517.47 L1682.4 516.05 L1682.8 514.64 L1683.3 513.22 L1683.8 511.81 L1684.3 510.40 L1684.8 508.99 L1685.3 507.58 L1685.8 506.18 L1686.3 504.78 L1686.8 503.38 L1687.3 501.98 L1687.9 500.58 L1688.4 499.19 L1689.0 497.79 L1689.6 496.40 L1690.1 495.02 L1690.7 493.63 L1691.3 492.25 L1691.9 490.87 L1692.5 489.49 L1693.2 488.12 L1693.8 486.74 L1694.5 485.37 L1695.1 484.01 L1695.8 482.64 L1696.5 481.28 L1697.2 479.92 L1697.9 478.57 L1698.7 477.21 L1699.4 475.87 L1700.2 474.52 L1700.9 473.18 L1701.7 471.86 L1702.6 470.57 L1703.4 469.34 L1704.4 468.16 L1705.3 467.06 L1706.4 466.05 L1707.5 465.15 L1708.7 464.36 L1710.0 463.72 L1711.4 463.22 L1712.8 462.90 L1714.2 462.77 L1715.6 462.83 L1717.1 463.09 L1718.5 463.51 L1719.9 464.09 L1721.2 464.79 L1722.4 465.61 L1723.6 466.53 L1724.6 467.53 L1725.6 468.62 L1726.6 469.78 L1727.4 471.01 L1728.3 472.29 L1729.0 473.61 L1729.8 474.97 L1730.5 476.36 L1731.1 477.76 L1731.8 479.17 L1732.4 480.58 L1733.0 482.00 L1733.6 483.41 L1734.1 484.83 L1734.7 486.24 L1735.2 487.66 L1735.7 489.08 L1736.2 490.50 L1736.7 491.93 L1737.2 493.35 L1737.7 494.77 L1738.2 496.20 L1738.6 497.63 L1739.0 499.05 L1739.5 500.48 L1739.9 501.91 L1740.3 503.34 L1740.7 504.77 L1741.1 506.20 L1741.6 507.64 L1742.0 509.07 L1742.4 510.50 L1742.8 511.94 L1743.2 513.37 L1743.6 514.81 L1744.0 516.24 L1744.4 517.68 L1744.8 519.11 L1745.2 520.55 L1745.6 521.99 L1746.0 523.43 L1746.4 524.87 L1746.8 526.31 L1747.2 527.74 L1747.6 529.19 L1748.1 530.63 L1748.5 532.07 L1748.9 533.51 L1749.3 534.95 L1749.7 536.40 L1750.1 537.84 L1750.5 539.29 L1750.9 540.73 L1751.3 542.18 L1751.7 543.63 L1752.1 545.08 L1752.5 546.52 L1752.9 547.97 L1753.3 549.43 L1753.6 550.88 L1754.0 552.33 L1754.4 553.78 L1754.8 555.24 L1755.1 556.69 L1755.5 558.15 L1755.8 559.61 L1756.2 561.07 L1756.6 562.52 L1756.9 563.98 L1757.3 565.44 L1757.6 566.90 L1757.9 568.36 L1758.3 569.83 L1758.6 571.29 L1759.0 572.75 L1759.3 574.22 L1759.6 575.68 L1759.9 577.15 L1760.3 578.61 L1760.6 580.08 L1760.9 581.54 L1761.2 583.01 L1761.5 584.48 L1761.8 585.95 L1762.2 587.42 L1762.5 588.89 L1762.8 590.36 L1763.1 591.83 L1763.4 593.30 L1763.7 594.77 L1764.0 596.24 L1764.3 597.71 L1764.6 599.18 L1764.9 600.65 L1765.2 602.13 L1765.5 603.60 L1765.8 605.07 L1766.0 606.54 L1766.3 608.02 L1766.6 609.49 L1766.9 610.97 L1767.2 612.44 L1767.5 613.91 L1767.8 615.39 L1768.0 616.86 L1768.3 618.34 L1768.6 619.81 L1768.9 621.29 L1769.2 622.76 L1769.5 624.24 L1769.7 625.71 L1770.0 627.19 L1770.3 628.66 L1770.6 630.14 L1770.9 631.61 L1771.1 633.09 L1771.4 634.56 L1771.7 636.04 L1772.0 637.51 L1772.3 638.99 L1772.5 640.46 L1772.8 641.94 L1773.1 643.41 L1773.4 644.89 L1773.7 646.36 L1773.9 647.83 L1774.2 649.31 L1774.5 650.78 L1774.8 652.25 L1775.1 653.73 L1775.4 655.20 L1775.6 656.67 L1775.9 658.14 L1776.2 659.61 L1776.5 661.09 L1776.8 662.56 L1777.1 664.03 L1777.4 665.50 L1777.7 666.97 L1778.0 668.44 L1778.3 669.90 L1778.6 671.37 L1778.9 672.84 L1779.2 674.31 L1779.5 675.77 L1779.8 677.24 L1780.1 678.71 L1780.4 680.17 L1780.7 681.64 L1781.0 683.10 L1781.4 684.56 L1781.7 686.02 L1782.0 687.49 L1782.3 688.95 L1782.6 690.41 L1783.0 691.87 L1783.3 693.33 L1783.6 694.79 L1784.0 696.24 L1784.3 697.70 L1784.6 699.16 L1785.0 700.61 L1785.3 702.07 L1785.7 703.52 L1786.0 704.97 L1786.4 706.43 L1786.7 707.88 L1787.1 709.33 L1787.5 710.78 L1787.8 712.23 L1788.2 713.67 L1788.6 715.12 L1789.0 716.57 L1789.3 718.01 L1789.7 719.46 L1790.1 720.90 L1790.5 722.34 L1790.9 723.79 L1791.3 725.23 L1791.7 726.67 L1792.1 728.11 L1792.5 729.54 L1792.9 730.98 L1793.4 732.42 L1793.8 733.85 L1794.2 735.29 L1794.6 736.72 L1795.1 738.15 L1795.5 739.58 L1796.0 741.01 L1796.4 742.44 L1796.9 743.87 L1797.3 745.30 L1797.8 746.72 L1798.3 748.15 L1798.8 749.57 L1799.2 750.99 L1799.7 752.42 L1800.2 753.84 L1800.7 755.26 L1801.2 756.67 L1801.7 758.09 L1802.2 759.51 L1802.8 760.92 L1803.3 762.33 L1803.8 763.75 L1804.3 765.16 L1804.9 766.57 L1805.4 767.98 L1806.0 769.38 L1806.5 770.79 L1807.1 772.20 L1807.7 773.60 L1808.2 775.00 L1808.8 776.40 L1809.4 777.79 L1810.0 779.18 L1810.6 780.57 L1811.3 781.95 L1811.9 783.32 L1812.5 784.69 L1813.2 786.05 L1813.9 787.40 L1814.5 788.74 L1815.2 790.07 L1816.0 791.40 L1816.7 792.71 L1817.4 794.01 L1818.2 795.29 L1819.0 796.57 L1819.7 797.83 L1820.6 799.07 L1821.4 800.31 L1822.2 801.52 L1823.1 802.72 L1824.0 803.90 L1824.9 805.07 L1825.8 806.22 L1826.8 807.34 L1827.8 808.45 L1828.8 809.54 L1829.8 810.61 L1830.9 811.65 L1831.9 812.67 L1833.1 813.67 L1834.2 814.65 L1835.3 815.60 L1836.5 816.52 L1837.7 817.42 L1839.0 818.28 L1840.2 819.10 L1841.5 819.89 L1842.8 820.65 L1844.1 821.36 L1845.5 822.03 L1846.8 822.66 L1848.2 823.24 L1849.6 823.77 L1851.0 824.25 L1852.4 824.68 L1853.9 825.05 L1855.3 825.38 L1856.8 825.66 L1858.3 825.89 L1859.8 826.09 L1861.3 826.25 L1862.8 826.38 L1864.3 826.48 L1865.8 826.56 L1867.3 826.62 L1868.8 826.67 L1870.3 826.71 L1871.8 826.74 L1873.3 826.77 L1874.9 826.79 L1876.4 826.81 L1877.9 826.81 L1879.4 826.82 L1880.9 826.82 L1882.4 826.82 L1883.9 826.81 L1885.4 826.80 L1886.9 826.78 L1888.3 826.77 L1889.8 826.75 L1891.3 826.73 L1892.8 826.71 L1894.3 826.68 L1895.8 826.66 L1897.3 826.63 L1898.8 826.61 L1900.3 826.58 L1901.8 826.56 L1903.3 826.54 L1904.8 826.51 L1906.3 826.49 L1907.8 826.47 L1909.3 826.46 L1910.8 826.44 L1912.2 826.43 L1913.7 826.43 L1915.2 826.42 L1916.7 826.41 L1918.2 826.41 L1919.7 826.41 L1921.2 826.41 L1922.7 826.41 L1924.2 826.42 L1925.8 826.42 L1927.3 826.43 L1928.8 826.43 L1930.3 826.44 L1931.8 826.44 L1933.3 826.45 L1934.8 826.46 L1936.3 826.46 L1937.8 826.47 L1939.3 826.47 L1940.8 826.48 L1942.3 826.48 L1943.8 826.48 L1945.3 826.49 L1946.8 826.49 L1948.3 826.49 L1949.8 826.50 L1951.3 826.50 L1952.8 826.50 L1954.3 826.50 L1955.8 826.50 L1957.3 826.50 L1958.8 826.50 L1960.3 826.50 L1961.8 826.50 L1963.3 826.50 L1964.8 826.50 L1966.3 826.50 L1967.8 826.50 L1969.3 826.50 L1970.8 826.50 L1972.3 826.50 L1973.8 826.50 L1975.3 826.49 L1976.8 826.49 L1978.3 826.49 L1979.8 826.49 L1981.3 826.49 L1982.8 826.48 L1984.3 826.48 L1985.8 826.48 L1987.3 826.48 L1988.8 826.47 L1990.3 826.47 L1991.8 826.47 L1993.3 826.47 L1994.8 826.46 L1996.3 826.46 L1997.8 826.46 L1999.3 826.46 L2000.8 826.46 L2002.3 826.45 L2003.8 826.45 L2005.3 826.45 L2006.8 826.45 L2008.3 826.45 L2009.8 826.44 L2011.3 826.44 L2012.8 826.44 L2014.3 826.44 L2015.8 826.44 L2017.3 826.44 L2018.8 826.44 L2020.3 826.44 L2021.8 826.44 L2023.3 826.44 L2024.8 826.44 L2026.3 826.44 L2027.8 826.44 L2029.3 826.44 L2030.8 826.44 L2032.3 826.44 L2033.8 826.45 L2035.3 826.45 L2036.8 826.45 L2038.3 826.46 L2039.8 826.46 L2041.3 826.46 L2042.8 826.47 L2044.3 826.47 L2045.8 826.48 L2047.3 826.48 L2048.8 826.49 L2050.3 826.50 L2050.6 826.46"/>
<use href="#c10" x="0.00" y="0.75"/>
<use href="#c10" x="0.00" y="1.50"/>
<use href="#c10" x="0.00" y="2.25"/>
<use href="#c10" x="0.00" y="3.00"/>
<use href="#c10" x="1.00" y="0.00"/>
<use href="#c10" x="1.00" y="0.75"/>
<use href="#c10" x="1.00" y="1.50"/>
<use href="#c10" x="1.00" y="2.25"/>
<use href="#c10" x="1.00" y="3.00"/>
</g>
<g fill="none" stroke="#ff00ff" stroke-width="1.30" stroke-linejoin="round" stroke-linecap="butt">
<path id="c11" transform="translate(-0.25 -1.35)" d="M1338.6 824.92 L1340.1 824.97 L1341.6 824.94 L1343.1 824.92 L1344.6 824.90 L1346.1 824.89 L1347.6 824.87 L1349.2 824.86 L1350.7 824.86 L1352.2 824.85 L1353.7 824.85 L1355.2 824.84 L1356.7 824.84 L1358.2 824.85 L1359.7 824.85 L1361.2 824.85 L1362.6 824.86 L1364.1 824.87 L1365.6 824.88 L1367.1 824.88 L1368.6 824.89 L1370.1 824.90 L1371.6 824.92 L1373.1 824.93 L1374.6 824.94 L1376.1 824.95 L1377.6 824.96 L1379.1 824.97 L1380.6 824.98 L1382.1 824.99 L1383.6 825.00 L1385.1 825.01 L1386.6 825.02 L1388.1 825.02 L1389.6 825.03 L1391.1 825.03 L1392.6 825.04 L1394.1 825.04 L1395.6 825.04 L1397.1 825.03 L1398.6 825.03 L1400.1 825.02 L1401.6 825.01 L1403.1 825.00 L1404.6 824.99 L1406.1 824.98 L1407.6 824.96 L1409.1 824.94 L1410.6 824.93 L1412.2 824.91 L1413.7 824.89 L1415.2 824.87 L1416.7 824.85 L1418.2 824.83 L1419.7 824.81 L1421.2 824.79 L1422.7 824.77 L1424.2 824.75 L1425.7 824.73 L1427.2 824.71 L1428.7 824.69 L1430.2 824.68 L1431.7 824.66 L1433.2 824.65 L1434.7 824.64 L1436.2 824.63 L1437.6 824.63 L1439.1 824.62 L1440.6 824.62 L1442.1 824.62 L1443.6 824.63 L1445.0 824.64 L1446.5 824.65 L1448.0 824.66 L1449.4 824.68 L1450.9 824.70 L1452.4 824.73 L1453.8 824.77 L1455.3 824.82 L1456.8 824.88 L1458.2 824.96 L1459.7 825.06 L1461.2 825.18 L1462.7 825.33 L1464.2 825.49 L1465.7 825.64 L1467.2 825.76 L1468.7 825.83 L1470.2 825.82 L1471.6 825.72 L1473.1 825.49 L1474.4 825.11 L1475.8 824.58 L1477.1 823.90 L1478.3 823.09 L1479.6 822.20 L1480.8 821.23 L1482.0 820.22 L1483.2 819.18 L1484.4 818.15 L1485.6 817.15 L1486.8 816.20 L1488.1 815.33 L1489.4 814.55 L1490.7 813.91 L1492.0 813.39 L1493.4 813.00 L1494.8 812.73 L1496.2 812.58 L1497.7 812.54 L1499.2 812.62 L1500.7 812.81 L1502.2 813.08 L1503.7 813.38 L1505.3 813.64 L1506.7 813.82 L1508.2 813.86 L1509.5 813.71 L1510.8 813.32 L1512.0 812.69 L1513.1 811.86 L1514.1 810.86 L1515.1 809.72 L1516.1 808.48 L1517.0 807.18 L1517.9 805.85 L1518.8 804.52 L1519.8 803.23 L1520.7 802.02 L1521.7 800.87 L1522.8 799.79 L1523.8 798.76 L1524.9 797.79 L1526.0 796.87 L1527.1 795.99 L1528.3 795.15 L1529.5 794.33 L1530.8 793.54 L1532.1 792.77 L1533.4 792.01 L1534.7 791.22 L1536.0 790.40 L1537.2 789.53 L1538.3 788.59 L1539.4 787.58 L1540.4 786.50 L1541.4 785.38 L1542.3 784.20 L1543.1 782.99 L1543.9 781.73 L1544.7 780.45 L1545.5 779.15 L1546.2 777.83 L1546.9 776.50 L1547.7 775.17 L1548.4 773.85 L1549.1 772.53 L1549.9 771.23 L1550.7 769.95 L1551.5 768.68 L1552.3 767.42 L1553.1 766.18 L1553.9 764.94 L1554.8 763.71 L1555.6 762.48 L1556.5 761.26 L1557.3 760.05 L1558.2 758.83 L1559.0 757.61 L1559.9 756.40 L1560.8 755.18 L1561.6 753.95 L1562.5 752.72 L1563.3 751.49 L1564.2 750.25 L1565.0 749.00 L1565.8 747.75 L1566.6 746.49 L1567.5 745.23 L1568.3 743.97 L1569.1 742.70 L1569.9 741.42 L1570.7 740.14 L1571.5 738.86 L1572.3 737.57 L1573.0 736.28 L1573.8 734.98 L1574.5 733.68 L1575.3 732.37 L1576.0 731.06 L1576.8 729.74 L1577.5 728.42 L1578.2 727.10 L1578.9 725.77 L1579.6 724.44 L1580.3 723.10 L1580.9 721.76 L1581.6 720.41 L1582.2 719.06 L1582.9 717.71 L1583.5 716.35 L1584.1 714.99 L1584.7 713.63 L1585.4 712.26 L1585.9 710.89 L1586.5 709.51 L1587.1 708.13 L1587.7 706.75 L1588.2 705.37 L1588.8 703.98 L1589.3 702.59 L1589.9 701.19 L1590.4 699.79 L1590.9 698.39 L1591.4 696.99 L1591.9 695.58 L1592.4 694.17 L1592.9 692.76 L1593.4 691.35 L1593.9 689.93 L1594.4 688.51 L1594.8 687.09 L1595.3 685.66 L1595.7 684.24 L1596.2 682.81 L1596.6 681.38 L1597.1 679.95 L1597.5 678.51 L1597.9 677.07 L1598.3 675.64 L1598.7 674.19 L1599.1 672.75 L1599.6 671.31 L1600.0 669.86 L1600.3 668.42 L1600.7 666.97 L1601.1 665.52 L1601.5 664.07 L1601.9 662.62 L1602.3 661.16 L1602.6 659.71 L1603.0 658.25 L1603.4 656.80 L1603.7 655.34 L1604.1 653.88 L1604.4 652.42 L1604.8 650.96 L1605.2 649.50 L1605.5 648.04 L1605.9 646.58 L1606.2 645.12 L1606.5 643.66 L1606.9 642.19 L1607.2 640.73 L1607.6 639.27 L1607.9 637.80 L1608.2 636.34 L1608.6 634.87 L1608.9 633.41 L1609.2 631.94 L1609.6 630.48 L1609.9 629.01 L1610.2 627.55 L1610.5 626.08 L1610.8 624.61 L1611.2 623.15 L1611.5 621.68 L1611.8 620.21 L1612.1 618.75 L1612.4 617.28 L1612.8 615.81 L1613.1 614.34 L1613.4 612.87 L1613.7 611.40 L1614.0 609.94 L1614.3 608.47 L1614.6 607.00 L1614.9 605.53 L1615.2 604.06 L1615.5 602.59 L1615.9 601.12 L1616.2 599.65 L1616.5 598.18 L1616.8 596.71 L1617.1 595.24 L1617.4 593.77 L1617.7 592.30 L1618.0 590.83 L1618.3 589.36 L1618.6 587.89 L1618.9 586.42 L1619.2 584.95 L1619.5 583.48 L1619.8 582.01 L1620.1 580.54 L1620.4 579.07 L1620.7 577.60 L1621.0 576.13 L1621.3 574.67 L1621.6 573.20 L1621.9 571.73 L1622.2 570.26 L1622.5 568.79 L1622.8 567.32 L1623.1 565.85 L1623.4 564.38 L1623.7 562.92 L1624.1 561.45 L1624.4 559.98 L1624.7 558.51 L1625.0 557.05 L1625.3 555.58 L1625.6 554.11 L1625.9 552.65 L1626.2 551.18 L1626.5 549.72 L1626.9 548.25 L1627.2 546.79 L1627.5 545.32 L1627.8 543.86 L1628.1 542.39 L1628.4 540.93 L1628.8 539.47 L1629.1 538.00 L1629.4 536.54 L1629.7 535.08 L1630.1 533.62 L1630.4 532.16 L1630.7 530.69 L1631.1 529.23 L1631.4 527.77 L1631.7 526.32 L1632.1 524.86 L1632.4 523.40 L1632.7 521.94 L1633.1 520.48 L1633.4 519.03 L1633.8 517.57 L1634.1 516.11 L1634.5 514.66 L1634.8 513.21 L1635.2 511.75 L1635.5 510.30 L1635.9 508.85 L1636.3 507.39 L1636.6 505.94 L1637.0 504.49 L1637.4 503.04 L1637.7 501.59 L1638.1 500.14 L1638.5 498.70 L1638.9 497.25 L1639.3 495.80 L1639.6 494.36 L1640.0 492.91 L1640.4 491.47 L1640.8 490.02 L1641.2 488.58 L1641.6 487.14 L1642.0 485.70 L1642.4 484.26 L1642.8 482.82 L1643.3 481.38 L1643.7 479.94 L1644.1 478.50 L1644.5 477.07 L1645.0 475.63 L1645.4 474.20 L1645.9 472.76 L1646.3 471.33 L1646.8 469.90 L1647.3 468.46 L1647.8 467.03 L1648.2 465.60 L1648.7 464.17 L1649.3 462.74 L1649.8 461.32 L1650.3 459.89 L1650.8 458.46 L1651.4 457.04 L1651.9 455.61 L1652.5 454.19 L1653.0 452.76 L1653.6 451.34 L1654.2 449.92 L1654.8 448.52 L1655.5 447.15 L1656.2 445.81 L1656.9 444.51 L1657.8 443.27 L1658.6 442.09 L1659.6 440.98 L1660.6 439.96 L1661.8 439.02 L1663.0 438.19 L1664.3 437.49 L1665.7 436.96 L1667.1 436.65 L1668.5 436.60 L1669.9 436.84 L1671.2 437.35 L1672.5 438.07 L1673.8 438.96 L1674.9 439.97 L1675.9 441.05 L1676.8 442.21 L1677.7 443.43 L1678.4 444.70 L1679.1 446.02 L1679.7 447.39 L1680.3 448.79 L1680.9 450.21 L1681.4 451.66 L1681.9 453.12 L1682.4 454.59 L1682.8 456.06 L1683.3 457.52 L1683.8 458.97 L1684.3 460.42 L1684.8 461.86 L1685.3 463.29 L1685.8 464.72 L1686.3 466.15 L1686.8 467.57 L1687.3 468.98 L1687.8 470.40 L1688.4 471.81 L1688.9 473.22 L1689.4 474.62 L1689.9 476.03 L1690.4 477.43 L1690.9 478.84 L1691.4 480.24 L1691.9 481.65 L1692.4 483.06 L1692.9 484.46 L1693.3 485.88 L1693.8 487.29 L1694.2 488.71 L1694.7 490.13 L1695.1 491.55 L1695.6 492.97 L1696.0 494.40 L1696.4 495.83 L1696.8 497.27 L1697.2 498.70 L1697.6 500.14 L1698.0 501.58 L1698.4 503.02 L1698.8 504.47 L1699.1 505.91 L1699.5 507.36 L1699.9 508.81 L1700.2 510.26 L1700.6 511.72 L1700.9 513.17 L1701.3 514.63 L1701.6 516.09 L1701.9 517.55 L1702.3 519.01 L1702.6 520.48 L1702.9 521.94 L1703.2 523.41 L1703.5 524.88 L1703.8 526.35 L1704.1 527.82 L1704.4 529.29 L1704.7 530.76 L1705.0 532.23 L1705.3 533.70 L1705.6 535.18 L1705.9 536.65 L1706.1 538.13 L1706.4 539.61 L1706.7 541.08 L1707.0 542.56 L1707.2 544.04 L1707.5 545.52 L1707.8 547.00 L1708.1 548.47 L1708.3 549.95 L1708.6 551.43 L1708.9 552.91 L1709.1 554.39 L1709.4 555.87 L1709.7 557.35 L1709.9 558.83 L1710.2 560.30 L1710.4 561.78 L1710.7 563.26 L1711.0 564.74 L1711.2 566.21 L1711.5 567.69 L1711.8 569.17 L1712.0 570.64 L1712.3 572.12 L1712.6 573.59 L1712.8 575.07 L1713.1 576.54 L1713.4 578.02 L1713.6 579.49 L1713.9 580.97 L1714.2 582.44 L1714.4 583.92 L1714.7 585.39 L1715.0 586.87 L1715.2 588.34 L1715.5 589.81 L1715.7 591.29 L1716.0 592.76 L1716.3 594.24 L1716.5 595.71 L1716.8 597.18 L1717.1 598.66 L1717.3 600.13 L1717.6 601.60 L1717.9 603.08 L1718.1 604.55 L1718.4 606.02 L1718.7 607.50 L1718.9 608.97 L1719.2 610.44 L1719.5 611.92 L1719.7 613.39 L1720.0 614.86 L1720.3 616.34 L1720.5 617.81 L1720.8 619.28 L1721.1 620.76 L1721.3 622.23 L1721.6 623.71 L1721.9 625.18 L1722.1 626.65 L1722.4 628.13 L1722.7 629.60 L1722.9 631.08 L1723.2 632.55 L1723.5 634.03 L1723.7 635.50 L1724.0 636.98 L1724.3 638.45 L1724.5 639.93 L1724.8 641.40 L1725.1 642.88 L1725.3 644.36 L1725.6 645.83 L1725.9 647.31 L1726.1 648.79 L1726.4 650.26 L1726.7 651.74 L1726.9 653.22 L1727.2 654.70 L1727.5 656.17 L1727.8 657.65 L1728.0 659.13 L1728.3 660.61 L1728.6 662.09 L1728.8 663.57 L1729.1 665.04 L1729.4 666.52 L1729.7 668.00 L1729.9 669.48 L1730.2 670.96 L1730.5 672.43 L1730.8 673.91 L1731.0 675.39 L1731.3 676.87 L1731.6 678.35 L1731.9 679.82 L1732.1 681.30 L1732.4 682.78 L1732.7 684.25 L1733.0 685.73 L1733.3 687.20 L1733.6 688.68 L1733.9 690.15 L1734.2 691.63 L1734.4 693.10 L1734.7 694.58 L1735.0 696.05 L1735.3 697.52 L1735.6 698.99 L1735.9 700.46 L1736.2 701.93 L1736.5 703.40 L1736.8 704.87 L1737.1 706.34 L1737.5 707.81 L1737.8 709.28 L1738.1 710.75 L1738.4 712.21 L1738.7 713.68 L1739.0 715.14 L1739.4 716.60 L1739.7 718.07 L1740.0 719.53 L1740.3 720.99 L1740.7 722.45 L1741.0 723.91 L1741.3 725.37 L1741.7 726.83 L1742.0 728.28 L1742.4 729.74 L1742.7 731.19 L1743.1 732.64 L1743.4 734.10 L1743.8 735.55 L1744.1 737.00 L1744.5 738.44 L1744.9 739.89 L1745.2 741.34 L1745.6 742.78 L1746.0 744.22 L1746.4 745.66 L1746.8 747.10 L1747.2 748.54 L1747.6 749.98 L1748.0 751.41 L1748.4 752.84 L1748.8 754.27 L1749.2 755.70 L1749.7 757.12 L1750.1 758.55 L1750.6 759.97 L1751.0 761.38 L1751.5 762.80 L1752.0 764.21 L1752.5 765.62 L1753.0 767.03 L1753.5 768.44 L1754.0 769.84 L1754.5 771.24 L1755.1 772.64 L1755.6 774.03 L1756.2 775.42 L1756.8 776.81 L1757.3 778.19 L1757.9 779.57 L1758.6 780.95 L1759.2 782.33 L1759.8 783.70 L1760.5 785.06 L1761.1 786.43 L1761.8 787.79 L1762.5 789.14 L1763.2 790.50 L1763.9 791.84 L1764.7 793.19 L1765.4 794.52 L1766.2 795.85 L1767.0 797.16 L1767.8 798.47 L1768.6 799.76 L1769.4 801.03 L1770.3 802.29 L1771.2 803.52 L1772.1 804.74 L1773.0 805.94 L1773.9 807.11 L1774.9 808.26 L1775.9 809.38 L1776.9 810.48 L1777.9 811.54 L1778.9 812.57 L1780.0 813.57 L1781.1 814.54 L1782.2 815.47 L1783.3 816.36 L1784.5 817.21 L1785.7 818.02 L1786.9 818.79 L1788.2 819.52 L1789.4 820.20 L1790.7 820.83 L1792.0 821.41 L1793.4 821.95 L1794.8 822.43 L1796.2 822.86 L1797.6 823.23 L1799.1 823.56 L1800.6 823.85 L1802.1 824.09 L1803.6 824.29 L1805.1 824.46 L1806.7 824.59 L1808.2 824.70 L1809.8 824.77 L1811.3 824.82 L1812.9 824.85 L1814.4 824.86 L1816.0 824.86 L1817.5 824.84 L1819.1 824.81 L1820.6 824.77 L1822.1 824.73 L1823.6 824.69 L1825.0 824.65 L1826.5 824.62 L1827.9 824.59 L1829.3 824.57 L1830.7 824.56 L1832.0 824.55 L1833.4 824.54 L1834.8 824.53 L1836.2 824.51 L1837.6 824.50 L1839.1 824.48 L1840.6 824.45 L1842.1 824.42 L1843.7 824.38 L1845.3 824.32 L1847.0 824.25 L1847.2 824.29"/>
<use href="#c11" x="0.00" y="0.90"/>
<use href="#c11" x="0.00" y="1.80"/>
<use href="#c11" x="0.00" y="2.70"/>
<use href="#c11" x="0.50" y="0.00"/>
<use href="#c11" x="0.50" y="0.90"/>
<use href="#c11" x="0.50" y="1.80"/>
<use href="#c11" x="0.50" y="2.70"/>
</g>
<path d="M769.1 101.3H859.1" stroke="#000000" stroke-width="4.3" fill="none"/>
<path d="M769.1 165.5H859.1" stroke="#ff0000" stroke-width="4.3" fill="none"/>
<path d="M769.1 248.8H859.1" stroke="#0000ff" stroke-width="4.3" fill="none"/>
<path d="M769.1 332.7H859.1" stroke="#008000" stroke-width="4.3" fill="none"/>
<path d="M769.1 416.4H859.1" stroke="#ff00ff" stroke-width="4.3" fill="none"/>
<path d="M1349.0 43.4H1437.5" stroke="#000000" stroke-width="4.3" fill="none"/>
<path d="M1349.0 105.6H1437.5" stroke="#ff0000" stroke-width="4.3" fill="none"/>
<path d="M1349.0 188.9H1437.5" stroke="#0000ff" stroke-width="4.3" fill="none"/>
<path d="M1349.0 272.7H1437.5" stroke="#b00000" stroke-width="4.3" fill="none"/>
<path d="M1349.0 356.4H1437.5" stroke="#008000" stroke-width="5.2" fill="none"/>
<path d="M1349.0 440.3H1437.5" stroke="#ff00ff" stroke-width="4.3" fill="none"/>
<g font-family="'Liberation Sans', Arial, sans-serif" fill="#000">
<text transform="translate(126.73 119.20) scale(0.7271 1)" font-size="45.04" stroke="#fff" stroke-width="0.25">0.006</text>
<text transform="translate(126.73 354.20) scale(0.7242 1)" font-size="45.04" stroke="#fff" stroke-width="0.25">0.004</text>
<text transform="translate(126.72 589.30) scale(0.7301 1)" font-size="45.04" stroke="#fff" stroke-width="0.25">0.002</text>
<text transform="translate(126.73 824.40) scale(0.7271 1)" font-size="45.04" stroke="#fff" stroke-width="0.25">0.000</text>
<text transform="translate(353.30 932.00) scale(0.6939 1)" font-size="44.04" stroke="#fff" stroke-width="0.25">3</text>
<text transform="translate(518.53 932.00) scale(0.6664 1)" font-size="44.04" stroke="#fff" stroke-width="0.25">4</text>
<text transform="translate(682.76 932.00) scale(0.6983 1)" font-size="44.67" stroke="#fff" stroke-width="0.25">5</text>
<text transform="translate(847.32 932.00) scale(0.7238 1)" font-size="44.04" stroke="#fff" stroke-width="0.25">6</text>
<text transform="translate(1012.18 932.00) scale(0.7398 1)" font-size="44.04" stroke="#fff" stroke-width="0.25">7</text>
<text transform="translate(305.10 143.80) scale(0.6931 1)" font-size="86.57" font-weight="bold">A</text>
<text transform="translate(75.00 551.91) rotate(-90) scale(1.3850 1)" font-size="36.99">fraction</text>
<text transform="translate(545.59 1013.10) scale(0.8171 1)" font-size="47.16" stroke="#fff" stroke-width="0.25">log [M</text>
<text transform="translate(652.80 1032.90) scale(0.8586 1)" font-size="24.58" fill="#2a2a2a" stroke="#fff" stroke-width="0.25">w</text>
<text transform="translate(668.96 1013.10) scale(0.8253 1)" font-size="47.16" stroke="#fff" stroke-width="0.25">(Da)]</text>
<text transform="translate(868.42 118.90) scale(0.7796 1)" font-size="48.89" stroke="#fff" stroke-width="0.25">nALG</text>
<text transform="translate(867.77 180.90) scale(0.7742 1)" font-size="49.46" stroke="#fff" stroke-width="0.25">oALG</text>
<text transform="translate(978.92 203.30) scale(0.7385 1)" font-size="40.46" stroke="#fff" stroke-width="0.25">DS 0.25</text>
<text transform="translate(867.77 264.20) scale(0.7697 1)" font-size="49.75" stroke="#fff" stroke-width="0.25">oALG</text>
<text transform="translate(978.96 284.70) scale(0.7232 1)" font-size="40.60" stroke="#fff" stroke-width="0.25">DS 0.31</text>
<text transform="translate(867.77 347.50) scale(0.7832 1)" font-size="48.89" stroke="#fff" stroke-width="0.25">oALG</text>
<text transform="translate(978.90 368.00) scale(0.7574 1)" font-size="39.75" stroke="#fff" stroke-width="0.25">DS 0.43</text>
<text transform="translate(867.77 431.40) scale(0.7855 1)" font-size="48.75" stroke="#fff" stroke-width="0.25">oALG</text>
<text transform="translate(978.89 451.80) scale(0.7650 1)" font-size="39.47" stroke="#fff" stroke-width="0.25">DS 0.49</text>
<text transform="translate(1219.05 109.30) scale(0.7467 1)" font-size="51.61" stroke="#fff" stroke-width="0.25">0.008</text>
<text transform="translate(1219.05 291.90) scale(0.7467 1)" font-size="51.61" stroke="#fff" stroke-width="0.25">0.006</text>
<text transform="translate(1219.06 474.50) scale(0.7437 1)" font-size="51.61" stroke="#fff" stroke-width="0.25">0.004</text>
<text transform="translate(1219.05 656.90) scale(0.7498 1)" font-size="51.61" stroke="#fff" stroke-width="0.25">0.002</text>
<text transform="translate(1219.05 839.30) scale(0.7467 1)" font-size="51.61" stroke="#fff" stroke-width="0.25">0.000</text>
<text transform="translate(1459.49 938.40) scale(0.7354 1)" font-size="50.46" stroke="#fff" stroke-width="0.25">3</text>
<text transform="translate(1624.45 938.40) scale(0.7062 1)" font-size="50.46" stroke="#fff" stroke-width="0.25">4</text>
<text transform="translate(1788.19 938.40) scale(0.7400 1)" font-size="51.20" stroke="#fff" stroke-width="0.25">5</text>
<text transform="translate(1952.32 938.40) scale(0.7670 1)" font-size="50.46" stroke="#fff" stroke-width="0.25">6</text>
<text transform="translate(2116.82 938.40) scale(0.7839 1)" font-size="50.46" stroke="#fff" stroke-width="0.25">7</text>
<text transform="translate(2071.65 145.50) scale(0.7040 1)" font-size="86.38" font-weight="bold">B</text>
<text transform="translate(1168.20 553.82) rotate(-90) scale(1.3964 1)" font-size="37.40">fraction</text>
<text transform="translate(1653.30 1023.40) scale(0.8067 1)" font-size="47.43" stroke="#fff" stroke-width="0.25">log [M</text>
<text transform="translate(1758.51 1043.00) scale(0.7909 1)" font-size="26.65" fill="#2a2a2a" stroke="#fff" stroke-width="0.25">w</text>
<text transform="translate(1776.73 1023.40) scale(0.7983 1)" font-size="47.43" stroke="#fff" stroke-width="0.25">(Da)]</text>
<text transform="translate(1446.08 58.90) scale(0.7956 1)" font-size="48.59" stroke="#fff" stroke-width="0.25">nHA</text>
<text transform="translate(1446.05 122.40) scale(0.7983 1)" font-size="48.44" stroke="#fff" stroke-width="0.25">oHA</text>
<text transform="translate(1532.98 142.80) scale(0.7637 1)" font-size="39.61" stroke="#fff" stroke-width="0.25">DS 0.02</text>
<text transform="translate(1446.05 205.80) scale(0.7983 1)" font-size="48.44" stroke="#fff" stroke-width="0.25">oHA</text>
<text transform="translate(1532.98 226.20) scale(0.7637 1)" font-size="39.61" stroke="#fff" stroke-width="0.25">DS 0.12</text>
<text transform="translate(1446.05 289.80) scale(0.7983 1)" font-size="48.44" stroke="#fff" stroke-width="0.25">oHA</text>
<text transform="translate(1532.99 310.20) scale(0.7615 1)" font-size="39.61" stroke="#fff" stroke-width="0.25">DS 0.08</text>
<text transform="translate(1446.05 373.40) scale(0.7983 1)" font-size="48.44" stroke="#fff" stroke-width="0.25">oHA</text>
<text transform="translate(1533.05 393.80) scale(0.7427 1)" font-size="39.61" stroke="#fff" stroke-width="0.25">DS 0.51</text>
<text transform="translate(1446.05 457.40) scale(0.7959 1)" font-size="48.59" stroke="#fff" stroke-width="0.25">oHA</text>
<text transform="translate(1533.00 477.80) scale(0.7593 1)" font-size="39.61" stroke="#fff" stroke-width="0.25">DS 0.72</text>
</g>
</g>
</svg>
</body>
</html>
